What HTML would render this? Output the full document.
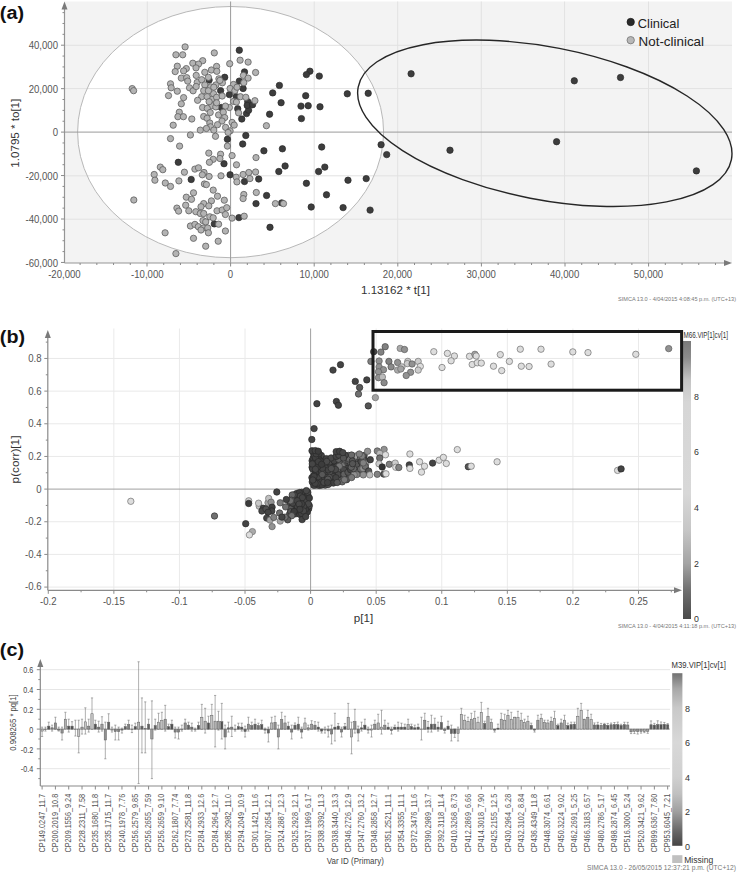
<!DOCTYPE html><html><head><meta charset="utf-8"><style>html,body{margin:0;padding:0;background:#fff;width:738px;height:874px;overflow:hidden}svg{display:block;font-family:"Liberation Sans",sans-serif}</style></head><body><svg width="738" height="874" viewBox="0 0 738 874" font-family='"Liberation Sans", sans-serif'>
<rect width="738" height="874" fill="#ffffff"/>
<rect x="64.5" y="1.5" width="667.5" height="261.5" fill="#f3f3f3"/>
<ellipse cx="230.6" cy="132.1" rx="153" ry="125.6" fill="#ffffff"/>
<line x1="147.3" y1="1.5" x2="147.3" y2="263" stroke="#e2e2e2" stroke-width="1"/>
<line x1="314.2" y1="1.5" x2="314.2" y2="263" stroke="#e2e2e2" stroke-width="1"/>
<line x1="397.7" y1="1.5" x2="397.7" y2="263" stroke="#e2e2e2" stroke-width="1"/>
<line x1="481.3" y1="1.5" x2="481.3" y2="263" stroke="#e2e2e2" stroke-width="1"/>
<line x1="564.6" y1="1.5" x2="564.6" y2="263" stroke="#e2e2e2" stroke-width="1"/>
<line x1="648.5" y1="1.5" x2="648.5" y2="263" stroke="#e2e2e2" stroke-width="1"/>
<line x1="64.5" y1="45.3" x2="732" y2="45.3" stroke="#e2e2e2" stroke-width="1"/>
<line x1="64.5" y1="88.6" x2="732" y2="88.6" stroke="#e2e2e2" stroke-width="1"/>
<line x1="64.5" y1="175.8" x2="732" y2="175.8" stroke="#e2e2e2" stroke-width="1"/>
<line x1="64.5" y1="219.2" x2="732" y2="219.2" stroke="#e2e2e2" stroke-width="1"/>
<ellipse cx="230.6" cy="132.1" rx="153" ry="125.6" fill="none" stroke="#b8b8b8" stroke-width="1"/>
<line x1="64.5" y1="132.1" x2="732" y2="132.1" stroke="#9a9a9a" stroke-width="1"/>
<line x1="230.6" y1="1.5" x2="230.6" y2="263" stroke="#9a9a9a" stroke-width="1"/>
<line x1="64.5" y1="8" x2="64.5" y2="263" stroke="#959595" stroke-width="1.2"/>
<path d="M64.5 1.5 L61.5 9.5 L67.5 9.5 Z" fill="#7a7a7a"/>
<line x1="64.5" y1="263" x2="724" y2="263" stroke="#959595" stroke-width="1.2"/>
<path d="M732 263 L724 260 L724 266 Z" fill="#7a7a7a"/>
<line x1="61" y1="262.44" x2="64.5" y2="262.44" stroke="#8a8a8a" stroke-width="1"/>
<line x1="62.5" y1="251.58" x2="64.5" y2="251.58" stroke="#8a8a8a" stroke-width="1"/>
<line x1="62.5" y1="240.72" x2="64.5" y2="240.72" stroke="#8a8a8a" stroke-width="1"/>
<line x1="62.5" y1="229.86" x2="64.5" y2="229.86" stroke="#8a8a8a" stroke-width="1"/>
<line x1="61" y1="219" x2="64.5" y2="219" stroke="#8a8a8a" stroke-width="1"/>
<line x1="62.5" y1="208.13" x2="64.5" y2="208.13" stroke="#8a8a8a" stroke-width="1"/>
<line x1="62.5" y1="197.27" x2="64.5" y2="197.27" stroke="#8a8a8a" stroke-width="1"/>
<line x1="62.5" y1="186.41" x2="64.5" y2="186.41" stroke="#8a8a8a" stroke-width="1"/>
<line x1="61" y1="175.55" x2="64.5" y2="175.55" stroke="#8a8a8a" stroke-width="1"/>
<line x1="62.5" y1="164.69" x2="64.5" y2="164.69" stroke="#8a8a8a" stroke-width="1"/>
<line x1="62.5" y1="153.82" x2="64.5" y2="153.82" stroke="#8a8a8a" stroke-width="1"/>
<line x1="62.5" y1="142.96" x2="64.5" y2="142.96" stroke="#8a8a8a" stroke-width="1"/>
<line x1="61" y1="132.1" x2="64.5" y2="132.1" stroke="#8a8a8a" stroke-width="1"/>
<line x1="62.5" y1="121.24" x2="64.5" y2="121.24" stroke="#8a8a8a" stroke-width="1"/>
<line x1="62.5" y1="110.38" x2="64.5" y2="110.38" stroke="#8a8a8a" stroke-width="1"/>
<line x1="62.5" y1="99.51" x2="64.5" y2="99.51" stroke="#8a8a8a" stroke-width="1"/>
<line x1="61" y1="88.65" x2="64.5" y2="88.65" stroke="#8a8a8a" stroke-width="1"/>
<line x1="62.5" y1="77.79" x2="64.5" y2="77.79" stroke="#8a8a8a" stroke-width="1"/>
<line x1="62.5" y1="66.93" x2="64.5" y2="66.93" stroke="#8a8a8a" stroke-width="1"/>
<line x1="62.5" y1="56.07" x2="64.5" y2="56.07" stroke="#8a8a8a" stroke-width="1"/>
<line x1="61" y1="45.2" x2="64.5" y2="45.2" stroke="#8a8a8a" stroke-width="1"/>
<line x1="62.5" y1="34.34" x2="64.5" y2="34.34" stroke="#8a8a8a" stroke-width="1"/>
<line x1="62.5" y1="23.48" x2="64.5" y2="23.48" stroke="#8a8a8a" stroke-width="1"/>
<line x1="62.5" y1="12.62" x2="64.5" y2="12.62" stroke="#8a8a8a" stroke-width="1"/>
<text transform="translate(58 49.3) scale(1.0 1.18)" font-size="9.6" text-anchor="end" fill="#555" >40,000</text>
<text transform="translate(58 92.6) scale(1.0 1.18)" font-size="9.6" text-anchor="end" fill="#555" >20,000</text>
<text transform="translate(58 136.1) scale(1.0 1.18)" font-size="9.6" text-anchor="end" fill="#555" >0</text>
<text transform="translate(58 179.8) scale(1.0 1.18)" font-size="9.6" text-anchor="end" fill="#555" >-20,000</text>
<text transform="translate(58 223.2) scale(1.0 1.18)" font-size="9.6" text-anchor="end" fill="#555" >-40,000</text>
<text transform="translate(58 266.6) scale(1.0 1.18)" font-size="9.6" text-anchor="end" fill="#555" >-60,000</text>
<line x1="80.12" y1="263" x2="80.12" y2="265" stroke="#8a8a8a" stroke-width="1"/>
<line x1="96.84" y1="263" x2="96.84" y2="265" stroke="#8a8a8a" stroke-width="1"/>
<line x1="113.56" y1="263" x2="113.56" y2="265" stroke="#8a8a8a" stroke-width="1"/>
<line x1="130.28" y1="263" x2="130.28" y2="265" stroke="#8a8a8a" stroke-width="1"/>
<line x1="147" y1="263" x2="147" y2="266.5" stroke="#8a8a8a" stroke-width="1"/>
<line x1="163.72" y1="263" x2="163.72" y2="265" stroke="#8a8a8a" stroke-width="1"/>
<line x1="180.44" y1="263" x2="180.44" y2="265" stroke="#8a8a8a" stroke-width="1"/>
<line x1="197.16" y1="263" x2="197.16" y2="265" stroke="#8a8a8a" stroke-width="1"/>
<line x1="213.88" y1="263" x2="213.88" y2="265" stroke="#8a8a8a" stroke-width="1"/>
<line x1="230.6" y1="263" x2="230.6" y2="266.5" stroke="#8a8a8a" stroke-width="1"/>
<line x1="247.32" y1="263" x2="247.32" y2="265" stroke="#8a8a8a" stroke-width="1"/>
<line x1="264.04" y1="263" x2="264.04" y2="265" stroke="#8a8a8a" stroke-width="1"/>
<line x1="280.76" y1="263" x2="280.76" y2="265" stroke="#8a8a8a" stroke-width="1"/>
<line x1="297.48" y1="263" x2="297.48" y2="265" stroke="#8a8a8a" stroke-width="1"/>
<line x1="314.2" y1="263" x2="314.2" y2="266.5" stroke="#8a8a8a" stroke-width="1"/>
<line x1="330.92" y1="263" x2="330.92" y2="265" stroke="#8a8a8a" stroke-width="1"/>
<line x1="347.64" y1="263" x2="347.64" y2="265" stroke="#8a8a8a" stroke-width="1"/>
<line x1="364.36" y1="263" x2="364.36" y2="265" stroke="#8a8a8a" stroke-width="1"/>
<line x1="381.08" y1="263" x2="381.08" y2="265" stroke="#8a8a8a" stroke-width="1"/>
<line x1="397.8" y1="263" x2="397.8" y2="266.5" stroke="#8a8a8a" stroke-width="1"/>
<line x1="414.52" y1="263" x2="414.52" y2="265" stroke="#8a8a8a" stroke-width="1"/>
<line x1="431.24" y1="263" x2="431.24" y2="265" stroke="#8a8a8a" stroke-width="1"/>
<line x1="447.96" y1="263" x2="447.96" y2="265" stroke="#8a8a8a" stroke-width="1"/>
<line x1="464.68" y1="263" x2="464.68" y2="265" stroke="#8a8a8a" stroke-width="1"/>
<line x1="481.4" y1="263" x2="481.4" y2="266.5" stroke="#8a8a8a" stroke-width="1"/>
<line x1="498.12" y1="263" x2="498.12" y2="265" stroke="#8a8a8a" stroke-width="1"/>
<line x1="514.84" y1="263" x2="514.84" y2="265" stroke="#8a8a8a" stroke-width="1"/>
<line x1="531.56" y1="263" x2="531.56" y2="265" stroke="#8a8a8a" stroke-width="1"/>
<line x1="548.28" y1="263" x2="548.28" y2="265" stroke="#8a8a8a" stroke-width="1"/>
<line x1="565" y1="263" x2="565" y2="266.5" stroke="#8a8a8a" stroke-width="1"/>
<line x1="581.72" y1="263" x2="581.72" y2="265" stroke="#8a8a8a" stroke-width="1"/>
<line x1="598.44" y1="263" x2="598.44" y2="265" stroke="#8a8a8a" stroke-width="1"/>
<line x1="615.16" y1="263" x2="615.16" y2="265" stroke="#8a8a8a" stroke-width="1"/>
<line x1="631.88" y1="263" x2="631.88" y2="265" stroke="#8a8a8a" stroke-width="1"/>
<line x1="648.6" y1="263" x2="648.6" y2="266.5" stroke="#8a8a8a" stroke-width="1"/>
<line x1="665.32" y1="263" x2="665.32" y2="265" stroke="#8a8a8a" stroke-width="1"/>
<line x1="682.04" y1="263" x2="682.04" y2="265" stroke="#8a8a8a" stroke-width="1"/>
<line x1="698.76" y1="263" x2="698.76" y2="265" stroke="#8a8a8a" stroke-width="1"/>
<line x1="715.48" y1="263" x2="715.48" y2="265" stroke="#8a8a8a" stroke-width="1"/>
<text transform="translate(64.4 277.7) scale(1.0 1.18)" font-size="9.6" text-anchor="middle" fill="#555" >-20,000</text>
<text transform="translate(147.3 277.7) scale(1.0 1.18)" font-size="9.6" text-anchor="middle" fill="#555" >-10,000</text>
<text transform="translate(230.4 277.7) scale(1.0 1.18)" font-size="9.6" text-anchor="middle" fill="#555" >0</text>
<text transform="translate(314.2 277.7) scale(1.0 1.18)" font-size="9.6" text-anchor="middle" fill="#555" >10,000</text>
<text transform="translate(397.5 277.7) scale(1.0 1.18)" font-size="9.6" text-anchor="middle" fill="#555" >20,000</text>
<text transform="translate(481.2 277.7) scale(1.0 1.18)" font-size="9.6" text-anchor="middle" fill="#555" >30,000</text>
<text transform="translate(564.6 277.7) scale(1.0 1.18)" font-size="9.6" text-anchor="middle" fill="#555" >40,000</text>
<text transform="translate(648.5 277.7) scale(1.0 1.18)" font-size="9.6" text-anchor="middle" fill="#555" >50,000</text>
<text x="395.5" y="293.8" font-size="11.6" text-anchor="middle" fill="#333" font-weight="normal" >1.13162 * t[1]</text>
<text transform="translate(19.3 133.2) rotate(-90)" font-size="11.6" text-anchor="middle" fill="#333">1.0795 * to[1]</text>
<circle cx="224.7" cy="77.3" r="3.2" fill="#3d3d3d" stroke="#2a2a2a" stroke-width="0.7"/>
<circle cx="209.1" cy="80.1" r="3.2" fill="#3d3d3d" stroke="#2a2a2a" stroke-width="0.7"/>
<circle cx="220.6" cy="90.6" r="3.2" fill="#3d3d3d" stroke="#2a2a2a" stroke-width="0.7"/>
<circle cx="239.3" cy="50.2" r="3.2" fill="#3d3d3d" stroke="#2a2a2a" stroke-width="0.7"/>
<circle cx="239.3" cy="81.1" r="3.2" fill="#3d3d3d" stroke="#2a2a2a" stroke-width="0.7"/>
<circle cx="229.4" cy="94.6" r="3.2" fill="#3d3d3d" stroke="#2a2a2a" stroke-width="0.7"/>
<circle cx="236.2" cy="96.7" r="3.2" fill="#3d3d3d" stroke="#2a2a2a" stroke-width="0.7"/>
<circle cx="244.5" cy="71.9" r="3.2" fill="#3d3d3d" stroke="#2a2a2a" stroke-width="0.7"/>
<circle cx="243.1" cy="88.5" r="3.2" fill="#3d3d3d" stroke="#2a2a2a" stroke-width="0.7"/>
<circle cx="279.4" cy="85.4" r="3.2" fill="#3d3d3d" stroke="#2a2a2a" stroke-width="0.7"/>
<circle cx="272.7" cy="92.9" r="3.2" fill="#3d3d3d" stroke="#2a2a2a" stroke-width="0.7"/>
<circle cx="309.9" cy="71.2" r="3.2" fill="#3d3d3d" stroke="#2a2a2a" stroke-width="0.7"/>
<circle cx="306.4" cy="74.6" r="3.2" fill="#3d3d3d" stroke="#2a2a2a" stroke-width="0.7"/>
<circle cx="319.3" cy="76.1" r="3.2" fill="#3d3d3d" stroke="#2a2a2a" stroke-width="0.7"/>
<circle cx="305.7" cy="95.7" r="3.2" fill="#3d3d3d" stroke="#2a2a2a" stroke-width="0.7"/>
<circle cx="247.7" cy="101.6" r="3.2" fill="#3d3d3d" stroke="#2a2a2a" stroke-width="0.7"/>
<circle cx="281.1" cy="102.7" r="3.2" fill="#3d3d3d" stroke="#2a2a2a" stroke-width="0.7"/>
<circle cx="301" cy="106.1" r="3.2" fill="#3d3d3d" stroke="#2a2a2a" stroke-width="0.7"/>
<circle cx="308.2" cy="105.7" r="3.2" fill="#3d3d3d" stroke="#2a2a2a" stroke-width="0.7"/>
<circle cx="320" cy="106.8" r="3.2" fill="#3d3d3d" stroke="#2a2a2a" stroke-width="0.7"/>
<circle cx="269.6" cy="114.2" r="3.2" fill="#3d3d3d" stroke="#2a2a2a" stroke-width="0.7"/>
<circle cx="301.4" cy="118.6" r="3.2" fill="#3d3d3d" stroke="#2a2a2a" stroke-width="0.7"/>
<circle cx="241.8" cy="119" r="3.2" fill="#3d3d3d" stroke="#2a2a2a" stroke-width="0.7"/>
<circle cx="246.5" cy="113.6" r="3.2" fill="#3d3d3d" stroke="#2a2a2a" stroke-width="0.7"/>
<circle cx="248.6" cy="110.2" r="3.2" fill="#3d3d3d" stroke="#2a2a2a" stroke-width="0.7"/>
<circle cx="247.2" cy="105.4" r="3.2" fill="#3d3d3d" stroke="#2a2a2a" stroke-width="0.7"/>
<circle cx="252.6" cy="104.7" r="3.2" fill="#3d3d3d" stroke="#2a2a2a" stroke-width="0.7"/>
<circle cx="237.7" cy="108.8" r="3.2" fill="#3d3d3d" stroke="#2a2a2a" stroke-width="0.7"/>
<circle cx="245.8" cy="135.5" r="3.2" fill="#3d3d3d" stroke="#2a2a2a" stroke-width="0.7"/>
<circle cx="242.7" cy="144" r="3.2" fill="#3d3d3d" stroke="#2a2a2a" stroke-width="0.7"/>
<circle cx="263.9" cy="150.8" r="3.2" fill="#3d3d3d" stroke="#2a2a2a" stroke-width="0.7"/>
<circle cx="282.4" cy="148.8" r="3.2" fill="#3d3d3d" stroke="#2a2a2a" stroke-width="0.7"/>
<circle cx="321.7" cy="147" r="3.2" fill="#3d3d3d" stroke="#2a2a2a" stroke-width="0.7"/>
<circle cx="285.1" cy="166" r="3.2" fill="#3d3d3d" stroke="#2a2a2a" stroke-width="0.7"/>
<circle cx="324.8" cy="167.1" r="3.2" fill="#3d3d3d" stroke="#2a2a2a" stroke-width="0.7"/>
<circle cx="278.8" cy="171.5" r="3.2" fill="#3d3d3d" stroke="#2a2a2a" stroke-width="0.7"/>
<circle cx="318.6" cy="171.5" r="3.2" fill="#3d3d3d" stroke="#2a2a2a" stroke-width="0.7"/>
<circle cx="227.4" cy="139.3" r="3.2" fill="#3d3d3d" stroke="#2a2a2a" stroke-width="0.7"/>
<circle cx="178.3" cy="162.3" r="3.2" fill="#3d3d3d" stroke="#2a2a2a" stroke-width="0.7"/>
<circle cx="224" cy="163.7" r="3.2" fill="#3d3d3d" stroke="#2a2a2a" stroke-width="0.7"/>
<circle cx="221.3" cy="107.5" r="3.2" fill="#3d3d3d" stroke="#2a2a2a" stroke-width="0.7"/>
<circle cx="191.2" cy="179.5" r="3.2" fill="#3d3d3d" stroke="#2a2a2a" stroke-width="0.7"/>
<circle cx="230.1" cy="174.8" r="3.2" fill="#3d3d3d" stroke="#2a2a2a" stroke-width="0.7"/>
<circle cx="214.3" cy="223.9" r="3.2" fill="#3d3d3d" stroke="#2a2a2a" stroke-width="0.7"/>
<circle cx="238.9" cy="217.6" r="3.2" fill="#3d3d3d" stroke="#2a2a2a" stroke-width="0.7"/>
<circle cx="258.7" cy="179" r="3.2" fill="#3d3d3d" stroke="#2a2a2a" stroke-width="0.7"/>
<circle cx="244.5" cy="181.5" r="3.2" fill="#3d3d3d" stroke="#2a2a2a" stroke-width="0.7"/>
<circle cx="306.4" cy="183.3" r="3.2" fill="#3d3d3d" stroke="#2a2a2a" stroke-width="0.7"/>
<circle cx="266.6" cy="195.5" r="3.2" fill="#3d3d3d" stroke="#2a2a2a" stroke-width="0.7"/>
<circle cx="326.5" cy="194.8" r="3.2" fill="#3d3d3d" stroke="#2a2a2a" stroke-width="0.7"/>
<circle cx="256" cy="203.6" r="3.2" fill="#3d3d3d" stroke="#2a2a2a" stroke-width="0.7"/>
<circle cx="281.7" cy="202.9" r="3.2" fill="#3d3d3d" stroke="#2a2a2a" stroke-width="0.7"/>
<circle cx="311.2" cy="207" r="3.2" fill="#3d3d3d" stroke="#2a2a2a" stroke-width="0.7"/>
<circle cx="270" cy="227.3" r="3.2" fill="#3d3d3d" stroke="#2a2a2a" stroke-width="0.7"/>
<circle cx="411.1" cy="73.8" r="3.2" fill="#3d3d3d" stroke="#2a2a2a" stroke-width="0.7"/>
<circle cx="347.3" cy="93.8" r="3.2" fill="#3d3d3d" stroke="#2a2a2a" stroke-width="0.7"/>
<circle cx="368.2" cy="93.3" r="3.2" fill="#3d3d3d" stroke="#2a2a2a" stroke-width="0.7"/>
<circle cx="381.1" cy="144.7" r="3.2" fill="#3d3d3d" stroke="#2a2a2a" stroke-width="0.7"/>
<circle cx="386.7" cy="154.6" r="3.2" fill="#3d3d3d" stroke="#2a2a2a" stroke-width="0.7"/>
<circle cx="450" cy="150.2" r="3.2" fill="#3d3d3d" stroke="#2a2a2a" stroke-width="0.7"/>
<circle cx="348" cy="180.2" r="3.2" fill="#3d3d3d" stroke="#2a2a2a" stroke-width="0.7"/>
<circle cx="366.2" cy="178.6" r="3.2" fill="#3d3d3d" stroke="#2a2a2a" stroke-width="0.7"/>
<circle cx="343.1" cy="207.6" r="3.2" fill="#3d3d3d" stroke="#2a2a2a" stroke-width="0.7"/>
<circle cx="370.1" cy="210.1" r="3.2" fill="#3d3d3d" stroke="#2a2a2a" stroke-width="0.7"/>
<circle cx="574.3" cy="80.8" r="3.2" fill="#3d3d3d" stroke="#2a2a2a" stroke-width="0.7"/>
<circle cx="620.5" cy="77.5" r="3.2" fill="#3d3d3d" stroke="#2a2a2a" stroke-width="0.7"/>
<circle cx="556.6" cy="141.7" r="3.2" fill="#3d3d3d" stroke="#2a2a2a" stroke-width="0.7"/>
<circle cx="696.4" cy="170.9" r="3.2" fill="#3d3d3d" stroke="#2a2a2a" stroke-width="0.7"/>
<circle cx="211.8" cy="99.1" r="3.15" fill="#b3b3b3" stroke="#5e5e5e" stroke-width="0.8"/>
<circle cx="211.8" cy="105.6" r="3.15" fill="#b3b3b3" stroke="#5e5e5e" stroke-width="0.8"/>
<circle cx="215.8" cy="106.9" r="3.15" fill="#b3b3b3" stroke="#5e5e5e" stroke-width="0.8"/>
<circle cx="213.5" cy="93.7" r="3.15" fill="#b3b3b3" stroke="#5e5e5e" stroke-width="0.8"/>
<circle cx="210.7" cy="86.9" r="3.15" fill="#b3b3b3" stroke="#5e5e5e" stroke-width="0.8"/>
<circle cx="218.9" cy="78.8" r="3.15" fill="#b3b3b3" stroke="#5e5e5e" stroke-width="0.8"/>
<circle cx="185.1" cy="46.9" r="3.15" fill="#b3b3b3" stroke="#5e5e5e" stroke-width="0.8"/>
<circle cx="175.9" cy="54.8" r="3.15" fill="#b3b3b3" stroke="#5e5e5e" stroke-width="0.8"/>
<circle cx="182.7" cy="54.8" r="3.15" fill="#b3b3b3" stroke="#5e5e5e" stroke-width="0.8"/>
<circle cx="214.3" cy="52.9" r="3.15" fill="#b3b3b3" stroke="#5e5e5e" stroke-width="0.8"/>
<circle cx="229.7" cy="63.7" r="3.15" fill="#b3b3b3" stroke="#5e5e5e" stroke-width="0.8"/>
<circle cx="202.7" cy="60.7" r="3.15" fill="#b3b3b3" stroke="#5e5e5e" stroke-width="0.8"/>
<circle cx="192.8" cy="63.2" r="3.15" fill="#b3b3b3" stroke="#5e5e5e" stroke-width="0.8"/>
<circle cx="198.5" cy="64.1" r="3.15" fill="#b3b3b3" stroke="#5e5e5e" stroke-width="0.8"/>
<circle cx="196" cy="67.9" r="3.15" fill="#b3b3b3" stroke="#5e5e5e" stroke-width="0.8"/>
<circle cx="177.3" cy="66.2" r="3.15" fill="#b3b3b3" stroke="#5e5e5e" stroke-width="0.8"/>
<circle cx="175.2" cy="71.6" r="3.15" fill="#b3b3b3" stroke="#5e5e5e" stroke-width="0.8"/>
<circle cx="186.3" cy="68.6" r="3.15" fill="#b3b3b3" stroke="#5e5e5e" stroke-width="0.8"/>
<circle cx="183.6" cy="70.9" r="3.15" fill="#b3b3b3" stroke="#5e5e5e" stroke-width="0.8"/>
<circle cx="204.8" cy="72.3" r="3.15" fill="#b3b3b3" stroke="#5e5e5e" stroke-width="0.8"/>
<circle cx="211.4" cy="70" r="3.15" fill="#b3b3b3" stroke="#5e5e5e" stroke-width="0.8"/>
<circle cx="216.6" cy="66.4" r="3.15" fill="#b3b3b3" stroke="#5e5e5e" stroke-width="0.8"/>
<circle cx="216.8" cy="71.3" r="3.15" fill="#b3b3b3" stroke="#5e5e5e" stroke-width="0.8"/>
<circle cx="196.2" cy="75.4" r="3.15" fill="#b3b3b3" stroke="#5e5e5e" stroke-width="0.8"/>
<circle cx="181.3" cy="78.1" r="3.15" fill="#b3b3b3" stroke="#5e5e5e" stroke-width="0.8"/>
<circle cx="186.7" cy="77.7" r="3.15" fill="#b3b3b3" stroke="#5e5e5e" stroke-width="0.8"/>
<circle cx="187.7" cy="81.1" r="3.15" fill="#b3b3b3" stroke="#5e5e5e" stroke-width="0.8"/>
<circle cx="208.4" cy="77.3" r="3.15" fill="#b3b3b3" stroke="#5e5e5e" stroke-width="0.8"/>
<circle cx="197.2" cy="82.4" r="3.15" fill="#b3b3b3" stroke="#5e5e5e" stroke-width="0.8"/>
<circle cx="201.7" cy="79.7" r="3.15" fill="#b3b3b3" stroke="#5e5e5e" stroke-width="0.8"/>
<circle cx="170.5" cy="83.8" r="3.15" fill="#b3b3b3" stroke="#5e5e5e" stroke-width="0.8"/>
<circle cx="171.2" cy="87.8" r="3.15" fill="#b3b3b3" stroke="#5e5e5e" stroke-width="0.8"/>
<circle cx="177.3" cy="91.2" r="3.15" fill="#b3b3b3" stroke="#5e5e5e" stroke-width="0.8"/>
<circle cx="168.5" cy="95.6" r="3.15" fill="#b3b3b3" stroke="#5e5e5e" stroke-width="0.8"/>
<circle cx="183.6" cy="97.6" r="3.15" fill="#b3b3b3" stroke="#5e5e5e" stroke-width="0.8"/>
<circle cx="189.5" cy="87.8" r="3.15" fill="#b3b3b3" stroke="#5e5e5e" stroke-width="0.8"/>
<circle cx="193.1" cy="90.8" r="3.15" fill="#b3b3b3" stroke="#5e5e5e" stroke-width="0.8"/>
<circle cx="196.2" cy="86.5" r="3.15" fill="#b3b3b3" stroke="#5e5e5e" stroke-width="0.8"/>
<circle cx="204.8" cy="84.9" r="3.15" fill="#b3b3b3" stroke="#5e5e5e" stroke-width="0.8"/>
<circle cx="215.9" cy="84.9" r="3.15" fill="#b3b3b3" stroke="#5e5e5e" stroke-width="0.8"/>
<circle cx="222.4" cy="82.8" r="3.15" fill="#b3b3b3" stroke="#5e5e5e" stroke-width="0.8"/>
<circle cx="219.9" cy="80.4" r="3.15" fill="#b3b3b3" stroke="#5e5e5e" stroke-width="0.8"/>
<circle cx="203.7" cy="90.6" r="3.15" fill="#b3b3b3" stroke="#5e5e5e" stroke-width="0.8"/>
<circle cx="208.4" cy="90.8" r="3.15" fill="#b3b3b3" stroke="#5e5e5e" stroke-width="0.8"/>
<circle cx="213.8" cy="87.2" r="3.15" fill="#b3b3b3" stroke="#5e5e5e" stroke-width="0.8"/>
<circle cx="201.7" cy="96.7" r="3.15" fill="#b3b3b3" stroke="#5e5e5e" stroke-width="0.8"/>
<circle cx="207.1" cy="96.7" r="3.15" fill="#b3b3b3" stroke="#5e5e5e" stroke-width="0.8"/>
<circle cx="216.6" cy="97.3" r="3.15" fill="#b3b3b3" stroke="#5e5e5e" stroke-width="0.8"/>
<circle cx="222.2" cy="96" r="3.15" fill="#b3b3b3" stroke="#5e5e5e" stroke-width="0.8"/>
<circle cx="197.6" cy="100.3" r="3.15" fill="#b3b3b3" stroke="#5e5e5e" stroke-width="0.8"/>
<circle cx="209.1" cy="101.7" r="3.15" fill="#b3b3b3" stroke="#5e5e5e" stroke-width="0.8"/>
<circle cx="216.6" cy="102.8" r="3.15" fill="#b3b3b3" stroke="#5e5e5e" stroke-width="0.8"/>
<circle cx="181.3" cy="103.8" r="3.15" fill="#b3b3b3" stroke="#5e5e5e" stroke-width="0.8"/>
<circle cx="233.5" cy="84.5" r="3.15" fill="#b3b3b3" stroke="#5e5e5e" stroke-width="0.8"/>
<circle cx="230.1" cy="88.5" r="3.15" fill="#b3b3b3" stroke="#5e5e5e" stroke-width="0.8"/>
<circle cx="234.9" cy="90.6" r="3.15" fill="#b3b3b3" stroke="#5e5e5e" stroke-width="0.8"/>
<circle cx="233.5" cy="101.4" r="3.15" fill="#b3b3b3" stroke="#5e5e5e" stroke-width="0.8"/>
<circle cx="240.1" cy="60.2" r="3.15" fill="#b3b3b3" stroke="#5e5e5e" stroke-width="0.8"/>
<circle cx="248.1" cy="62.1" r="3.15" fill="#b3b3b3" stroke="#5e5e5e" stroke-width="0.8"/>
<circle cx="255.6" cy="72.5" r="3.15" fill="#b3b3b3" stroke="#5e5e5e" stroke-width="0.8"/>
<circle cx="243.4" cy="75.4" r="3.15" fill="#b3b3b3" stroke="#5e5e5e" stroke-width="0.8"/>
<circle cx="248.1" cy="78.1" r="3.15" fill="#b3b3b3" stroke="#5e5e5e" stroke-width="0.8"/>
<circle cx="243.8" cy="82.7" r="3.15" fill="#b3b3b3" stroke="#5e5e5e" stroke-width="0.8"/>
<circle cx="237" cy="87.2" r="3.15" fill="#b3b3b3" stroke="#5e5e5e" stroke-width="0.8"/>
<circle cx="240.4" cy="96.7" r="3.15" fill="#b3b3b3" stroke="#5e5e5e" stroke-width="0.8"/>
<circle cx="245.8" cy="97.3" r="3.15" fill="#b3b3b3" stroke="#5e5e5e" stroke-width="0.8"/>
<circle cx="254.9" cy="100.7" r="3.15" fill="#b3b3b3" stroke="#5e5e5e" stroke-width="0.8"/>
<circle cx="236.4" cy="102.1" r="3.15" fill="#b3b3b3" stroke="#5e5e5e" stroke-width="0.8"/>
<circle cx="179.3" cy="112.2" r="3.15" fill="#b3b3b3" stroke="#5e5e5e" stroke-width="0.8"/>
<circle cx="177.9" cy="116.7" r="3.15" fill="#b3b3b3" stroke="#5e5e5e" stroke-width="0.8"/>
<circle cx="183.4" cy="116.7" r="3.15" fill="#b3b3b3" stroke="#5e5e5e" stroke-width="0.8"/>
<circle cx="191.8" cy="119" r="3.15" fill="#b3b3b3" stroke="#5e5e5e" stroke-width="0.8"/>
<circle cx="173.2" cy="125.2" r="3.15" fill="#b3b3b3" stroke="#5e5e5e" stroke-width="0.8"/>
<circle cx="202.6" cy="107.5" r="3.15" fill="#b3b3b3" stroke="#5e5e5e" stroke-width="0.8"/>
<circle cx="207.3" cy="108.4" r="3.15" fill="#b3b3b3" stroke="#5e5e5e" stroke-width="0.8"/>
<circle cx="210.2" cy="112.5" r="3.15" fill="#b3b3b3" stroke="#5e5e5e" stroke-width="0.8"/>
<circle cx="203.7" cy="116.5" r="3.15" fill="#b3b3b3" stroke="#5e5e5e" stroke-width="0.8"/>
<circle cx="207.1" cy="118.3" r="3.15" fill="#b3b3b3" stroke="#5e5e5e" stroke-width="0.8"/>
<circle cx="218.6" cy="114.9" r="3.15" fill="#b3b3b3" stroke="#5e5e5e" stroke-width="0.8"/>
<circle cx="223.3" cy="112.2" r="3.15" fill="#b3b3b3" stroke="#5e5e5e" stroke-width="0.8"/>
<circle cx="224.7" cy="117.6" r="3.15" fill="#b3b3b3" stroke="#5e5e5e" stroke-width="0.8"/>
<circle cx="222" cy="121" r="3.15" fill="#b3b3b3" stroke="#5e5e5e" stroke-width="0.8"/>
<circle cx="229.4" cy="107.5" r="3.15" fill="#b3b3b3" stroke="#5e5e5e" stroke-width="0.8"/>
<circle cx="225.4" cy="106.1" r="3.15" fill="#b3b3b3" stroke="#5e5e5e" stroke-width="0.8"/>
<circle cx="209.8" cy="123" r="3.15" fill="#b3b3b3" stroke="#5e5e5e" stroke-width="0.8"/>
<circle cx="217.5" cy="124.7" r="3.15" fill="#b3b3b3" stroke="#5e5e5e" stroke-width="0.8"/>
<circle cx="210.5" cy="126.8" r="3.15" fill="#b3b3b3" stroke="#5e5e5e" stroke-width="0.8"/>
<circle cx="206.4" cy="128.5" r="3.15" fill="#b3b3b3" stroke="#5e5e5e" stroke-width="0.8"/>
<circle cx="200.3" cy="130.1" r="3.15" fill="#b3b3b3" stroke="#5e5e5e" stroke-width="0.8"/>
<circle cx="213.8" cy="130.1" r="3.15" fill="#b3b3b3" stroke="#5e5e5e" stroke-width="0.8"/>
<circle cx="225.6" cy="127.4" r="3.15" fill="#b3b3b3" stroke="#5e5e5e" stroke-width="0.8"/>
<circle cx="232.1" cy="122.4" r="3.15" fill="#b3b3b3" stroke="#5e5e5e" stroke-width="0.8"/>
<circle cx="234.2" cy="125.1" r="3.15" fill="#b3b3b3" stroke="#5e5e5e" stroke-width="0.8"/>
<circle cx="230.1" cy="130.9" r="3.15" fill="#b3b3b3" stroke="#5e5e5e" stroke-width="0.8"/>
<circle cx="228.1" cy="132.5" r="3.15" fill="#b3b3b3" stroke="#5e5e5e" stroke-width="0.8"/>
<circle cx="215.5" cy="136.3" r="3.15" fill="#b3b3b3" stroke="#5e5e5e" stroke-width="0.8"/>
<circle cx="190.4" cy="135" r="3.15" fill="#b3b3b3" stroke="#5e5e5e" stroke-width="0.8"/>
<circle cx="170.5" cy="138.6" r="3.15" fill="#b3b3b3" stroke="#5e5e5e" stroke-width="0.8"/>
<circle cx="179.6" cy="146.1" r="3.15" fill="#b3b3b3" stroke="#5e5e5e" stroke-width="0.8"/>
<circle cx="227.4" cy="146.1" r="3.15" fill="#b3b3b3" stroke="#5e5e5e" stroke-width="0.8"/>
<circle cx="208.8" cy="153.1" r="3.15" fill="#b3b3b3" stroke="#5e5e5e" stroke-width="0.8"/>
<circle cx="220.6" cy="154.2" r="3.15" fill="#b3b3b3" stroke="#5e5e5e" stroke-width="0.8"/>
<circle cx="219.9" cy="158.5" r="3.15" fill="#b3b3b3" stroke="#5e5e5e" stroke-width="0.8"/>
<circle cx="213.2" cy="159.3" r="3.15" fill="#b3b3b3" stroke="#5e5e5e" stroke-width="0.8"/>
<circle cx="209.4" cy="162.3" r="3.15" fill="#b3b3b3" stroke="#5e5e5e" stroke-width="0.8"/>
<circle cx="232.1" cy="155.6" r="3.15" fill="#b3b3b3" stroke="#5e5e5e" stroke-width="0.8"/>
<circle cx="236.5" cy="164.8" r="3.15" fill="#b3b3b3" stroke="#5e5e5e" stroke-width="0.8"/>
<circle cx="160.3" cy="167.1" r="3.15" fill="#b3b3b3" stroke="#5e5e5e" stroke-width="0.8"/>
<circle cx="194.9" cy="169.1" r="3.15" fill="#b3b3b3" stroke="#5e5e5e" stroke-width="0.8"/>
<circle cx="198.5" cy="167.8" r="3.15" fill="#b3b3b3" stroke="#5e5e5e" stroke-width="0.8"/>
<circle cx="238.6" cy="112.9" r="3.15" fill="#b3b3b3" stroke="#5e5e5e" stroke-width="0.8"/>
<circle cx="266.4" cy="125.7" r="3.15" fill="#b3b3b3" stroke="#5e5e5e" stroke-width="0.8"/>
<circle cx="256" cy="157.6" r="3.15" fill="#b3b3b3" stroke="#5e5e5e" stroke-width="0.8"/>
<circle cx="162.8" cy="169.7" r="3.15" fill="#b3b3b3" stroke="#5e5e5e" stroke-width="0.8"/>
<circle cx="154.2" cy="174.5" r="3.15" fill="#b3b3b3" stroke="#5e5e5e" stroke-width="0.8"/>
<circle cx="154.9" cy="180.2" r="3.15" fill="#b3b3b3" stroke="#5e5e5e" stroke-width="0.8"/>
<circle cx="165.3" cy="183" r="3.15" fill="#b3b3b3" stroke="#5e5e5e" stroke-width="0.8"/>
<circle cx="170.5" cy="186.4" r="3.15" fill="#b3b3b3" stroke="#5e5e5e" stroke-width="0.8"/>
<circle cx="178.9" cy="180.9" r="3.15" fill="#b3b3b3" stroke="#5e5e5e" stroke-width="0.8"/>
<circle cx="184.4" cy="172.2" r="3.15" fill="#b3b3b3" stroke="#5e5e5e" stroke-width="0.8"/>
<circle cx="204" cy="172.5" r="3.15" fill="#b3b3b3" stroke="#5e5e5e" stroke-width="0.8"/>
<circle cx="202.3" cy="174.8" r="3.15" fill="#b3b3b3" stroke="#5e5e5e" stroke-width="0.8"/>
<circle cx="209.1" cy="176.5" r="3.15" fill="#b3b3b3" stroke="#5e5e5e" stroke-width="0.8"/>
<circle cx="204.4" cy="184" r="3.15" fill="#b3b3b3" stroke="#5e5e5e" stroke-width="0.8"/>
<circle cx="206.4" cy="184.6" r="3.15" fill="#b3b3b3" stroke="#5e5e5e" stroke-width="0.8"/>
<circle cx="221" cy="175.8" r="3.15" fill="#b3b3b3" stroke="#5e5e5e" stroke-width="0.8"/>
<circle cx="213.2" cy="190.1" r="3.15" fill="#b3b3b3" stroke="#5e5e5e" stroke-width="0.8"/>
<circle cx="193.5" cy="192.8" r="3.15" fill="#b3b3b3" stroke="#5e5e5e" stroke-width="0.8"/>
<circle cx="186.3" cy="197.2" r="3.15" fill="#b3b3b3" stroke="#5e5e5e" stroke-width="0.8"/>
<circle cx="191.5" cy="199.3" r="3.15" fill="#b3b3b3" stroke="#5e5e5e" stroke-width="0.8"/>
<circle cx="217.5" cy="196.2" r="3.15" fill="#b3b3b3" stroke="#5e5e5e" stroke-width="0.8"/>
<circle cx="211.4" cy="200.9" r="3.15" fill="#b3b3b3" stroke="#5e5e5e" stroke-width="0.8"/>
<circle cx="224.3" cy="200.2" r="3.15" fill="#b3b3b3" stroke="#5e5e5e" stroke-width="0.8"/>
<circle cx="203.7" cy="203.6" r="3.15" fill="#b3b3b3" stroke="#5e5e5e" stroke-width="0.8"/>
<circle cx="201" cy="206.7" r="3.15" fill="#b3b3b3" stroke="#5e5e5e" stroke-width="0.8"/>
<circle cx="208.8" cy="205.9" r="3.15" fill="#b3b3b3" stroke="#5e5e5e" stroke-width="0.8"/>
<circle cx="185.7" cy="205.2" r="3.15" fill="#b3b3b3" stroke="#5e5e5e" stroke-width="0.8"/>
<circle cx="176.9" cy="208.1" r="3.15" fill="#b3b3b3" stroke="#5e5e5e" stroke-width="0.8"/>
<circle cx="178.6" cy="211.1" r="3.15" fill="#b3b3b3" stroke="#5e5e5e" stroke-width="0.8"/>
<circle cx="188.8" cy="210.8" r="3.15" fill="#b3b3b3" stroke="#5e5e5e" stroke-width="0.8"/>
<circle cx="195.8" cy="211.7" r="3.15" fill="#b3b3b3" stroke="#5e5e5e" stroke-width="0.8"/>
<circle cx="200.3" cy="213.5" r="3.15" fill="#b3b3b3" stroke="#5e5e5e" stroke-width="0.8"/>
<circle cx="203.7" cy="213.5" r="3.15" fill="#b3b3b3" stroke="#5e5e5e" stroke-width="0.8"/>
<circle cx="217" cy="210.8" r="3.15" fill="#b3b3b3" stroke="#5e5e5e" stroke-width="0.8"/>
<circle cx="222.2" cy="210" r="3.15" fill="#b3b3b3" stroke="#5e5e5e" stroke-width="0.8"/>
<circle cx="226.7" cy="207.7" r="3.15" fill="#b3b3b3" stroke="#5e5e5e" stroke-width="0.8"/>
<circle cx="225.4" cy="214.5" r="3.15" fill="#b3b3b3" stroke="#5e5e5e" stroke-width="0.8"/>
<circle cx="209.8" cy="216.8" r="3.15" fill="#b3b3b3" stroke="#5e5e5e" stroke-width="0.8"/>
<circle cx="213.2" cy="217.8" r="3.15" fill="#b3b3b3" stroke="#5e5e5e" stroke-width="0.8"/>
<circle cx="203" cy="220.6" r="3.15" fill="#b3b3b3" stroke="#5e5e5e" stroke-width="0.8"/>
<circle cx="205.7" cy="221.9" r="3.15" fill="#b3b3b3" stroke="#5e5e5e" stroke-width="0.8"/>
<circle cx="218.6" cy="224.2" r="3.15" fill="#b3b3b3" stroke="#5e5e5e" stroke-width="0.8"/>
<circle cx="232.1" cy="218.1" r="3.15" fill="#b3b3b3" stroke="#5e5e5e" stroke-width="0.8"/>
<circle cx="190.4" cy="226" r="3.15" fill="#b3b3b3" stroke="#5e5e5e" stroke-width="0.8"/>
<circle cx="194.9" cy="224.4" r="3.15" fill="#b3b3b3" stroke="#5e5e5e" stroke-width="0.8"/>
<circle cx="198.3" cy="226.7" r="3.15" fill="#b3b3b3" stroke="#5e5e5e" stroke-width="0.8"/>
<circle cx="203.4" cy="228" r="3.15" fill="#b3b3b3" stroke="#5e5e5e" stroke-width="0.8"/>
<circle cx="207.7" cy="228" r="3.15" fill="#b3b3b3" stroke="#5e5e5e" stroke-width="0.8"/>
<circle cx="201" cy="230" r="3.15" fill="#b3b3b3" stroke="#5e5e5e" stroke-width="0.8"/>
<circle cx="208.4" cy="232.8" r="3.15" fill="#b3b3b3" stroke="#5e5e5e" stroke-width="0.8"/>
<circle cx="225.4" cy="231" r="3.15" fill="#b3b3b3" stroke="#5e5e5e" stroke-width="0.8"/>
<circle cx="165.1" cy="232.8" r="3.15" fill="#b3b3b3" stroke="#5e5e5e" stroke-width="0.8"/>
<circle cx="236.2" cy="177.2" r="3.15" fill="#b3b3b3" stroke="#5e5e5e" stroke-width="0.8"/>
<circle cx="236.9" cy="181.9" r="3.15" fill="#b3b3b3" stroke="#5e5e5e" stroke-width="0.8"/>
<circle cx="243.1" cy="174.5" r="3.15" fill="#b3b3b3" stroke="#5e5e5e" stroke-width="0.8"/>
<circle cx="248.8" cy="172.5" r="3.15" fill="#b3b3b3" stroke="#5e5e5e" stroke-width="0.8"/>
<circle cx="255.6" cy="172" r="3.15" fill="#b3b3b3" stroke="#5e5e5e" stroke-width="0.8"/>
<circle cx="249.9" cy="178.6" r="3.15" fill="#b3b3b3" stroke="#5e5e5e" stroke-width="0.8"/>
<circle cx="256.3" cy="192.5" r="3.15" fill="#b3b3b3" stroke="#5e5e5e" stroke-width="0.8"/>
<circle cx="243.8" cy="194.5" r="3.15" fill="#b3b3b3" stroke="#5e5e5e" stroke-width="0.8"/>
<circle cx="243.1" cy="198.6" r="3.15" fill="#b3b3b3" stroke="#5e5e5e" stroke-width="0.8"/>
<circle cx="275.4" cy="203.6" r="3.15" fill="#b3b3b3" stroke="#5e5e5e" stroke-width="0.8"/>
<circle cx="283.5" cy="203.6" r="3.15" fill="#b3b3b3" stroke="#5e5e5e" stroke-width="0.8"/>
<circle cx="244.2" cy="216.2" r="3.15" fill="#b3b3b3" stroke="#5e5e5e" stroke-width="0.8"/>
<circle cx="193.5" cy="238.3" r="3.15" fill="#b3b3b3" stroke="#5e5e5e" stroke-width="0.8"/>
<circle cx="205.7" cy="246.2" r="3.15" fill="#b3b3b3" stroke="#5e5e5e" stroke-width="0.8"/>
<circle cx="218.2" cy="241.2" r="3.15" fill="#b3b3b3" stroke="#5e5e5e" stroke-width="0.8"/>
<circle cx="175.9" cy="253.6" r="3.15" fill="#b3b3b3" stroke="#5e5e5e" stroke-width="0.8"/>
<circle cx="132.2" cy="88.6" r="3.15" fill="#b3b3b3" stroke="#5e5e5e" stroke-width="0.8"/>
<circle cx="133.6" cy="90.7" r="3.15" fill="#b3b3b3" stroke="#5e5e5e" stroke-width="0.8"/>
<circle cx="133.8" cy="200" r="3.15" fill="#b3b3b3" stroke="#5e5e5e" stroke-width="0.8"/>
<ellipse cx="544.8" cy="123.3" rx="190.1" ry="76.3" transform="rotate(11 544.8 123.3)" fill="none" stroke="#262626" stroke-width="1.4"/>
<circle cx="630.7" cy="22" r="3.7" fill="#2a2a2a" stroke="#1a1a1a" stroke-width="0.7"/>
<circle cx="630.7" cy="40.2" r="3.7" fill="#b8b8b8" stroke="#6a6a6a" stroke-width="0.7"/>
<text x="637.8" y="27.8" font-size="13" text-anchor="start" fill="#222" font-weight="normal" textLength="41.5" lengthAdjust="spacingAndGlyphs">Clinical</text>
<text x="638.6" y="45.9" font-size="13" text-anchor="start" fill="#222" font-weight="normal" textLength="65.4" lengthAdjust="spacingAndGlyphs">Not-clinical</text>
<text x="736" y="300.5" font-size="5.2" text-anchor="end" fill="#777" font-weight="normal" textLength="118" lengthAdjust="spacingAndGlyphs">SIMCA 13.0 - 4/04/2015 4:08:45 p.m. (UTC+13)</text>
<text x="-0.2" y="19.3" font-size="19.2" text-anchor="start" fill="#111" font-weight="bold" textLength="24.2" lengthAdjust="spacingAndGlyphs">(a)</text>
<rect x="47.8" y="334" width="633.7" height="256.29999999999995" fill="#ffffff"/>
<line x1="113.86" y1="328.5" x2="113.86" y2="590.3" stroke="#eaeaea" stroke-width="1"/>
<line x1="179.44" y1="328.5" x2="179.44" y2="590.3" stroke="#eaeaea" stroke-width="1"/>
<line x1="245.02" y1="328.5" x2="245.02" y2="590.3" stroke="#eaeaea" stroke-width="1"/>
<line x1="376.18" y1="328.5" x2="376.18" y2="590.3" stroke="#eaeaea" stroke-width="1"/>
<line x1="441.76" y1="328.5" x2="441.76" y2="590.3" stroke="#eaeaea" stroke-width="1"/>
<line x1="507.34" y1="328.5" x2="507.34" y2="590.3" stroke="#eaeaea" stroke-width="1"/>
<line x1="572.92" y1="328.5" x2="572.92" y2="590.3" stroke="#eaeaea" stroke-width="1"/>
<line x1="638.5" y1="328.5" x2="638.5" y2="590.3" stroke="#eaeaea" stroke-width="1"/>
<line x1="47.8" y1="358.46" x2="681.5" y2="358.46" stroke="#e9e9e9" stroke-width="1"/>
<line x1="47.8" y1="391.12" x2="681.5" y2="391.12" stroke="#e9e9e9" stroke-width="1"/>
<line x1="47.8" y1="423.78" x2="681.5" y2="423.78" stroke="#e9e9e9" stroke-width="1"/>
<line x1="47.8" y1="456.44" x2="681.5" y2="456.44" stroke="#e9e9e9" stroke-width="1"/>
<line x1="47.8" y1="521.76" x2="681.5" y2="521.76" stroke="#e9e9e9" stroke-width="1"/>
<line x1="47.8" y1="554.42" x2="681.5" y2="554.42" stroke="#e9e9e9" stroke-width="1"/>
<line x1="47.8" y1="587.08" x2="681.5" y2="587.08" stroke="#e9e9e9" stroke-width="1"/>
<line x1="47.8" y1="489.1" x2="681.5" y2="489.1" stroke="#a0a0a0" stroke-width="1"/>
<line x1="310.6" y1="328.5" x2="310.6" y2="590.3" stroke="#a0a0a0" stroke-width="1"/>
<line x1="47.8" y1="337" x2="47.8" y2="590.3" stroke="#8a8a8a" stroke-width="1.2"/>
<path d="M47.8 330 L44.8 338 L50.8 338 Z" fill="#7a7a7a"/>
<line x1="47.8" y1="590.3" x2="674" y2="590.3" stroke="#8a8a8a" stroke-width="1.2"/>
<path d="M682 590.3 L674 587.3 L674 593.3 Z" fill="#7a7a7a"/>
<line x1="44.3" y1="587.08" x2="47.8" y2="587.08" stroke="#8a8a8a" stroke-width="1"/>
<line x1="45.8" y1="570.75" x2="47.8" y2="570.75" stroke="#8a8a8a" stroke-width="1"/>
<line x1="44.3" y1="554.42" x2="47.8" y2="554.42" stroke="#8a8a8a" stroke-width="1"/>
<line x1="45.8" y1="538.09" x2="47.8" y2="538.09" stroke="#8a8a8a" stroke-width="1"/>
<line x1="44.3" y1="521.76" x2="47.8" y2="521.76" stroke="#8a8a8a" stroke-width="1"/>
<line x1="45.8" y1="505.43" x2="47.8" y2="505.43" stroke="#8a8a8a" stroke-width="1"/>
<line x1="44.3" y1="489.1" x2="47.8" y2="489.1" stroke="#8a8a8a" stroke-width="1"/>
<line x1="45.8" y1="472.77" x2="47.8" y2="472.77" stroke="#8a8a8a" stroke-width="1"/>
<line x1="44.3" y1="456.44" x2="47.8" y2="456.44" stroke="#8a8a8a" stroke-width="1"/>
<line x1="45.8" y1="440.11" x2="47.8" y2="440.11" stroke="#8a8a8a" stroke-width="1"/>
<line x1="44.3" y1="423.78" x2="47.8" y2="423.78" stroke="#8a8a8a" stroke-width="1"/>
<line x1="45.8" y1="407.45" x2="47.8" y2="407.45" stroke="#8a8a8a" stroke-width="1"/>
<line x1="44.3" y1="391.12" x2="47.8" y2="391.12" stroke="#8a8a8a" stroke-width="1"/>
<line x1="45.8" y1="374.79" x2="47.8" y2="374.79" stroke="#8a8a8a" stroke-width="1"/>
<line x1="44.3" y1="358.46" x2="47.8" y2="358.46" stroke="#8a8a8a" stroke-width="1"/>
<line x1="45.8" y1="342.13" x2="47.8" y2="342.13" stroke="#8a8a8a" stroke-width="1"/>
<text transform="translate(41.5 361.86) scale(1.0 1.18)" font-size="9.6" text-anchor="end" fill="#555" >0.8</text>
<text transform="translate(41.5 394.52) scale(1.0 1.18)" font-size="9.6" text-anchor="end" fill="#555" >0.6</text>
<text transform="translate(41.5 427.18) scale(1.0 1.18)" font-size="9.6" text-anchor="end" fill="#555" >0.4</text>
<text transform="translate(41.5 459.84) scale(1.0 1.18)" font-size="9.6" text-anchor="end" fill="#555" >0.2</text>
<text transform="translate(41.5 492.5) scale(1.0 1.18)" font-size="9.6" text-anchor="end" fill="#555" >0</text>
<text transform="translate(41.5 525.16) scale(1.0 1.18)" font-size="9.6" text-anchor="end" fill="#555" >-0.2</text>
<text transform="translate(41.5 557.82) scale(1.0 1.18)" font-size="9.6" text-anchor="end" fill="#555" >-0.4</text>
<text transform="translate(41.5 590.48) scale(1.0 1.18)" font-size="9.6" text-anchor="end" fill="#555" >-0.6</text>
<line x1="48.28" y1="590.3" x2="48.28" y2="593.8" stroke="#8a8a8a" stroke-width="1"/>
<line x1="81.07" y1="590.3" x2="81.07" y2="592.3" stroke="#8a8a8a" stroke-width="1"/>
<line x1="113.86" y1="590.3" x2="113.86" y2="593.8" stroke="#8a8a8a" stroke-width="1"/>
<line x1="146.65" y1="590.3" x2="146.65" y2="592.3" stroke="#8a8a8a" stroke-width="1"/>
<line x1="179.44" y1="590.3" x2="179.44" y2="593.8" stroke="#8a8a8a" stroke-width="1"/>
<line x1="212.23" y1="590.3" x2="212.23" y2="592.3" stroke="#8a8a8a" stroke-width="1"/>
<line x1="245.02" y1="590.3" x2="245.02" y2="593.8" stroke="#8a8a8a" stroke-width="1"/>
<line x1="277.81" y1="590.3" x2="277.81" y2="592.3" stroke="#8a8a8a" stroke-width="1"/>
<line x1="310.6" y1="590.3" x2="310.6" y2="593.8" stroke="#8a8a8a" stroke-width="1"/>
<line x1="343.39" y1="590.3" x2="343.39" y2="592.3" stroke="#8a8a8a" stroke-width="1"/>
<line x1="376.18" y1="590.3" x2="376.18" y2="593.8" stroke="#8a8a8a" stroke-width="1"/>
<line x1="408.97" y1="590.3" x2="408.97" y2="592.3" stroke="#8a8a8a" stroke-width="1"/>
<line x1="441.76" y1="590.3" x2="441.76" y2="593.8" stroke="#8a8a8a" stroke-width="1"/>
<line x1="474.55" y1="590.3" x2="474.55" y2="592.3" stroke="#8a8a8a" stroke-width="1"/>
<line x1="507.34" y1="590.3" x2="507.34" y2="593.8" stroke="#8a8a8a" stroke-width="1"/>
<line x1="540.13" y1="590.3" x2="540.13" y2="592.3" stroke="#8a8a8a" stroke-width="1"/>
<line x1="572.92" y1="590.3" x2="572.92" y2="593.8" stroke="#8a8a8a" stroke-width="1"/>
<line x1="605.71" y1="590.3" x2="605.71" y2="592.3" stroke="#8a8a8a" stroke-width="1"/>
<line x1="638.5" y1="590.3" x2="638.5" y2="593.8" stroke="#8a8a8a" stroke-width="1"/>
<line x1="671.29" y1="590.3" x2="671.29" y2="592.3" stroke="#8a8a8a" stroke-width="1"/>
<text transform="translate(48.28 604.6) scale(1.0 1.18)" font-size="9.6" text-anchor="middle" fill="#555" >-0.2</text>
<text transform="translate(113.86 604.6) scale(1.0 1.18)" font-size="9.6" text-anchor="middle" fill="#555" >-0.15</text>
<text transform="translate(179.44 604.6) scale(1.0 1.18)" font-size="9.6" text-anchor="middle" fill="#555" >-0.1</text>
<text transform="translate(245.02 604.6) scale(1.0 1.18)" font-size="9.6" text-anchor="middle" fill="#555" >-0.05</text>
<text transform="translate(310.6 604.6) scale(1.0 1.18)" font-size="9.6" text-anchor="middle" fill="#555" >0</text>
<text transform="translate(376.18 604.6) scale(1.0 1.18)" font-size="9.6" text-anchor="middle" fill="#555" >0.05</text>
<text transform="translate(441.76 604.6) scale(1.0 1.18)" font-size="9.6" text-anchor="middle" fill="#555" >0.1</text>
<text transform="translate(507.34 604.6) scale(1.0 1.18)" font-size="9.6" text-anchor="middle" fill="#555" >0.15</text>
<text transform="translate(572.92 604.6) scale(1.0 1.18)" font-size="9.6" text-anchor="middle" fill="#555" >0.2</text>
<text transform="translate(638.5 604.6) scale(1.0 1.18)" font-size="9.6" text-anchor="middle" fill="#555" >0.25</text>
<text x="363.5" y="621.5" font-size="11.6" text-anchor="middle" fill="#333" font-weight="normal" >p[1]</text>
<text transform="translate(18.5 459.5) rotate(-90)" font-size="11.6" text-anchor="middle" fill="#333" textLength="47.8" lengthAdjust="spacingAndGlyphs">p(corr)[1]</text>
<defs><linearGradient id="cb1" x1="0" y1="0" x2="0" y2="1"><stop offset="0" stop-color="#7a7a7a"/><stop offset="0.06" stop-color="#8c8c8c"/><stop offset="0.14" stop-color="#c4c4c4"/><stop offset="0.22" stop-color="#d6d6d6"/><stop offset="0.55" stop-color="#d8d8d8"/><stop offset="0.68" stop-color="#c6c6c6"/><stop offset="0.8" stop-color="#a4a4a4"/><stop offset="0.9" stop-color="#6e6e6e"/><stop offset="1" stop-color="#4a4a4a"/></linearGradient></defs>
<rect x="683" y="341" width="8" height="278" fill="url(#cb1)"/>
<text x="694" y="399.8" font-size="8.8" text-anchor="start" fill="#333" font-weight="normal" >8</text>
<text x="694" y="455.4" font-size="8.8" text-anchor="start" fill="#333" font-weight="normal" >6</text>
<text x="694" y="511" font-size="8.8" text-anchor="start" fill="#333" font-weight="normal" >4</text>
<text x="694" y="566.6" font-size="8.8" text-anchor="start" fill="#333" font-weight="normal" >2</text>
<text x="694" y="622.2" font-size="8.8" text-anchor="start" fill="#333" font-weight="normal" >0</text>
<text x="683.4" y="337.8" font-size="8.5" text-anchor="start" fill="#333" font-weight="normal" textLength="44.5" lengthAdjust="spacingAndGlyphs">M66.VIP[1]cv[1]</text>
<text x="736" y="628" font-size="5.2" text-anchor="end" fill="#777" font-weight="normal" textLength="118" lengthAdjust="spacingAndGlyphs">SIMCA 13.0 - 4/04/2015 4:11:18 p.m. (UTC+13)</text>
<path d="M311.6 452 L312 450.5 L318 450.3 L320 452 L323 456 L330 459.2 L334 454.2 L337.7 451.4 L342 452.2 L346 454 L346 481 L342.5 482 L334.4 483 L331 486 L322 485.6 L314 488 L311.6 488 Z" fill="#3e3e3e"/>
<path d="M306 490 L303.2 491 L297.5 492.4 L291 495.5 L291 516 L297.5 515 L301.3 518.7 L305.5 516 L308 511.5 L310.2 504.8 L310.4 492.5 Z" fill="#404040"/>
<circle cx="362.07" cy="463" r="3.2" fill="#909090" stroke="#585858" stroke-width="0.7"/>
<circle cx="363.31" cy="473.7" r="3.2" fill="#909090" stroke="#585858" stroke-width="0.7"/>
<circle cx="359.06" cy="463.74" r="3.2" fill="#909090" stroke="#585858" stroke-width="0.7"/>
<circle cx="312.1" cy="460.78" r="3.2" fill="#404040" stroke="#2a2a2a" stroke-width="0.7"/>
<circle cx="346.57" cy="472.48" r="3.2" fill="#444444" stroke="#2a2a2a" stroke-width="0.7"/>
<circle cx="363.88" cy="470.98" r="3.2" fill="#666666" stroke="#2e2e2e" stroke-width="0.7"/>
<circle cx="305.56" cy="513.79" r="3.2" fill="#3c3c3c" stroke="#2a2a2a" stroke-width="0.7"/>
<circle cx="324.88" cy="461.61" r="3.2" fill="#505050" stroke="#2a2a2a" stroke-width="0.7"/>
<circle cx="295.47" cy="498.08" r="3.2" fill="#404040" stroke="#2a2a2a" stroke-width="0.7"/>
<circle cx="340.86" cy="479.35" r="3.2" fill="#606060" stroke="#2a2a2a" stroke-width="0.7"/>
<circle cx="357.2" cy="469.1" r="3.2" fill="#666666" stroke="#2e2e2e" stroke-width="0.7"/>
<circle cx="298.17" cy="495.05" r="3.2" fill="#3c3c3c" stroke="#2a2a2a" stroke-width="0.7"/>
<circle cx="323.98" cy="476.38" r="3.2" fill="#404040" stroke="#2a2a2a" stroke-width="0.7"/>
<circle cx="327.91" cy="475.14" r="3.2" fill="#444444" stroke="#2a2a2a" stroke-width="0.7"/>
<circle cx="355.81" cy="455.97" r="3.2" fill="#909090" stroke="#585858" stroke-width="0.7"/>
<circle cx="313.12" cy="458.21" r="3.2" fill="#404040" stroke="#2a2a2a" stroke-width="0.7"/>
<circle cx="342.89" cy="454.82" r="3.2" fill="#6a6a6a" stroke="#323232" stroke-width="0.7"/>
<circle cx="349.06" cy="476.51" r="3.2" fill="#4a4a4a" stroke="#2a2a2a" stroke-width="0.7"/>
<circle cx="314.9" cy="461.61" r="3.2" fill="#404040" stroke="#2a2a2a" stroke-width="0.7"/>
<circle cx="341.18" cy="469.54" r="3.2" fill="#444444" stroke="#2a2a2a" stroke-width="0.7"/>
<circle cx="341.79" cy="463.52" r="3.2" fill="#606060" stroke="#2a2a2a" stroke-width="0.7"/>
<circle cx="325.83" cy="474.12" r="3.2" fill="#404040" stroke="#2a2a2a" stroke-width="0.7"/>
<circle cx="327.55" cy="477.28" r="3.2" fill="#585858" stroke="#2a2a2a" stroke-width="0.7"/>
<circle cx="321.55" cy="457.76" r="3.2" fill="#3c3c3c" stroke="#2a2a2a" stroke-width="0.7"/>
<circle cx="358.95" cy="472.05" r="3.2" fill="#909090" stroke="#585858" stroke-width="0.7"/>
<circle cx="341.01" cy="458.05" r="3.2" fill="#4a4a4a" stroke="#2a2a2a" stroke-width="0.7"/>
<circle cx="347.11" cy="464.54" r="3.2" fill="#6a6a6a" stroke="#323232" stroke-width="0.7"/>
<circle cx="293.67" cy="509.62" r="3.2" fill="#5a5a5a" stroke="#2a2a2a" stroke-width="0.7"/>
<circle cx="308.67" cy="508.68" r="3.2" fill="#404040" stroke="#2a2a2a" stroke-width="0.7"/>
<circle cx="346.62" cy="474.98" r="3.2" fill="#787878" stroke="#404040" stroke-width="0.7"/>
<circle cx="319.01" cy="479.22" r="3.2" fill="#464646" stroke="#2a2a2a" stroke-width="0.7"/>
<circle cx="348.65" cy="455.46" r="3.2" fill="#6a6a6a" stroke="#323232" stroke-width="0.7"/>
<circle cx="321.33" cy="455.51" r="3.2" fill="#464646" stroke="#2a2a2a" stroke-width="0.7"/>
<circle cx="294.48" cy="506.12" r="3.2" fill="#3c3c3c" stroke="#2a2a2a" stroke-width="0.7"/>
<circle cx="307.86" cy="505.82" r="3.2" fill="#3c3c3c" stroke="#2a2a2a" stroke-width="0.7"/>
<circle cx="311.93" cy="477.62" r="3.2" fill="#404040" stroke="#2a2a2a" stroke-width="0.7"/>
<circle cx="331.32" cy="479.71" r="3.2" fill="#585858" stroke="#2a2a2a" stroke-width="0.7"/>
<circle cx="343.21" cy="461.05" r="3.2" fill="#787878" stroke="#404040" stroke-width="0.7"/>
<circle cx="316.19" cy="480.45" r="3.2" fill="#404040" stroke="#2a2a2a" stroke-width="0.7"/>
<circle cx="333.58" cy="471.96" r="3.2" fill="#505050" stroke="#2a2a2a" stroke-width="0.7"/>
<circle cx="354.88" cy="461.33" r="3.2" fill="#4a4a4a" stroke="#2a2a2a" stroke-width="0.7"/>
<circle cx="345.32" cy="476.45" r="3.2" fill="#787878" stroke="#404040" stroke-width="0.7"/>
<circle cx="312.27" cy="481.9" r="3.2" fill="#464646" stroke="#2a2a2a" stroke-width="0.7"/>
<circle cx="298.68" cy="511.15" r="3.2" fill="#3c3c3c" stroke="#2a2a2a" stroke-width="0.7"/>
<circle cx="330.76" cy="482.9" r="3.2" fill="#585858" stroke="#2a2a2a" stroke-width="0.7"/>
<circle cx="348.12" cy="460.89" r="3.2" fill="#787878" stroke="#404040" stroke-width="0.7"/>
<circle cx="305.35" cy="492.2" r="3.2" fill="#3c3c3c" stroke="#2a2a2a" stroke-width="0.7"/>
<circle cx="335.68" cy="461.03" r="3.2" fill="#4a4a4a" stroke="#2a2a2a" stroke-width="0.7"/>
<circle cx="327.65" cy="466.5" r="3.2" fill="#444444" stroke="#2a2a2a" stroke-width="0.7"/>
<circle cx="341.33" cy="474.96" r="3.2" fill="#6a6a6a" stroke="#323232" stroke-width="0.7"/>
<circle cx="349.71" cy="475.16" r="3.2" fill="#787878" stroke="#404040" stroke-width="0.7"/>
<circle cx="296.36" cy="503.95" r="3.2" fill="#484848" stroke="#2a2a2a" stroke-width="0.7"/>
<circle cx="317.42" cy="471.88" r="3.2" fill="#404040" stroke="#2a2a2a" stroke-width="0.7"/>
<circle cx="360.83" cy="471.8" r="3.2" fill="#555555" stroke="#2a2a2a" stroke-width="0.7"/>
<circle cx="292.16" cy="506.66" r="3.2" fill="#444444" stroke="#2a2a2a" stroke-width="0.7"/>
<circle cx="303.69" cy="500.22" r="3.2" fill="#484848" stroke="#2a2a2a" stroke-width="0.7"/>
<circle cx="319.72" cy="468.97" r="3.2" fill="#424242" stroke="#2a2a2a" stroke-width="0.7"/>
<circle cx="317.01" cy="456.18" r="3.2" fill="#404040" stroke="#2a2a2a" stroke-width="0.7"/>
<circle cx="327.19" cy="471.32" r="3.2" fill="#505050" stroke="#2a2a2a" stroke-width="0.7"/>
<circle cx="295.59" cy="508.87" r="3.2" fill="#3c3c3c" stroke="#2a2a2a" stroke-width="0.7"/>
<circle cx="335.43" cy="479.98" r="3.2" fill="#404040" stroke="#2a2a2a" stroke-width="0.7"/>
<circle cx="301.32" cy="501.68" r="3.2" fill="#404040" stroke="#2a2a2a" stroke-width="0.7"/>
<circle cx="349.59" cy="466.74" r="3.2" fill="#555555" stroke="#2a2a2a" stroke-width="0.7"/>
<circle cx="354.5" cy="467.3" r="3.2" fill="#707070" stroke="#383838" stroke-width="0.7"/>
<circle cx="320.8" cy="466.68" r="3.2" fill="#404040" stroke="#2a2a2a" stroke-width="0.7"/>
<circle cx="353.2" cy="458.73" r="3.2" fill="#4a4a4a" stroke="#2a2a2a" stroke-width="0.7"/>
<circle cx="334.38" cy="463.94" r="3.2" fill="#4a4a4a" stroke="#2a2a2a" stroke-width="0.7"/>
<circle cx="344.44" cy="464.35" r="3.2" fill="#6a6a6a" stroke="#323232" stroke-width="0.7"/>
<circle cx="313.47" cy="452.87" r="3.2" fill="#424242" stroke="#2a2a2a" stroke-width="0.7"/>
<circle cx="297.36" cy="506.63" r="3.2" fill="#444444" stroke="#2a2a2a" stroke-width="0.7"/>
<circle cx="343.22" cy="476.51" r="3.2" fill="#787878" stroke="#404040" stroke-width="0.7"/>
<circle cx="325.6" cy="464.57" r="3.2" fill="#505050" stroke="#2a2a2a" stroke-width="0.7"/>
<circle cx="349.69" cy="463.16" r="3.2" fill="#6a6a6a" stroke="#323232" stroke-width="0.7"/>
<circle cx="329.53" cy="463.24" r="3.2" fill="#444444" stroke="#2a2a2a" stroke-width="0.7"/>
<circle cx="300.65" cy="505.88" r="3.2" fill="#3c3c3c" stroke="#2a2a2a" stroke-width="0.7"/>
<circle cx="315.79" cy="475.41" r="3.2" fill="#424242" stroke="#2a2a2a" stroke-width="0.7"/>
<circle cx="319.63" cy="463.52" r="3.2" fill="#404040" stroke="#2a2a2a" stroke-width="0.7"/>
<circle cx="337.78" cy="469.24" r="3.2" fill="#585858" stroke="#2a2a2a" stroke-width="0.7"/>
<circle cx="324.35" cy="466.4" r="3.2" fill="#585858" stroke="#2a2a2a" stroke-width="0.7"/>
<circle cx="351.78" cy="471.08" r="3.2" fill="#787878" stroke="#404040" stroke-width="0.7"/>
<circle cx="316.8" cy="463.15" r="3.2" fill="#464646" stroke="#2a2a2a" stroke-width="0.7"/>
<circle cx="292.26" cy="497.72" r="3.2" fill="#666666" stroke="#2e2e2e" stroke-width="0.7"/>
<circle cx="339.93" cy="478.13" r="3.2" fill="#606060" stroke="#2a2a2a" stroke-width="0.7"/>
<circle cx="312.1" cy="467.17" r="3.2" fill="#3c3c3c" stroke="#2a2a2a" stroke-width="0.7"/>
<circle cx="330.9" cy="463.27" r="3.2" fill="#585858" stroke="#2a2a2a" stroke-width="0.7"/>
<circle cx="330.56" cy="467.16" r="3.2" fill="#4a4a4a" stroke="#2a2a2a" stroke-width="0.7"/>
<circle cx="326.44" cy="479.76" r="3.2" fill="#444444" stroke="#2a2a2a" stroke-width="0.7"/>
<circle cx="303.25" cy="494.9" r="3.2" fill="#484848" stroke="#2a2a2a" stroke-width="0.7"/>
<circle cx="289.65" cy="513.85" r="3.2" fill="#555555" stroke="#2a2a2a" stroke-width="0.7"/>
<circle cx="358.79" cy="465.88" r="3.2" fill="#909090" stroke="#585858" stroke-width="0.7"/>
<circle cx="305.32" cy="504.24" r="3.2" fill="#404040" stroke="#2a2a2a" stroke-width="0.7"/>
<circle cx="361.8" cy="465.87" r="3.2" fill="#707070" stroke="#383838" stroke-width="0.7"/>
<circle cx="314.25" cy="466.08" r="3.2" fill="#3c3c3c" stroke="#2a2a2a" stroke-width="0.7"/>
<circle cx="301.73" cy="492.34" r="3.2" fill="#404040" stroke="#2a2a2a" stroke-width="0.7"/>
<circle cx="335.03" cy="458.34" r="3.2" fill="#404040" stroke="#2a2a2a" stroke-width="0.7"/>
<circle cx="326.4" cy="468.47" r="3.2" fill="#4a4a4a" stroke="#2a2a2a" stroke-width="0.7"/>
<circle cx="357.01" cy="458.03" r="3.2" fill="#909090" stroke="#585858" stroke-width="0.7"/>
<circle cx="289.95" cy="502.78" r="3.2" fill="#444444" stroke="#2a2a2a" stroke-width="0.7"/>
<circle cx="357.3" cy="456.41" r="3.2" fill="#a0a0a0" stroke="#686868" stroke-width="0.7"/>
<circle cx="345.42" cy="461.35" r="3.2" fill="#787878" stroke="#404040" stroke-width="0.7"/>
<circle cx="358.64" cy="461.94" r="3.2" fill="#707070" stroke="#383838" stroke-width="0.7"/>
<circle cx="355.61" cy="472.54" r="3.2" fill="#909090" stroke="#585858" stroke-width="0.7"/>
<circle cx="356.75" cy="464.28" r="3.2" fill="#555555" stroke="#2a2a2a" stroke-width="0.7"/>
<circle cx="337.25" cy="471.53" r="3.2" fill="#444444" stroke="#2a2a2a" stroke-width="0.7"/>
<circle cx="314.44" cy="455.89" r="3.2" fill="#464646" stroke="#2a2a2a" stroke-width="0.7"/>
<circle cx="356.91" cy="474.58" r="3.2" fill="#808080" stroke="#484848" stroke-width="0.7"/>
<circle cx="321.01" cy="477.5" r="3.2" fill="#404040" stroke="#2a2a2a" stroke-width="0.7"/>
<circle cx="338.32" cy="479.48" r="3.2" fill="#606060" stroke="#2a2a2a" stroke-width="0.7"/>
<circle cx="338.03" cy="464.39" r="3.2" fill="#444444" stroke="#2a2a2a" stroke-width="0.7"/>
<circle cx="342.22" cy="481.85" r="3.2" fill="#6a6a6a" stroke="#323232" stroke-width="0.7"/>
<circle cx="304.85" cy="498.31" r="3.2" fill="#404040" stroke="#2a2a2a" stroke-width="0.7"/>
<circle cx="307.87" cy="494.9" r="3.2" fill="#3c3c3c" stroke="#2a2a2a" stroke-width="0.7"/>
<circle cx="307.32" cy="511.89" r="3.2" fill="#3c3c3c" stroke="#2a2a2a" stroke-width="0.7"/>
<circle cx="364.7" cy="460.49" r="3.2" fill="#555555" stroke="#2a2a2a" stroke-width="0.7"/>
<circle cx="334.49" cy="474.81" r="3.2" fill="#404040" stroke="#2a2a2a" stroke-width="0.7"/>
<circle cx="347.21" cy="458.74" r="3.2" fill="#6a6a6a" stroke="#323232" stroke-width="0.7"/>
<circle cx="323.17" cy="471.01" r="3.2" fill="#585858" stroke="#2a2a2a" stroke-width="0.7"/>
<circle cx="299.01" cy="498.67" r="3.2" fill="#404040" stroke="#2a2a2a" stroke-width="0.7"/>
<circle cx="345.35" cy="465.8" r="3.2" fill="#4a4a4a" stroke="#2a2a2a" stroke-width="0.7"/>
<circle cx="318.65" cy="458.57" r="3.2" fill="#3c3c3c" stroke="#2a2a2a" stroke-width="0.7"/>
<circle cx="340.37" cy="471.59" r="3.2" fill="#787878" stroke="#404040" stroke-width="0.7"/>
<circle cx="365.38" cy="468.48" r="3.2" fill="#555555" stroke="#2a2a2a" stroke-width="0.7"/>
<circle cx="312.6" cy="468.85" r="3.2" fill="#424242" stroke="#2a2a2a" stroke-width="0.7"/>
<circle cx="307.77" cy="492.34" r="3.2" fill="#484848" stroke="#2a2a2a" stroke-width="0.7"/>
<circle cx="316.17" cy="485.06" r="3.2" fill="#464646" stroke="#2a2a2a" stroke-width="0.7"/>
<circle cx="343.01" cy="471.23" r="3.2" fill="#555555" stroke="#2a2a2a" stroke-width="0.7"/>
<circle cx="338.1" cy="474.63" r="3.2" fill="#4a4a4a" stroke="#2a2a2a" stroke-width="0.7"/>
<circle cx="347.12" cy="468.41" r="3.2" fill="#444444" stroke="#2a2a2a" stroke-width="0.7"/>
<circle cx="290.44" cy="508.82" r="3.2" fill="#5a5a5a" stroke="#2a2a2a" stroke-width="0.7"/>
<circle cx="342.13" cy="465.71" r="3.2" fill="#787878" stroke="#404040" stroke-width="0.7"/>
<circle cx="294.06" cy="499.98" r="3.2" fill="#3c3c3c" stroke="#2a2a2a" stroke-width="0.7"/>
<circle cx="302.64" cy="508.57" r="3.2" fill="#444444" stroke="#2a2a2a" stroke-width="0.7"/>
<circle cx="360.3" cy="458.74" r="3.2" fill="#666666" stroke="#2e2e2e" stroke-width="0.7"/>
<circle cx="334.06" cy="467.19" r="3.2" fill="#444444" stroke="#2a2a2a" stroke-width="0.7"/>
<circle cx="296.64" cy="493.53" r="3.2" fill="#444444" stroke="#2a2a2a" stroke-width="0.7"/>
<circle cx="318.84" cy="474" r="3.2" fill="#424242" stroke="#2a2a2a" stroke-width="0.7"/>
<circle cx="343.75" cy="469.72" r="3.2" fill="#4a4a4a" stroke="#2a2a2a" stroke-width="0.7"/>
<circle cx="295.68" cy="513.8" r="3.2" fill="#444444" stroke="#2a2a2a" stroke-width="0.7"/>
<circle cx="364.11" cy="455.51" r="3.2" fill="#4a4a4a" stroke="#2a2a2a" stroke-width="0.7"/>
<circle cx="319.22" cy="485.45" r="3.2" fill="#404040" stroke="#2a2a2a" stroke-width="0.7"/>
<circle cx="343.95" cy="474.26" r="3.2" fill="#606060" stroke="#2a2a2a" stroke-width="0.7"/>
<circle cx="321.58" cy="479.89" r="3.2" fill="#464646" stroke="#2a2a2a" stroke-width="0.7"/>
<circle cx="299.4" cy="492.58" r="3.2" fill="#3c3c3c" stroke="#2a2a2a" stroke-width="0.7"/>
<circle cx="300.38" cy="511.43" r="3.2" fill="#484848" stroke="#2a2a2a" stroke-width="0.7"/>
<circle cx="320.36" cy="461.08" r="3.2" fill="#3c3c3c" stroke="#2a2a2a" stroke-width="0.7"/>
<circle cx="338.97" cy="461.31" r="3.2" fill="#6a6a6a" stroke="#323232" stroke-width="0.7"/>
<circle cx="331.57" cy="473.75" r="3.2" fill="#404040" stroke="#2a2a2a" stroke-width="0.7"/>
<circle cx="290.76" cy="511.67" r="3.2" fill="#555555" stroke="#2a2a2a" stroke-width="0.7"/>
<circle cx="332.85" cy="476.5" r="3.2" fill="#4a4a4a" stroke="#2a2a2a" stroke-width="0.7"/>
<circle cx="326.36" cy="458.6" r="3.2" fill="#404040" stroke="#2a2a2a" stroke-width="0.7"/>
<circle cx="309.34" cy="505.7" r="3.2" fill="#484848" stroke="#2a2a2a" stroke-width="0.7"/>
<circle cx="305.48" cy="509.39" r="3.2" fill="#3c3c3c" stroke="#2a2a2a" stroke-width="0.7"/>
<circle cx="318.63" cy="477.05" r="3.2" fill="#464646" stroke="#2a2a2a" stroke-width="0.7"/>
<circle cx="325.22" cy="485.12" r="3.2" fill="#585858" stroke="#2a2a2a" stroke-width="0.7"/>
<circle cx="338.73" cy="452.86" r="3.2" fill="#787878" stroke="#404040" stroke-width="0.7"/>
<circle cx="362.78" cy="459.13" r="3.2" fill="#666666" stroke="#2e2e2e" stroke-width="0.7"/>
<circle cx="294.22" cy="494.94" r="3.2" fill="#484848" stroke="#2a2a2a" stroke-width="0.7"/>
<circle cx="348.03" cy="472.31" r="3.2" fill="#555555" stroke="#2a2a2a" stroke-width="0.7"/>
<circle cx="333.39" cy="483.06" r="3.2" fill="#404040" stroke="#2a2a2a" stroke-width="0.7"/>
<circle cx="335.92" cy="477.73" r="3.2" fill="#444444" stroke="#2a2a2a" stroke-width="0.7"/>
<circle cx="321.14" cy="482.03" r="3.2" fill="#424242" stroke="#2a2a2a" stroke-width="0.7"/>
<circle cx="300.35" cy="496.09" r="3.2" fill="#484848" stroke="#2a2a2a" stroke-width="0.7"/>
<circle cx="349.49" cy="459.2" r="3.2" fill="#6a6a6a" stroke="#323232" stroke-width="0.7"/>
<circle cx="320.49" cy="472.42" r="3.2" fill="#424242" stroke="#2a2a2a" stroke-width="0.7"/>
<circle cx="330.11" cy="461.87" r="3.2" fill="#4a4a4a" stroke="#2a2a2a" stroke-width="0.7"/>
<circle cx="329.74" cy="471.78" r="3.2" fill="#505050" stroke="#2a2a2a" stroke-width="0.7"/>
<circle cx="300.04" cy="514.41" r="3.2" fill="#444444" stroke="#2a2a2a" stroke-width="0.7"/>
<circle cx="306.26" cy="501.08" r="3.2" fill="#484848" stroke="#2a2a2a" stroke-width="0.7"/>
<circle cx="360.54" cy="469.03" r="3.2" fill="#666666" stroke="#2e2e2e" stroke-width="0.7"/>
<circle cx="350.59" cy="469.72" r="3.2" fill="#444444" stroke="#2a2a2a" stroke-width="0.7"/>
<circle cx="361.13" cy="461.53" r="3.2" fill="#4a4a4a" stroke="#2a2a2a" stroke-width="0.7"/>
<circle cx="346.6" cy="479.69" r="3.2" fill="#555555" stroke="#2a2a2a" stroke-width="0.7"/>
<circle cx="328.24" cy="469.91" r="3.2" fill="#444444" stroke="#2a2a2a" stroke-width="0.7"/>
<circle cx="340.29" cy="453.1" r="3.2" fill="#555555" stroke="#2a2a2a" stroke-width="0.7"/>
<circle cx="313.88" cy="485.36" r="3.2" fill="#404040" stroke="#2a2a2a" stroke-width="0.7"/>
<circle cx="328.11" cy="484.5" r="3.2" fill="#505050" stroke="#2a2a2a" stroke-width="0.7"/>
<circle cx="322.47" cy="468.39" r="3.2" fill="#444444" stroke="#2a2a2a" stroke-width="0.7"/>
<circle cx="329.47" cy="477.32" r="3.2" fill="#505050" stroke="#2a2a2a" stroke-width="0.7"/>
<circle cx="292.75" cy="503.22" r="3.2" fill="#444444" stroke="#2a2a2a" stroke-width="0.7"/>
<circle cx="351.57" cy="455.02" r="3.2" fill="#6a6a6a" stroke="#323232" stroke-width="0.7"/>
<circle cx="315.48" cy="472.11" r="3.2" fill="#404040" stroke="#2a2a2a" stroke-width="0.7"/>
<circle cx="337.01" cy="465.83" r="3.2" fill="#404040" stroke="#2a2a2a" stroke-width="0.7"/>
<circle cx="301.67" cy="513.83" r="3.2" fill="#404040" stroke="#2a2a2a" stroke-width="0.7"/>
<circle cx="317.81" cy="466.59" r="3.2" fill="#3c3c3c" stroke="#2a2a2a" stroke-width="0.7"/>
<circle cx="309.36" cy="498.06" r="3.2" fill="#3c3c3c" stroke="#2a2a2a" stroke-width="0.7"/>
<circle cx="365.88" cy="463.88" r="3.2" fill="#a0a0a0" stroke="#686868" stroke-width="0.7"/>
<circle cx="321.71" cy="485.08" r="3.2" fill="#3c3c3c" stroke="#2a2a2a" stroke-width="0.7"/>
<circle cx="302.39" cy="497.67" r="3.2" fill="#444444" stroke="#2a2a2a" stroke-width="0.7"/>
<circle cx="334.12" cy="460.84" r="3.2" fill="#444444" stroke="#2a2a2a" stroke-width="0.7"/>
<circle cx="317.08" cy="483.27" r="3.2" fill="#424242" stroke="#2a2a2a" stroke-width="0.7"/>
<circle cx="331.12" cy="457.95" r="3.2" fill="#4a4a4a" stroke="#2a2a2a" stroke-width="0.7"/>
<circle cx="354.16" cy="474.8" r="3.2" fill="#909090" stroke="#585858" stroke-width="0.7"/>
<circle cx="293.58" cy="513.73" r="3.2" fill="#4a4a4a" stroke="#2a2a2a" stroke-width="0.7"/>
<circle cx="326.67" cy="461.43" r="3.2" fill="#4a4a4a" stroke="#2a2a2a" stroke-width="0.7"/>
<circle cx="297.23" cy="500.7" r="3.2" fill="#444444" stroke="#2a2a2a" stroke-width="0.7"/>
<circle cx="323.89" cy="482.33" r="3.2" fill="#4a4a4a" stroke="#2a2a2a" stroke-width="0.7"/>
<circle cx="353.64" cy="468.68" r="3.2" fill="#666666" stroke="#2e2e2e" stroke-width="0.7"/>
<circle cx="338.58" cy="459.28" r="3.2" fill="#606060" stroke="#2a2a2a" stroke-width="0.7"/>
<circle cx="308.33" cy="503.91" r="3.2" fill="#484848" stroke="#2a2a2a" stroke-width="0.7"/>
<circle cx="362.01" cy="456.02" r="3.2" fill="#808080" stroke="#484848" stroke-width="0.7"/>
<circle cx="313.98" cy="475.42" r="3.2" fill="#424242" stroke="#2a2a2a" stroke-width="0.7"/>
<circle cx="313.95" cy="476.45" r="3.2" fill="#424242" stroke="#2a2a2a" stroke-width="0.7"/>
<circle cx="322.24" cy="474.53" r="3.2" fill="#585858" stroke="#2a2a2a" stroke-width="0.7"/>
<circle cx="336.15" cy="456.39" r="3.2" fill="#444444" stroke="#2a2a2a" stroke-width="0.7"/>
<circle cx="303.57" cy="506.57" r="3.2" fill="#444444" stroke="#2a2a2a" stroke-width="0.7"/>
<circle cx="315.47" cy="457.87" r="3.2" fill="#404040" stroke="#2a2a2a" stroke-width="0.7"/>
<circle cx="339.31" cy="466.15" r="3.2" fill="#787878" stroke="#404040" stroke-width="0.7"/>
<circle cx="303.41" cy="510.92" r="3.2" fill="#484848" stroke="#2a2a2a" stroke-width="0.7"/>
<circle cx="352.35" cy="461.05" r="3.2" fill="#555555" stroke="#2a2a2a" stroke-width="0.7"/>
<circle cx="335.48" cy="469.5" r="3.2" fill="#4a4a4a" stroke="#2a2a2a" stroke-width="0.7"/>
<circle cx="337.18" cy="482.5" r="3.2" fill="#585858" stroke="#2a2a2a" stroke-width="0.7"/>
<circle cx="362.97" cy="468.36" r="3.2" fill="#909090" stroke="#585858" stroke-width="0.7"/>
<circle cx="351.26" cy="467.17" r="3.2" fill="#606060" stroke="#2a2a2a" stroke-width="0.7"/>
<circle cx="301.71" cy="503.85" r="3.2" fill="#404040" stroke="#2a2a2a" stroke-width="0.7"/>
<circle cx="318.99" cy="453.53" r="3.2" fill="#404040" stroke="#2a2a2a" stroke-width="0.7"/>
<circle cx="299.09" cy="504.06" r="3.2" fill="#484848" stroke="#2a2a2a" stroke-width="0.7"/>
<circle cx="299.89" cy="509.31" r="3.2" fill="#404040" stroke="#2a2a2a" stroke-width="0.7"/>
<circle cx="315.16" cy="483.3" r="3.2" fill="#424242" stroke="#2a2a2a" stroke-width="0.7"/>
<circle cx="292.21" cy="494.93" r="3.2" fill="#666666" stroke="#2e2e2e" stroke-width="0.7"/>
<circle cx="312.77" cy="480" r="3.2" fill="#464646" stroke="#2a2a2a" stroke-width="0.7"/>
<circle cx="294.09" cy="511.44" r="3.2" fill="#3c3c3c" stroke="#2a2a2a" stroke-width="0.7"/>
<circle cx="352.58" cy="463.68" r="3.2" fill="#555555" stroke="#2a2a2a" stroke-width="0.7"/>
<circle cx="312.3" cy="463.95" r="3.2" fill="#464646" stroke="#2a2a2a" stroke-width="0.7"/>
<circle cx="345.13" cy="455.3" r="3.2" fill="#4a4a4a" stroke="#2a2a2a" stroke-width="0.7"/>
<circle cx="318.35" cy="461.66" r="3.2" fill="#404040" stroke="#2a2a2a" stroke-width="0.7"/>
<circle cx="365.19" cy="466.31" r="3.2" fill="#707070" stroke="#383838" stroke-width="0.7"/>
<circle cx="331.34" cy="468.51" r="3.2" fill="#505050" stroke="#2a2a2a" stroke-width="0.7"/>
<circle cx="338.87" cy="455.11" r="3.2" fill="#4a4a4a" stroke="#2a2a2a" stroke-width="0.7"/>
<circle cx="321.59" cy="464.32" r="3.2" fill="#3c3c3c" stroke="#2a2a2a" stroke-width="0.7"/>
<circle cx="315.39" cy="469.28" r="3.2" fill="#464646" stroke="#2a2a2a" stroke-width="0.7"/>
<circle cx="327.88" cy="479.23" r="3.2" fill="#585858" stroke="#2a2a2a" stroke-width="0.7"/>
<circle cx="306.4" cy="490.59" r="3.2" fill="#484848" stroke="#2a2a2a" stroke-width="0.7"/>
<circle cx="351.6" cy="477.54" r="3.2" fill="#787878" stroke="#404040" stroke-width="0.7"/>
<circle cx="344.48" cy="479.8" r="3.2" fill="#787878" stroke="#404040" stroke-width="0.7"/>
<circle cx="343.43" cy="458.11" r="3.2" fill="#555555" stroke="#2a2a2a" stroke-width="0.7"/>
<circle cx="316.19" cy="453.76" r="3.2" fill="#424242" stroke="#2a2a2a" stroke-width="0.7"/>
<circle cx="327.61" cy="482.53" r="3.2" fill="#404040" stroke="#2a2a2a" stroke-width="0.7"/>
<circle cx="291.41" cy="500.27" r="3.2" fill="#666666" stroke="#2e2e2e" stroke-width="0.7"/>
<circle cx="385.2" cy="346.7" r="3.2" fill="#818181" stroke="#494949" stroke-width="0.7"/>
<circle cx="380.9" cy="352.1" r="3.2" fill="#818181" stroke="#494949" stroke-width="0.7"/>
<circle cx="400.2" cy="348.4" r="3.2" fill="#aaaaaa" stroke="#707070" stroke-width="0.7"/>
<circle cx="404.5" cy="349.5" r="3.2" fill="#929292" stroke="#5a5a5a" stroke-width="0.7"/>
<circle cx="433.8" cy="351.7" r="3.2" fill="#dddddd" stroke="#707070" stroke-width="0.7"/>
<circle cx="447.4" cy="353.4" r="3.2" fill="#dddddd" stroke="#707070" stroke-width="0.7"/>
<circle cx="454.4" cy="356" r="3.2" fill="#dddddd" stroke="#707070" stroke-width="0.7"/>
<circle cx="451.1" cy="360.8" r="3.2" fill="#dddddd" stroke="#707070" stroke-width="0.7"/>
<circle cx="442" cy="367.5" r="3.2" fill="#dddddd" stroke="#707070" stroke-width="0.7"/>
<circle cx="379.1" cy="361" r="3.2" fill="#929292" stroke="#5a5a5a" stroke-width="0.7"/>
<circle cx="379.1" cy="366.9" r="3.2" fill="#929292" stroke="#5a5a5a" stroke-width="0.7"/>
<circle cx="383.5" cy="369.7" r="3.2" fill="#929292" stroke="#5a5a5a" stroke-width="0.7"/>
<circle cx="378.5" cy="371.8" r="3.2" fill="#929292" stroke="#5a5a5a" stroke-width="0.7"/>
<circle cx="378.5" cy="377.7" r="3.2" fill="#929292" stroke="#5a5a5a" stroke-width="0.7"/>
<circle cx="382.4" cy="377" r="3.2" fill="#bbbbbb" stroke="#707070" stroke-width="0.7"/>
<circle cx="384.1" cy="382.7" r="3.2" fill="#8a8a8a" stroke="#525252" stroke-width="0.7"/>
<circle cx="388.9" cy="361.4" r="3.2" fill="#818181" stroke="#494949" stroke-width="0.7"/>
<circle cx="391.1" cy="366.9" r="3.2" fill="#8a8a8a" stroke="#525252" stroke-width="0.7"/>
<circle cx="397.6" cy="362.5" r="3.2" fill="#929292" stroke="#5a5a5a" stroke-width="0.7"/>
<circle cx="397.6" cy="370.1" r="3.2" fill="#aaaaaa" stroke="#707070" stroke-width="0.7"/>
<circle cx="401.9" cy="366.9" r="3.2" fill="#cccccc" stroke="#707070" stroke-width="0.7"/>
<circle cx="407.8" cy="361.4" r="3.2" fill="#cccccc" stroke="#707070" stroke-width="0.7"/>
<circle cx="407.3" cy="363.6" r="3.2" fill="#cccccc" stroke="#707070" stroke-width="0.7"/>
<circle cx="412.1" cy="364" r="3.2" fill="#929292" stroke="#5a5a5a" stroke-width="0.7"/>
<circle cx="418.2" cy="361.4" r="3.2" fill="#cccccc" stroke="#707070" stroke-width="0.7"/>
<circle cx="420.3" cy="366.4" r="3.2" fill="#dddddd" stroke="#707070" stroke-width="0.7"/>
<circle cx="418.2" cy="370.1" r="3.2" fill="#cccccc" stroke="#707070" stroke-width="0.7"/>
<circle cx="410.6" cy="372.3" r="3.2" fill="#929292" stroke="#5a5a5a" stroke-width="0.7"/>
<circle cx="406.2" cy="375.5" r="3.2" fill="#929292" stroke="#5a5a5a" stroke-width="0.7"/>
<circle cx="400.8" cy="369" r="3.2" fill="#a3a3a3" stroke="#6b6b6b" stroke-width="0.7"/>
<circle cx="373.7" cy="351.7" r="3.2" fill="#444444" stroke="#2a2a2a" stroke-width="0.7"/>
<circle cx="370.9" cy="361.4" r="3.2" fill="#818181" stroke="#494949" stroke-width="0.7"/>
<circle cx="469.5" cy="356.3" r="3.2" fill="#dddddd" stroke="#707070" stroke-width="0.7"/>
<circle cx="474.9" cy="354.3" r="3.2" fill="#a3a3a3" stroke="#6b6b6b" stroke-width="0.7"/>
<circle cx="476.2" cy="356" r="3.2" fill="#dddddd" stroke="#707070" stroke-width="0.7"/>
<circle cx="472.2" cy="364.5" r="3.2" fill="#dddddd" stroke="#707070" stroke-width="0.7"/>
<circle cx="477.3" cy="362.8" r="3.2" fill="#dddddd" stroke="#707070" stroke-width="0.7"/>
<circle cx="481.3" cy="363.1" r="3.2" fill="#dddddd" stroke="#707070" stroke-width="0.7"/>
<circle cx="493.5" cy="366.2" r="3.2" fill="#dddddd" stroke="#707070" stroke-width="0.7"/>
<circle cx="501.7" cy="370.6" r="3.2" fill="#dddddd" stroke="#707070" stroke-width="0.7"/>
<circle cx="500.3" cy="354.6" r="3.2" fill="#dddddd" stroke="#707070" stroke-width="0.7"/>
<circle cx="509.4" cy="361.4" r="3.2" fill="#dddddd" stroke="#707070" stroke-width="0.7"/>
<circle cx="520.3" cy="349.2" r="3.2" fill="#dddddd" stroke="#707070" stroke-width="0.7"/>
<circle cx="521.3" cy="366.2" r="3.2" fill="#dddddd" stroke="#707070" stroke-width="0.7"/>
<circle cx="529.1" cy="366.5" r="3.2" fill="#dddddd" stroke="#707070" stroke-width="0.7"/>
<circle cx="541" cy="349.2" r="3.2" fill="#dddddd" stroke="#707070" stroke-width="0.7"/>
<circle cx="551.1" cy="364.1" r="3.2" fill="#dddddd" stroke="#707070" stroke-width="0.7"/>
<circle cx="572.8" cy="351.9" r="3.2" fill="#dddddd" stroke="#707070" stroke-width="0.7"/>
<circle cx="588" cy="352.6" r="3.2" fill="#dddddd" stroke="#707070" stroke-width="0.7"/>
<circle cx="635.8" cy="354.3" r="3.2" fill="#dddddd" stroke="#707070" stroke-width="0.7"/>
<circle cx="668.7" cy="348.6" r="3.2" fill="#929292" stroke="#5a5a5a" stroke-width="0.7"/>
<circle cx="312" cy="450.8" r="3.2" fill="#404040" stroke="#2a2a2a" stroke-width="0.7"/>
<circle cx="315.3" cy="450.6" r="3.2" fill="#444444" stroke="#2a2a2a" stroke-width="0.7"/>
<circle cx="318.2" cy="451.2" r="3.2" fill="#3c3c3c" stroke="#2a2a2a" stroke-width="0.7"/>
<circle cx="336.2" cy="451.6" r="3.2" fill="#444444" stroke="#2a2a2a" stroke-width="0.7"/>
<circle cx="339.6" cy="451.3" r="3.2" fill="#404040" stroke="#2a2a2a" stroke-width="0.7"/>
<circle cx="342.8" cy="452.6" r="3.2" fill="#484848" stroke="#2a2a2a" stroke-width="0.7"/>
<circle cx="340.5" cy="364.7" r="3.2" fill="#444444" stroke="#2a2a2a" stroke-width="0.7"/>
<circle cx="333" cy="370.1" r="3.2" fill="#444444" stroke="#2a2a2a" stroke-width="0.7"/>
<circle cx="355.3" cy="381.4" r="3.2" fill="#444444" stroke="#2a2a2a" stroke-width="0.7"/>
<circle cx="366.8" cy="379.9" r="3.2" fill="#444444" stroke="#2a2a2a" stroke-width="0.7"/>
<circle cx="359.6" cy="387.5" r="3.2" fill="#5a5a5a" stroke="#2a2a2a" stroke-width="0.7"/>
<circle cx="358.5" cy="394" r="3.2" fill="#707070" stroke="#383838" stroke-width="0.7"/>
<circle cx="375.4" cy="397.6" r="3.2" fill="#a3a3a3" stroke="#6b6b6b" stroke-width="0.7"/>
<circle cx="368.3" cy="405.9" r="3.2" fill="#555555" stroke="#2a2a2a" stroke-width="0.7"/>
<circle cx="316.9" cy="403.7" r="3.2" fill="#444444" stroke="#2a2a2a" stroke-width="0.7"/>
<circle cx="336.4" cy="401.5" r="3.2" fill="#444444" stroke="#2a2a2a" stroke-width="0.7"/>
<circle cx="338.4" cy="405.2" r="3.2" fill="#444444" stroke="#2a2a2a" stroke-width="0.7"/>
<circle cx="314.1" cy="428.6" r="3.2" fill="#444444" stroke="#2a2a2a" stroke-width="0.7"/>
<circle cx="311.8" cy="439.5" r="3.2" fill="#444444" stroke="#2a2a2a" stroke-width="0.7"/>
<circle cx="367.6" cy="451.3" r="3.2" fill="#929292" stroke="#5a5a5a" stroke-width="0.7"/>
<circle cx="377.3" cy="451" r="3.2" fill="#818181" stroke="#494949" stroke-width="0.7"/>
<circle cx="384.1" cy="449.4" r="3.2" fill="#929292" stroke="#5a5a5a" stroke-width="0.7"/>
<circle cx="379.8" cy="453.4" r="3.2" fill="#bbbbbb" stroke="#707070" stroke-width="0.7"/>
<circle cx="385.5" cy="454.8" r="3.2" fill="#dddddd" stroke="#707070" stroke-width="0.7"/>
<circle cx="379.7" cy="458" r="3.2" fill="#707070" stroke="#383838" stroke-width="0.7"/>
<circle cx="370.3" cy="459.7" r="3.2" fill="#444444" stroke="#2a2a2a" stroke-width="0.7"/>
<circle cx="363.3" cy="462.9" r="3.2" fill="#818181" stroke="#494949" stroke-width="0.7"/>
<circle cx="379" cy="463.8" r="3.2" fill="#cccccc" stroke="#707070" stroke-width="0.7"/>
<circle cx="382.2" cy="467" r="3.2" fill="#333333" stroke="#2a2a2a" stroke-width="0.7"/>
<circle cx="389.3" cy="464.3" r="3.2" fill="#818181" stroke="#494949" stroke-width="0.7"/>
<circle cx="395.2" cy="463.1" r="3.2" fill="#cccccc" stroke="#707070" stroke-width="0.7"/>
<circle cx="395.8" cy="467.3" r="3.2" fill="#dddddd" stroke="#707070" stroke-width="0.7"/>
<circle cx="398.8" cy="467.5" r="3.2" fill="#818181" stroke="#494949" stroke-width="0.7"/>
<circle cx="409.9" cy="454" r="3.2" fill="#dddddd" stroke="#707070" stroke-width="0.7"/>
<circle cx="409.3" cy="464.9" r="3.2" fill="#444444" stroke="#2a2a2a" stroke-width="0.7"/>
<circle cx="409.9" cy="468.4" r="3.2" fill="#dddddd" stroke="#707070" stroke-width="0.7"/>
<circle cx="419.6" cy="461.8" r="3.2" fill="#dddddd" stroke="#707070" stroke-width="0.7"/>
<circle cx="424.5" cy="466.2" r="3.2" fill="#dddddd" stroke="#707070" stroke-width="0.7"/>
<circle cx="421.5" cy="472.1" r="3.2" fill="#dddddd" stroke="#707070" stroke-width="0.7"/>
<circle cx="432.6" cy="463.1" r="3.2" fill="#444444" stroke="#2a2a2a" stroke-width="0.7"/>
<circle cx="439.1" cy="460.2" r="3.2" fill="#dddddd" stroke="#707070" stroke-width="0.7"/>
<circle cx="368.7" cy="471.1" r="3.2" fill="#555555" stroke="#2a2a2a" stroke-width="0.7"/>
<circle cx="369.8" cy="474.9" r="3.2" fill="#bbbbbb" stroke="#707070" stroke-width="0.7"/>
<circle cx="363.3" cy="474.9" r="3.2" fill="#929292" stroke="#5a5a5a" stroke-width="0.7"/>
<circle cx="377.3" cy="474.3" r="3.2" fill="#818181" stroke="#494949" stroke-width="0.7"/>
<circle cx="383.8" cy="474.1" r="3.2" fill="#555555" stroke="#2a2a2a" stroke-width="0.7"/>
<circle cx="386" cy="473.8" r="3.2" fill="#dddddd" stroke="#707070" stroke-width="0.7"/>
<circle cx="359.3" cy="454" r="3.2" fill="#818181" stroke="#494949" stroke-width="0.7"/>
<circle cx="443.4" cy="457.4" r="3.2" fill="#dddddd" stroke="#707070" stroke-width="0.7"/>
<circle cx="446.3" cy="463.5" r="3.2" fill="#dddddd" stroke="#707070" stroke-width="0.7"/>
<circle cx="457.3" cy="449.6" r="3.2" fill="#dddddd" stroke="#707070" stroke-width="0.7"/>
<circle cx="468.3" cy="466.7" r="3.2" fill="#555555" stroke="#2a2a2a" stroke-width="0.7"/>
<circle cx="471.2" cy="466.2" r="3.2" fill="#dddddd" stroke="#707070" stroke-width="0.7"/>
<circle cx="497.1" cy="461.8" r="3.2" fill="#dddddd" stroke="#707070" stroke-width="0.7"/>
<circle cx="617.6" cy="470.4" r="3.2" fill="#dddddd" stroke="#707070" stroke-width="0.7"/>
<circle cx="621.1" cy="468.9" r="3.2" fill="#444444" stroke="#2a2a2a" stroke-width="0.7"/>
<circle cx="276.8" cy="492" r="3.2" fill="#444444" stroke="#2a2a2a" stroke-width="0.7"/>
<circle cx="248.7" cy="500.8" r="3.2" fill="#cccccc" stroke="#707070" stroke-width="0.7"/>
<circle cx="248.7" cy="503.5" r="3.2" fill="#3c3c3c" stroke="#2a2a2a" stroke-width="0.7"/>
<circle cx="259.2" cy="506.2" r="3.2" fill="#bbbbbb" stroke="#707070" stroke-width="0.7"/>
<circle cx="258.6" cy="503.2" r="3.2" fill="#c8c8c8" stroke="#707070" stroke-width="0.7"/>
<circle cx="268" cy="502.8" r="3.2" fill="#a3a3a3" stroke="#6b6b6b" stroke-width="0.7"/>
<circle cx="268.7" cy="498.4" r="3.2" fill="#c0c0c0" stroke="#707070" stroke-width="0.7"/>
<circle cx="271.1" cy="502.2" r="3.2" fill="#929292" stroke="#5a5a5a" stroke-width="0.7"/>
<circle cx="263.3" cy="508.3" r="3.2" fill="#444444" stroke="#2a2a2a" stroke-width="0.7"/>
<circle cx="261.9" cy="511" r="3.2" fill="#484848" stroke="#2a2a2a" stroke-width="0.7"/>
<circle cx="266" cy="509" r="3.2" fill="#505050" stroke="#2a2a2a" stroke-width="0.7"/>
<circle cx="272.1" cy="507.2" r="3.2" fill="#404040" stroke="#2a2a2a" stroke-width="0.7"/>
<circle cx="271.8" cy="511" r="3.2" fill="#444444" stroke="#2a2a2a" stroke-width="0.7"/>
<circle cx="268" cy="512.3" r="3.2" fill="#444444" stroke="#2a2a2a" stroke-width="0.7"/>
<circle cx="266.7" cy="518.1" r="3.2" fill="#444444" stroke="#2a2a2a" stroke-width="0.7"/>
<circle cx="270.1" cy="520.1" r="3.2" fill="#a3a3a3" stroke="#6b6b6b" stroke-width="0.7"/>
<circle cx="273.8" cy="517.4" r="3.2" fill="#818181" stroke="#494949" stroke-width="0.7"/>
<circle cx="272.1" cy="526.6" r="3.2" fill="#929292" stroke="#5a5a5a" stroke-width="0.7"/>
<circle cx="280.2" cy="502.8" r="3.2" fill="#7a7a7a" stroke="#424242" stroke-width="0.7"/>
<circle cx="279.6" cy="513" r="3.2" fill="#707070" stroke="#383838" stroke-width="0.7"/>
<circle cx="280.2" cy="521.1" r="3.2" fill="#a3a3a3" stroke="#6b6b6b" stroke-width="0.7"/>
<circle cx="285.6" cy="506.9" r="3.2" fill="#707070" stroke="#383838" stroke-width="0.7"/>
<circle cx="290.4" cy="500.8" r="3.2" fill="#707070" stroke="#383838" stroke-width="0.7"/>
<circle cx="286.3" cy="499.5" r="3.2" fill="#404040" stroke="#2a2a2a" stroke-width="0.7"/>
<circle cx="291.7" cy="515.7" r="3.2" fill="#707070" stroke="#383838" stroke-width="0.7"/>
<circle cx="287.7" cy="519.8" r="3.2" fill="#5a5a5a" stroke="#2a2a2a" stroke-width="0.7"/>
<circle cx="285" cy="517.1" r="3.2" fill="#707070" stroke="#383838" stroke-width="0.7"/>
<circle cx="281.9" cy="517.1" r="3.2" fill="#444444" stroke="#2a2a2a" stroke-width="0.7"/>
<circle cx="245.7" cy="523.7" r="3.2" fill="#444444" stroke="#2a2a2a" stroke-width="0.7"/>
<circle cx="252.4" cy="531.6" r="3.2" fill="#aaaaaa" stroke="#707070" stroke-width="0.7"/>
<circle cx="249.4" cy="534.9" r="3.2" fill="#dddddd" stroke="#707070" stroke-width="0.7"/>
<circle cx="302.1" cy="519.6" r="3.2" fill="#444444" stroke="#2a2a2a" stroke-width="0.7"/>
<circle cx="305.7" cy="516.6" r="3.2" fill="#444444" stroke="#2a2a2a" stroke-width="0.7"/>
<circle cx="130.8" cy="501.3" r="3.2" fill="#dddddd" stroke="#707070" stroke-width="0.7"/>
<circle cx="214.5" cy="516" r="3.2" fill="#707070" stroke="#383838" stroke-width="0.7"/>
<rect x="373" y="331.5" width="308.6" height="58.7" fill="none" stroke="#1a1a1a" stroke-width="3"/>
<text x="-0.2" y="343.4" font-size="19.2" text-anchor="start" fill="#111" font-weight="bold" textLength="25.2" lengthAdjust="spacingAndGlyphs">(b)</text>
<line x1="40.3" y1="669.7" x2="670" y2="669.7" stroke="#e6e6e6" stroke-width="1"/>
<line x1="40.3" y1="689.5" x2="670" y2="689.5" stroke="#e6e6e6" stroke-width="1"/>
<line x1="40.3" y1="709.3" x2="670" y2="709.3" stroke="#e6e6e6" stroke-width="1"/>
<line x1="40.3" y1="748.9" x2="670" y2="748.9" stroke="#e6e6e6" stroke-width="1"/>
<line x1="40.3" y1="768.7" x2="670" y2="768.7" stroke="#e6e6e6" stroke-width="1"/>
<line x1="40.3" y1="729.1" x2="670" y2="729.1" stroke="#9a9a9a" stroke-width="0.8"/>
<line x1="42.1" y1="727.12" x2="42.1" y2="736.52" stroke="#7a7a7a" stroke-width="0.6"/>
<line x1="41" y1="727.12" x2="43.2" y2="727.12" stroke="#7a7a7a" stroke-width="0.6"/>
<line x1="41" y1="736.52" x2="43.2" y2="736.52" stroke="#7a7a7a" stroke-width="0.6"/>
<rect x="40.95" y="729.1" width="2.3" height="1.98" fill="#c0c0c0" stroke="#606060" stroke-width="0.5"/>
<line x1="45.43" y1="727.12" x2="45.43" y2="731.08" stroke="#7a7a7a" stroke-width="0.6"/>
<line x1="44.33" y1="727.12" x2="46.53" y2="727.12" stroke="#7a7a7a" stroke-width="0.6"/>
<line x1="44.33" y1="731.08" x2="46.53" y2="731.08" stroke="#7a7a7a" stroke-width="0.6"/>
<rect x="44.28" y="729.1" width="2.3" height="0.6" fill="#909090" stroke="#606060" stroke-width="0.5"/>
<line x1="48.76" y1="722.17" x2="48.76" y2="729.1" stroke="#7a7a7a" stroke-width="0.6"/>
<line x1="47.66" y1="722.17" x2="49.86" y2="722.17" stroke="#7a7a7a" stroke-width="0.6"/>
<line x1="47.66" y1="729.1" x2="49.86" y2="729.1" stroke="#7a7a7a" stroke-width="0.6"/>
<rect x="47.61" y="726.13" width="2.3" height="2.97" fill="#505050" stroke="#606060" stroke-width="0.5"/>
<line x1="52.08" y1="725.14" x2="52.08" y2="731.08" stroke="#7a7a7a" stroke-width="0.6"/>
<line x1="50.98" y1="725.14" x2="53.18" y2="725.14" stroke="#7a7a7a" stroke-width="0.6"/>
<line x1="50.98" y1="731.08" x2="53.18" y2="731.08" stroke="#7a7a7a" stroke-width="0.6"/>
<rect x="50.93" y="727.81" width="2.3" height="1.29" fill="#808080" stroke="#606060" stroke-width="0.5"/>
<line x1="55.41" y1="717.22" x2="55.41" y2="729.1" stroke="#7a7a7a" stroke-width="0.6"/>
<line x1="54.31" y1="717.22" x2="56.51" y2="717.22" stroke="#7a7a7a" stroke-width="0.6"/>
<line x1="54.31" y1="729.1" x2="56.51" y2="729.1" stroke="#7a7a7a" stroke-width="0.6"/>
<rect x="54.26" y="722.96" width="2.3" height="6.14" fill="#909090" stroke="#606060" stroke-width="0.5"/>
<line x1="58.74" y1="727.12" x2="58.74" y2="731.08" stroke="#7a7a7a" stroke-width="0.6"/>
<line x1="57.64" y1="727.12" x2="59.84" y2="727.12" stroke="#7a7a7a" stroke-width="0.6"/>
<line x1="57.64" y1="731.08" x2="59.84" y2="731.08" stroke="#7a7a7a" stroke-width="0.6"/>
<rect x="57.59" y="729.1" width="2.3" height="0.99" fill="#808080" stroke="#606060" stroke-width="0.5"/>
<line x1="62.06" y1="727.12" x2="62.06" y2="739.99" stroke="#7a7a7a" stroke-width="0.6"/>
<line x1="60.96" y1="727.12" x2="63.16" y2="727.12" stroke="#7a7a7a" stroke-width="0.6"/>
<line x1="60.96" y1="739.99" x2="63.16" y2="739.99" stroke="#7a7a7a" stroke-width="0.6"/>
<rect x="60.91" y="729.1" width="2.3" height="3.96" fill="#909090" stroke="#606060" stroke-width="0.5"/>
<line x1="65.39" y1="712.27" x2="65.39" y2="726.13" stroke="#7a7a7a" stroke-width="0.6"/>
<line x1="64.29" y1="712.27" x2="66.49" y2="712.27" stroke="#7a7a7a" stroke-width="0.6"/>
<line x1="64.29" y1="726.13" x2="66.49" y2="726.13" stroke="#7a7a7a" stroke-width="0.6"/>
<rect x="64.24" y="719.2" width="2.3" height="9.9" fill="#b0b0b0" stroke="#606060" stroke-width="0.5"/>
<line x1="68.72" y1="719.2" x2="68.72" y2="732.07" stroke="#7a7a7a" stroke-width="0.6"/>
<line x1="67.62" y1="719.2" x2="69.82" y2="719.2" stroke="#7a7a7a" stroke-width="0.6"/>
<line x1="67.62" y1="732.07" x2="69.82" y2="732.07" stroke="#7a7a7a" stroke-width="0.6"/>
<rect x="67.57" y="726.13" width="2.3" height="2.97" fill="#505050" stroke="#606060" stroke-width="0.5"/>
<line x1="72.05" y1="721.68" x2="72.05" y2="729.1" stroke="#7a7a7a" stroke-width="0.6"/>
<line x1="70.95" y1="721.68" x2="73.15" y2="721.68" stroke="#7a7a7a" stroke-width="0.6"/>
<line x1="70.95" y1="729.1" x2="73.15" y2="729.1" stroke="#7a7a7a" stroke-width="0.6"/>
<rect x="70.9" y="726.13" width="2.3" height="2.97" fill="#505050" stroke="#606060" stroke-width="0.5"/>
<line x1="75.38" y1="720.19" x2="75.38" y2="736.03" stroke="#7a7a7a" stroke-width="0.6"/>
<line x1="74.28" y1="720.19" x2="76.47" y2="720.19" stroke="#7a7a7a" stroke-width="0.6"/>
<line x1="74.28" y1="736.03" x2="76.47" y2="736.03" stroke="#7a7a7a" stroke-width="0.6"/>
<rect x="74.22" y="729.1" width="2.3" height="0.6" fill="#c0c0c0" stroke="#606060" stroke-width="0.5"/>
<line x1="78.7" y1="720.19" x2="78.7" y2="752.86" stroke="#7a7a7a" stroke-width="0.6"/>
<line x1="77.6" y1="720.19" x2="79.8" y2="720.19" stroke="#7a7a7a" stroke-width="0.6"/>
<line x1="77.6" y1="752.86" x2="79.8" y2="752.86" stroke="#7a7a7a" stroke-width="0.6"/>
<rect x="77.55" y="729.1" width="2.3" height="7.42" fill="#c8c8c8" stroke="#606060" stroke-width="0.5"/>
<line x1="82.03" y1="719.2" x2="82.03" y2="734.05" stroke="#7a7a7a" stroke-width="0.6"/>
<line x1="80.93" y1="719.2" x2="83.13" y2="719.2" stroke="#7a7a7a" stroke-width="0.6"/>
<line x1="80.93" y1="734.05" x2="83.13" y2="734.05" stroke="#7a7a7a" stroke-width="0.6"/>
<rect x="80.88" y="727.12" width="2.3" height="1.98" fill="#a0a0a0" stroke="#606060" stroke-width="0.5"/>
<line x1="85.36" y1="707.82" x2="85.36" y2="734.05" stroke="#7a7a7a" stroke-width="0.6"/>
<line x1="84.26" y1="707.82" x2="86.46" y2="707.82" stroke="#7a7a7a" stroke-width="0.6"/>
<line x1="84.26" y1="734.05" x2="86.46" y2="734.05" stroke="#7a7a7a" stroke-width="0.6"/>
<rect x="84.21" y="721.87" width="2.3" height="7.23" fill="#c8c8c8" stroke="#606060" stroke-width="0.5"/>
<line x1="88.69" y1="719.2" x2="88.69" y2="732.07" stroke="#7a7a7a" stroke-width="0.6"/>
<line x1="87.59" y1="719.2" x2="89.78" y2="719.2" stroke="#7a7a7a" stroke-width="0.6"/>
<line x1="87.59" y1="732.07" x2="89.78" y2="732.07" stroke="#7a7a7a" stroke-width="0.6"/>
<rect x="87.53" y="726.13" width="2.3" height="2.97" fill="#909090" stroke="#606060" stroke-width="0.5"/>
<line x1="92.01" y1="697.92" x2="92.01" y2="729.1" stroke="#7a7a7a" stroke-width="0.6"/>
<line x1="90.91" y1="697.92" x2="93.11" y2="697.92" stroke="#7a7a7a" stroke-width="0.6"/>
<line x1="90.91" y1="729.1" x2="93.11" y2="729.1" stroke="#7a7a7a" stroke-width="0.6"/>
<rect x="90.86" y="713.75" width="2.3" height="15.35" fill="#c8c8c8" stroke="#606060" stroke-width="0.5"/>
<line x1="95.34" y1="720.19" x2="95.34" y2="728.11" stroke="#7a7a7a" stroke-width="0.6"/>
<line x1="94.24" y1="720.19" x2="96.44" y2="720.19" stroke="#7a7a7a" stroke-width="0.6"/>
<line x1="94.24" y1="728.11" x2="96.44" y2="728.11" stroke="#7a7a7a" stroke-width="0.6"/>
<rect x="94.19" y="724.15" width="2.3" height="4.95" fill="#505050" stroke="#606060" stroke-width="0.5"/>
<line x1="98.67" y1="721.18" x2="98.67" y2="732.07" stroke="#7a7a7a" stroke-width="0.6"/>
<line x1="97.57" y1="721.18" x2="99.77" y2="721.18" stroke="#7a7a7a" stroke-width="0.6"/>
<line x1="97.57" y1="732.07" x2="99.77" y2="732.07" stroke="#7a7a7a" stroke-width="0.6"/>
<rect x="97.52" y="727.12" width="2.3" height="1.98" fill="#707070" stroke="#606060" stroke-width="0.5"/>
<line x1="102" y1="716.73" x2="102" y2="731.08" stroke="#7a7a7a" stroke-width="0.6"/>
<line x1="100.9" y1="716.73" x2="103.09" y2="716.73" stroke="#7a7a7a" stroke-width="0.6"/>
<line x1="100.9" y1="731.08" x2="103.09" y2="731.08" stroke="#7a7a7a" stroke-width="0.6"/>
<rect x="100.84" y="724.15" width="2.3" height="4.95" fill="#a0a0a0" stroke="#606060" stroke-width="0.5"/>
<line x1="105.32" y1="722.17" x2="105.32" y2="758.8" stroke="#7a7a7a" stroke-width="0.6"/>
<line x1="104.22" y1="722.17" x2="106.42" y2="722.17" stroke="#7a7a7a" stroke-width="0.6"/>
<line x1="104.22" y1="758.8" x2="106.42" y2="758.8" stroke="#7a7a7a" stroke-width="0.6"/>
<rect x="104.17" y="729.1" width="2.3" height="10.89" fill="#909090" stroke="#606060" stroke-width="0.5"/>
<line x1="108.65" y1="713.75" x2="108.65" y2="729.1" stroke="#7a7a7a" stroke-width="0.6"/>
<line x1="107.55" y1="713.75" x2="109.75" y2="713.75" stroke="#7a7a7a" stroke-width="0.6"/>
<line x1="107.55" y1="729.1" x2="109.75" y2="729.1" stroke="#7a7a7a" stroke-width="0.6"/>
<rect x="107.5" y="722.17" width="2.3" height="6.93" fill="#606060" stroke="#606060" stroke-width="0.5"/>
<line x1="111.98" y1="727.12" x2="111.98" y2="732.07" stroke="#7a7a7a" stroke-width="0.6"/>
<line x1="110.88" y1="727.12" x2="113.08" y2="727.12" stroke="#7a7a7a" stroke-width="0.6"/>
<line x1="110.88" y1="732.07" x2="113.08" y2="732.07" stroke="#7a7a7a" stroke-width="0.6"/>
<rect x="110.83" y="729.1" width="2.3" height="0.99" fill="#b0b0b0" stroke="#606060" stroke-width="0.5"/>
<line x1="115.31" y1="725.14" x2="115.31" y2="739.99" stroke="#7a7a7a" stroke-width="0.6"/>
<line x1="114.21" y1="725.14" x2="116.41" y2="725.14" stroke="#7a7a7a" stroke-width="0.6"/>
<line x1="114.21" y1="739.99" x2="116.41" y2="739.99" stroke="#7a7a7a" stroke-width="0.6"/>
<rect x="114.16" y="729.1" width="2.3" height="2.48" fill="#808080" stroke="#606060" stroke-width="0.5"/>
<line x1="118.63" y1="727.12" x2="118.63" y2="739.99" stroke="#7a7a7a" stroke-width="0.6"/>
<line x1="117.53" y1="727.12" x2="119.73" y2="727.12" stroke="#7a7a7a" stroke-width="0.6"/>
<line x1="117.53" y1="739.99" x2="119.73" y2="739.99" stroke="#7a7a7a" stroke-width="0.6"/>
<rect x="117.48" y="729.1" width="2.3" height="2.48" fill="#808080" stroke="#606060" stroke-width="0.5"/>
<line x1="121.96" y1="728.11" x2="121.96" y2="733.06" stroke="#7a7a7a" stroke-width="0.6"/>
<line x1="120.86" y1="728.11" x2="123.06" y2="728.11" stroke="#7a7a7a" stroke-width="0.6"/>
<line x1="120.86" y1="733.06" x2="123.06" y2="733.06" stroke="#7a7a7a" stroke-width="0.6"/>
<rect x="120.81" y="729.1" width="2.3" height="0.99" fill="#707070" stroke="#606060" stroke-width="0.5"/>
<line x1="125.29" y1="724.15" x2="125.29" y2="729.1" stroke="#7a7a7a" stroke-width="0.6"/>
<line x1="124.19" y1="724.15" x2="126.39" y2="724.15" stroke="#7a7a7a" stroke-width="0.6"/>
<line x1="124.19" y1="729.1" x2="126.39" y2="729.1" stroke="#7a7a7a" stroke-width="0.6"/>
<rect x="124.14" y="726.72" width="2.3" height="2.38" fill="#606060" stroke="#606060" stroke-width="0.5"/>
<line x1="128.62" y1="720.19" x2="128.62" y2="729.1" stroke="#7a7a7a" stroke-width="0.6"/>
<line x1="127.52" y1="720.19" x2="129.72" y2="720.19" stroke="#7a7a7a" stroke-width="0.6"/>
<line x1="127.52" y1="729.1" x2="129.72" y2="729.1" stroke="#7a7a7a" stroke-width="0.6"/>
<rect x="127.47" y="724.64" width="2.3" height="4.46" fill="#808080" stroke="#606060" stroke-width="0.5"/>
<line x1="131.94" y1="725.14" x2="131.94" y2="732.57" stroke="#7a7a7a" stroke-width="0.6"/>
<line x1="130.84" y1="725.14" x2="133.04" y2="725.14" stroke="#7a7a7a" stroke-width="0.6"/>
<line x1="130.84" y1="732.57" x2="133.04" y2="732.57" stroke="#7a7a7a" stroke-width="0.6"/>
<rect x="130.79" y="729.1" width="2.3" height="0.6" fill="#909090" stroke="#606060" stroke-width="0.5"/>
<line x1="135.27" y1="723.16" x2="135.27" y2="729.1" stroke="#7a7a7a" stroke-width="0.6"/>
<line x1="134.17" y1="723.16" x2="136.37" y2="723.16" stroke="#7a7a7a" stroke-width="0.6"/>
<line x1="134.17" y1="729.1" x2="136.37" y2="729.1" stroke="#7a7a7a" stroke-width="0.6"/>
<rect x="134.12" y="726.72" width="2.3" height="2.38" fill="#505050" stroke="#606060" stroke-width="0.5"/>
<line x1="138.6" y1="661.78" x2="138.6" y2="783.55" stroke="#7a7a7a" stroke-width="0.6"/>
<line x1="137.5" y1="661.78" x2="139.7" y2="661.78" stroke="#7a7a7a" stroke-width="0.6"/>
<line x1="137.5" y1="783.55" x2="139.7" y2="783.55" stroke="#7a7a7a" stroke-width="0.6"/>
<rect x="137.45" y="722.17" width="2.3" height="6.93" fill="#b8b8b8" stroke="#606060" stroke-width="0.5"/>
<line x1="141.93" y1="697.92" x2="141.93" y2="752.86" stroke="#7a7a7a" stroke-width="0.6"/>
<line x1="140.83" y1="697.92" x2="143.03" y2="697.92" stroke="#7a7a7a" stroke-width="0.6"/>
<line x1="140.83" y1="752.86" x2="143.03" y2="752.86" stroke="#7a7a7a" stroke-width="0.6"/>
<rect x="140.78" y="726.13" width="2.3" height="2.97" fill="#606060" stroke="#606060" stroke-width="0.5"/>
<line x1="145.25" y1="701.88" x2="145.25" y2="752.86" stroke="#7a7a7a" stroke-width="0.6"/>
<line x1="144.15" y1="701.88" x2="146.35" y2="701.88" stroke="#7a7a7a" stroke-width="0.6"/>
<line x1="144.15" y1="752.86" x2="146.35" y2="752.86" stroke="#7a7a7a" stroke-width="0.6"/>
<rect x="144.1" y="728.41" width="2.3" height="0.69" fill="#909090" stroke="#606060" stroke-width="0.5"/>
<line x1="148.58" y1="719.2" x2="148.58" y2="729.1" stroke="#7a7a7a" stroke-width="0.6"/>
<line x1="147.48" y1="719.2" x2="149.68" y2="719.2" stroke="#7a7a7a" stroke-width="0.6"/>
<line x1="147.48" y1="729.1" x2="149.68" y2="729.1" stroke="#7a7a7a" stroke-width="0.6"/>
<rect x="147.43" y="724.15" width="2.3" height="4.95" fill="#606060" stroke="#606060" stroke-width="0.5"/>
<line x1="151.91" y1="700.88" x2="151.91" y2="778.6" stroke="#7a7a7a" stroke-width="0.6"/>
<line x1="150.81" y1="700.88" x2="153.01" y2="700.88" stroke="#7a7a7a" stroke-width="0.6"/>
<line x1="150.81" y1="778.6" x2="153.01" y2="778.6" stroke="#7a7a7a" stroke-width="0.6"/>
<rect x="150.76" y="729.1" width="2.3" height="9.9" fill="#a0a0a0" stroke="#606060" stroke-width="0.5"/>
<line x1="155.24" y1="719.2" x2="155.24" y2="730.09" stroke="#7a7a7a" stroke-width="0.6"/>
<line x1="154.14" y1="719.2" x2="156.34" y2="719.2" stroke="#7a7a7a" stroke-width="0.6"/>
<line x1="154.14" y1="730.09" x2="156.34" y2="730.09" stroke="#7a7a7a" stroke-width="0.6"/>
<rect x="154.09" y="725.63" width="2.3" height="3.47" fill="#606060" stroke="#606060" stroke-width="0.5"/>
<line x1="158.56" y1="713.26" x2="158.56" y2="729.1" stroke="#7a7a7a" stroke-width="0.6"/>
<line x1="157.46" y1="713.26" x2="159.66" y2="713.26" stroke="#7a7a7a" stroke-width="0.6"/>
<line x1="157.46" y1="729.1" x2="159.66" y2="729.1" stroke="#7a7a7a" stroke-width="0.6"/>
<rect x="157.41" y="722.17" width="2.3" height="6.93" fill="#c0c0c0" stroke="#606060" stroke-width="0.5"/>
<line x1="161.89" y1="712.27" x2="161.89" y2="729.1" stroke="#7a7a7a" stroke-width="0.6"/>
<line x1="160.79" y1="712.27" x2="162.99" y2="712.27" stroke="#7a7a7a" stroke-width="0.6"/>
<line x1="160.79" y1="729.1" x2="162.99" y2="729.1" stroke="#7a7a7a" stroke-width="0.6"/>
<rect x="160.74" y="720.69" width="2.3" height="8.41" fill="#c0c0c0" stroke="#606060" stroke-width="0.5"/>
<line x1="165.22" y1="705.34" x2="165.22" y2="731.08" stroke="#7a7a7a" stroke-width="0.6"/>
<line x1="164.12" y1="705.34" x2="166.32" y2="705.34" stroke="#7a7a7a" stroke-width="0.6"/>
<line x1="164.12" y1="731.08" x2="166.32" y2="731.08" stroke="#7a7a7a" stroke-width="0.6"/>
<rect x="164.07" y="719.2" width="2.3" height="9.9" fill="#a0a0a0" stroke="#606060" stroke-width="0.5"/>
<line x1="168.55" y1="724.15" x2="168.55" y2="729.1" stroke="#7a7a7a" stroke-width="0.6"/>
<line x1="167.45" y1="724.15" x2="169.65" y2="724.15" stroke="#7a7a7a" stroke-width="0.6"/>
<line x1="167.45" y1="729.1" x2="169.65" y2="729.1" stroke="#7a7a7a" stroke-width="0.6"/>
<rect x="167.4" y="726.72" width="2.3" height="2.38" fill="#505050" stroke="#606060" stroke-width="0.5"/>
<line x1="171.87" y1="720.19" x2="171.87" y2="729.1" stroke="#7a7a7a" stroke-width="0.6"/>
<line x1="170.77" y1="720.19" x2="172.97" y2="720.19" stroke="#7a7a7a" stroke-width="0.6"/>
<line x1="170.77" y1="729.1" x2="172.97" y2="729.1" stroke="#7a7a7a" stroke-width="0.6"/>
<rect x="170.72" y="724.15" width="2.3" height="4.95" fill="#505050" stroke="#606060" stroke-width="0.5"/>
<line x1="175.2" y1="727.12" x2="175.2" y2="738.01" stroke="#7a7a7a" stroke-width="0.6"/>
<line x1="174.1" y1="727.12" x2="176.3" y2="727.12" stroke="#7a7a7a" stroke-width="0.6"/>
<line x1="174.1" y1="738.01" x2="176.3" y2="738.01" stroke="#7a7a7a" stroke-width="0.6"/>
<rect x="174.05" y="729.1" width="2.3" height="2.97" fill="#808080" stroke="#606060" stroke-width="0.5"/>
<line x1="178.53" y1="727.12" x2="178.53" y2="739" stroke="#7a7a7a" stroke-width="0.6"/>
<line x1="177.43" y1="727.12" x2="179.63" y2="727.12" stroke="#7a7a7a" stroke-width="0.6"/>
<line x1="177.43" y1="739" x2="179.63" y2="739" stroke="#7a7a7a" stroke-width="0.6"/>
<rect x="177.38" y="729.1" width="2.3" height="2.97" fill="#808080" stroke="#606060" stroke-width="0.5"/>
<line x1="181.85" y1="725.14" x2="181.85" y2="731.08" stroke="#7a7a7a" stroke-width="0.6"/>
<line x1="180.75" y1="725.14" x2="182.95" y2="725.14" stroke="#7a7a7a" stroke-width="0.6"/>
<line x1="180.75" y1="731.08" x2="182.95" y2="731.08" stroke="#7a7a7a" stroke-width="0.6"/>
<rect x="180.7" y="729.1" width="2.3" height="0.6" fill="#808080" stroke="#606060" stroke-width="0.5"/>
<line x1="185.18" y1="719.2" x2="185.18" y2="729.1" stroke="#7a7a7a" stroke-width="0.6"/>
<line x1="184.08" y1="719.2" x2="186.28" y2="719.2" stroke="#7a7a7a" stroke-width="0.6"/>
<line x1="184.08" y1="729.1" x2="186.28" y2="729.1" stroke="#7a7a7a" stroke-width="0.6"/>
<rect x="184.03" y="722.96" width="2.3" height="6.14" fill="#909090" stroke="#606060" stroke-width="0.5"/>
<line x1="188.51" y1="722.17" x2="188.51" y2="729.1" stroke="#7a7a7a" stroke-width="0.6"/>
<line x1="187.41" y1="722.17" x2="189.61" y2="722.17" stroke="#7a7a7a" stroke-width="0.6"/>
<line x1="187.41" y1="729.1" x2="189.61" y2="729.1" stroke="#7a7a7a" stroke-width="0.6"/>
<rect x="187.36" y="725.14" width="2.3" height="3.96" fill="#606060" stroke="#606060" stroke-width="0.5"/>
<line x1="191.84" y1="723.16" x2="191.84" y2="731.08" stroke="#7a7a7a" stroke-width="0.6"/>
<line x1="190.74" y1="723.16" x2="192.94" y2="723.16" stroke="#7a7a7a" stroke-width="0.6"/>
<line x1="190.74" y1="731.08" x2="192.94" y2="731.08" stroke="#7a7a7a" stroke-width="0.6"/>
<rect x="190.69" y="727.12" width="2.3" height="1.98" fill="#707070" stroke="#606060" stroke-width="0.5"/>
<line x1="195.16" y1="728.11" x2="195.16" y2="731.08" stroke="#7a7a7a" stroke-width="0.6"/>
<line x1="194.06" y1="728.11" x2="196.26" y2="728.11" stroke="#7a7a7a" stroke-width="0.6"/>
<line x1="194.06" y1="731.08" x2="196.26" y2="731.08" stroke="#7a7a7a" stroke-width="0.6"/>
<rect x="194.01" y="729.1" width="2.3" height="0.6" fill="#808080" stroke="#606060" stroke-width="0.5"/>
<line x1="198.49" y1="722.17" x2="198.49" y2="729.1" stroke="#7a7a7a" stroke-width="0.6"/>
<line x1="197.39" y1="722.17" x2="199.59" y2="722.17" stroke="#7a7a7a" stroke-width="0.6"/>
<line x1="197.39" y1="729.1" x2="199.59" y2="729.1" stroke="#7a7a7a" stroke-width="0.6"/>
<rect x="197.34" y="725.44" width="2.3" height="3.66" fill="#505050" stroke="#606060" stroke-width="0.5"/>
<line x1="201.82" y1="704.35" x2="201.82" y2="729.1" stroke="#7a7a7a" stroke-width="0.6"/>
<line x1="200.72" y1="704.35" x2="202.92" y2="704.35" stroke="#7a7a7a" stroke-width="0.6"/>
<line x1="200.72" y1="729.1" x2="202.92" y2="729.1" stroke="#7a7a7a" stroke-width="0.6"/>
<rect x="200.67" y="717.22" width="2.3" height="11.88" fill="#c0c0c0" stroke="#606060" stroke-width="0.5"/>
<line x1="205.15" y1="708.31" x2="205.15" y2="733.06" stroke="#7a7a7a" stroke-width="0.6"/>
<line x1="204.05" y1="708.31" x2="206.25" y2="708.31" stroke="#7a7a7a" stroke-width="0.6"/>
<line x1="204.05" y1="733.06" x2="206.25" y2="733.06" stroke="#7a7a7a" stroke-width="0.6"/>
<rect x="204" y="721.18" width="2.3" height="7.92" fill="#b0b0b0" stroke="#606060" stroke-width="0.5"/>
<line x1="208.47" y1="716.23" x2="208.47" y2="729.1" stroke="#7a7a7a" stroke-width="0.6"/>
<line x1="207.38" y1="716.23" x2="209.57" y2="716.23" stroke="#7a7a7a" stroke-width="0.6"/>
<line x1="207.38" y1="729.1" x2="209.57" y2="729.1" stroke="#7a7a7a" stroke-width="0.6"/>
<rect x="207.32" y="722.96" width="2.3" height="6.14" fill="#505050" stroke="#606060" stroke-width="0.5"/>
<line x1="211.8" y1="704.35" x2="211.8" y2="726.13" stroke="#7a7a7a" stroke-width="0.6"/>
<line x1="210.7" y1="704.35" x2="212.9" y2="704.35" stroke="#7a7a7a" stroke-width="0.6"/>
<line x1="210.7" y1="726.13" x2="212.9" y2="726.13" stroke="#7a7a7a" stroke-width="0.6"/>
<rect x="210.65" y="715.24" width="2.3" height="13.86" fill="#c0c0c0" stroke="#606060" stroke-width="0.5"/>
<line x1="215.13" y1="695.44" x2="215.13" y2="746.92" stroke="#7a7a7a" stroke-width="0.6"/>
<line x1="214.03" y1="695.44" x2="216.23" y2="695.44" stroke="#7a7a7a" stroke-width="0.6"/>
<line x1="214.03" y1="746.92" x2="216.23" y2="746.92" stroke="#7a7a7a" stroke-width="0.6"/>
<rect x="213.98" y="721.18" width="2.3" height="7.92" fill="#b0b0b0" stroke="#606060" stroke-width="0.5"/>
<line x1="218.46" y1="711.28" x2="218.46" y2="730.09" stroke="#7a7a7a" stroke-width="0.6"/>
<line x1="217.36" y1="711.28" x2="219.56" y2="711.28" stroke="#7a7a7a" stroke-width="0.6"/>
<line x1="217.36" y1="730.09" x2="219.56" y2="730.09" stroke="#7a7a7a" stroke-width="0.6"/>
<rect x="217.31" y="721.18" width="2.3" height="7.92" fill="#a0a0a0" stroke="#606060" stroke-width="0.5"/>
<line x1="221.78" y1="703.36" x2="221.78" y2="739" stroke="#7a7a7a" stroke-width="0.6"/>
<line x1="220.69" y1="703.36" x2="222.88" y2="703.36" stroke="#7a7a7a" stroke-width="0.6"/>
<line x1="220.69" y1="739" x2="222.88" y2="739" stroke="#7a7a7a" stroke-width="0.6"/>
<rect x="220.63" y="721.68" width="2.3" height="7.42" fill="#505050" stroke="#606060" stroke-width="0.5"/>
<line x1="225.11" y1="725.14" x2="225.11" y2="748.9" stroke="#7a7a7a" stroke-width="0.6"/>
<line x1="224.01" y1="725.14" x2="226.21" y2="725.14" stroke="#7a7a7a" stroke-width="0.6"/>
<line x1="224.01" y1="748.9" x2="226.21" y2="748.9" stroke="#7a7a7a" stroke-width="0.6"/>
<rect x="223.96" y="729.1" width="2.3" height="7.92" fill="#808080" stroke="#606060" stroke-width="0.5"/>
<line x1="228.44" y1="722.17" x2="228.44" y2="732.07" stroke="#7a7a7a" stroke-width="0.6"/>
<line x1="227.34" y1="722.17" x2="229.54" y2="722.17" stroke="#7a7a7a" stroke-width="0.6"/>
<line x1="227.34" y1="732.07" x2="229.54" y2="732.07" stroke="#7a7a7a" stroke-width="0.6"/>
<rect x="227.29" y="727.81" width="2.3" height="1.29" fill="#606060" stroke="#606060" stroke-width="0.5"/>
<line x1="231.77" y1="716.23" x2="231.77" y2="736.52" stroke="#7a7a7a" stroke-width="0.6"/>
<line x1="230.67" y1="716.23" x2="232.87" y2="716.23" stroke="#7a7a7a" stroke-width="0.6"/>
<line x1="230.67" y1="736.52" x2="232.87" y2="736.52" stroke="#7a7a7a" stroke-width="0.6"/>
<rect x="230.62" y="727.12" width="2.3" height="1.98" fill="#808080" stroke="#606060" stroke-width="0.5"/>
<line x1="235.09" y1="725.14" x2="235.09" y2="731.08" stroke="#7a7a7a" stroke-width="0.6"/>
<line x1="234" y1="725.14" x2="236.19" y2="725.14" stroke="#7a7a7a" stroke-width="0.6"/>
<line x1="234" y1="731.08" x2="236.19" y2="731.08" stroke="#7a7a7a" stroke-width="0.6"/>
<rect x="233.94" y="729.1" width="2.3" height="0.6" fill="#707070" stroke="#606060" stroke-width="0.5"/>
<line x1="238.42" y1="723.16" x2="238.42" y2="729.1" stroke="#7a7a7a" stroke-width="0.6"/>
<line x1="237.32" y1="723.16" x2="239.52" y2="723.16" stroke="#7a7a7a" stroke-width="0.6"/>
<line x1="237.32" y1="729.1" x2="239.52" y2="729.1" stroke="#7a7a7a" stroke-width="0.6"/>
<rect x="237.27" y="726.72" width="2.3" height="2.38" fill="#505050" stroke="#606060" stroke-width="0.5"/>
<line x1="241.75" y1="723.16" x2="241.75" y2="731.08" stroke="#7a7a7a" stroke-width="0.6"/>
<line x1="240.65" y1="723.16" x2="242.85" y2="723.16" stroke="#7a7a7a" stroke-width="0.6"/>
<line x1="240.65" y1="731.08" x2="242.85" y2="731.08" stroke="#7a7a7a" stroke-width="0.6"/>
<rect x="240.6" y="727.12" width="2.3" height="1.98" fill="#505050" stroke="#606060" stroke-width="0.5"/>
<line x1="245.08" y1="726.13" x2="245.08" y2="737.02" stroke="#7a7a7a" stroke-width="0.6"/>
<line x1="243.98" y1="726.13" x2="246.18" y2="726.13" stroke="#7a7a7a" stroke-width="0.6"/>
<line x1="243.98" y1="737.02" x2="246.18" y2="737.02" stroke="#7a7a7a" stroke-width="0.6"/>
<rect x="243.93" y="729.1" width="2.3" height="2.48" fill="#606060" stroke="#606060" stroke-width="0.5"/>
<line x1="248.41" y1="717.22" x2="248.41" y2="731.08" stroke="#7a7a7a" stroke-width="0.6"/>
<line x1="247.31" y1="717.22" x2="249.5" y2="717.22" stroke="#7a7a7a" stroke-width="0.6"/>
<line x1="247.31" y1="731.08" x2="249.5" y2="731.08" stroke="#7a7a7a" stroke-width="0.6"/>
<rect x="247.25" y="724.15" width="2.3" height="4.95" fill="#909090" stroke="#606060" stroke-width="0.5"/>
<line x1="251.73" y1="722.17" x2="251.73" y2="729.1" stroke="#7a7a7a" stroke-width="0.6"/>
<line x1="250.63" y1="722.17" x2="252.83" y2="722.17" stroke="#7a7a7a" stroke-width="0.6"/>
<line x1="250.63" y1="729.1" x2="252.83" y2="729.1" stroke="#7a7a7a" stroke-width="0.6"/>
<rect x="250.58" y="725.63" width="2.3" height="3.47" fill="#707070" stroke="#606060" stroke-width="0.5"/>
<line x1="255.06" y1="719.2" x2="255.06" y2="729.1" stroke="#7a7a7a" stroke-width="0.6"/>
<line x1="253.96" y1="719.2" x2="256.16" y2="719.2" stroke="#7a7a7a" stroke-width="0.6"/>
<line x1="253.96" y1="729.1" x2="256.16" y2="729.1" stroke="#7a7a7a" stroke-width="0.6"/>
<rect x="253.91" y="724.15" width="2.3" height="4.95" fill="#606060" stroke="#606060" stroke-width="0.5"/>
<line x1="258.39" y1="723.16" x2="258.39" y2="729.1" stroke="#7a7a7a" stroke-width="0.6"/>
<line x1="257.29" y1="723.16" x2="259.49" y2="723.16" stroke="#7a7a7a" stroke-width="0.6"/>
<line x1="257.29" y1="729.1" x2="259.49" y2="729.1" stroke="#7a7a7a" stroke-width="0.6"/>
<rect x="257.24" y="725.63" width="2.3" height="3.47" fill="#707070" stroke="#606060" stroke-width="0.5"/>
<line x1="261.72" y1="720.19" x2="261.72" y2="729.1" stroke="#7a7a7a" stroke-width="0.6"/>
<line x1="260.62" y1="720.19" x2="262.82" y2="720.19" stroke="#7a7a7a" stroke-width="0.6"/>
<line x1="260.62" y1="729.1" x2="262.82" y2="729.1" stroke="#7a7a7a" stroke-width="0.6"/>
<rect x="260.57" y="724.64" width="2.3" height="4.46" fill="#505050" stroke="#606060" stroke-width="0.5"/>
<line x1="265.04" y1="728.11" x2="265.04" y2="733.06" stroke="#7a7a7a" stroke-width="0.6"/>
<line x1="263.94" y1="728.11" x2="266.14" y2="728.11" stroke="#7a7a7a" stroke-width="0.6"/>
<line x1="263.94" y1="733.06" x2="266.14" y2="733.06" stroke="#7a7a7a" stroke-width="0.6"/>
<rect x="263.89" y="729.1" width="2.3" height="0.99" fill="#606060" stroke="#606060" stroke-width="0.5"/>
<line x1="268.37" y1="727.12" x2="268.37" y2="741.97" stroke="#7a7a7a" stroke-width="0.6"/>
<line x1="267.27" y1="727.12" x2="269.47" y2="727.12" stroke="#7a7a7a" stroke-width="0.6"/>
<line x1="267.27" y1="741.97" x2="269.47" y2="741.97" stroke="#7a7a7a" stroke-width="0.6"/>
<rect x="267.22" y="729.1" width="2.3" height="3.96" fill="#606060" stroke="#606060" stroke-width="0.5"/>
<line x1="271.7" y1="717.22" x2="271.7" y2="729.1" stroke="#7a7a7a" stroke-width="0.6"/>
<line x1="270.6" y1="717.22" x2="272.8" y2="717.22" stroke="#7a7a7a" stroke-width="0.6"/>
<line x1="270.6" y1="729.1" x2="272.8" y2="729.1" stroke="#7a7a7a" stroke-width="0.6"/>
<rect x="270.55" y="722.96" width="2.3" height="6.14" fill="#c0c0c0" stroke="#606060" stroke-width="0.5"/>
<line x1="275.03" y1="716.23" x2="275.03" y2="729.1" stroke="#7a7a7a" stroke-width="0.6"/>
<line x1="273.93" y1="716.23" x2="276.13" y2="716.23" stroke="#7a7a7a" stroke-width="0.6"/>
<line x1="273.93" y1="729.1" x2="276.13" y2="729.1" stroke="#7a7a7a" stroke-width="0.6"/>
<rect x="273.88" y="722.37" width="2.3" height="6.73" fill="#909090" stroke="#606060" stroke-width="0.5"/>
<line x1="278.35" y1="725.14" x2="278.35" y2="748.9" stroke="#7a7a7a" stroke-width="0.6"/>
<line x1="277.25" y1="725.14" x2="279.45" y2="725.14" stroke="#7a7a7a" stroke-width="0.6"/>
<line x1="277.25" y1="748.9" x2="279.45" y2="748.9" stroke="#7a7a7a" stroke-width="0.6"/>
<rect x="277.2" y="729.1" width="2.3" height="7.92" fill="#909090" stroke="#606060" stroke-width="0.5"/>
<line x1="281.68" y1="712.27" x2="281.68" y2="729.1" stroke="#7a7a7a" stroke-width="0.6"/>
<line x1="280.58" y1="712.27" x2="282.78" y2="712.27" stroke="#7a7a7a" stroke-width="0.6"/>
<line x1="280.58" y1="729.1" x2="282.78" y2="729.1" stroke="#7a7a7a" stroke-width="0.6"/>
<rect x="280.53" y="719.7" width="2.3" height="9.4" fill="#909090" stroke="#606060" stroke-width="0.5"/>
<line x1="285.01" y1="716.23" x2="285.01" y2="729.1" stroke="#7a7a7a" stroke-width="0.6"/>
<line x1="283.91" y1="716.23" x2="286.11" y2="716.23" stroke="#7a7a7a" stroke-width="0.6"/>
<line x1="283.91" y1="729.1" x2="286.11" y2="729.1" stroke="#7a7a7a" stroke-width="0.6"/>
<rect x="283.86" y="722.96" width="2.3" height="6.14" fill="#a0a0a0" stroke="#606060" stroke-width="0.5"/>
<line x1="288.34" y1="722.17" x2="288.34" y2="729.1" stroke="#7a7a7a" stroke-width="0.6"/>
<line x1="287.24" y1="722.17" x2="289.44" y2="722.17" stroke="#7a7a7a" stroke-width="0.6"/>
<line x1="287.24" y1="729.1" x2="289.44" y2="729.1" stroke="#7a7a7a" stroke-width="0.6"/>
<rect x="287.19" y="726.13" width="2.3" height="2.97" fill="#505050" stroke="#606060" stroke-width="0.5"/>
<line x1="291.66" y1="725.14" x2="291.66" y2="739" stroke="#7a7a7a" stroke-width="0.6"/>
<line x1="290.56" y1="725.14" x2="292.76" y2="725.14" stroke="#7a7a7a" stroke-width="0.6"/>
<line x1="290.56" y1="739" x2="292.76" y2="739" stroke="#7a7a7a" stroke-width="0.6"/>
<rect x="290.51" y="729.1" width="2.3" height="2.97" fill="#808080" stroke="#606060" stroke-width="0.5"/>
<line x1="294.99" y1="722.96" x2="294.99" y2="729.1" stroke="#7a7a7a" stroke-width="0.6"/>
<line x1="293.89" y1="722.96" x2="296.09" y2="722.96" stroke="#7a7a7a" stroke-width="0.6"/>
<line x1="293.89" y1="729.1" x2="296.09" y2="729.1" stroke="#7a7a7a" stroke-width="0.6"/>
<rect x="293.84" y="725.14" width="2.3" height="3.96" fill="#606060" stroke="#606060" stroke-width="0.5"/>
<line x1="298.32" y1="717.22" x2="298.32" y2="730.09" stroke="#7a7a7a" stroke-width="0.6"/>
<line x1="297.22" y1="717.22" x2="299.42" y2="717.22" stroke="#7a7a7a" stroke-width="0.6"/>
<line x1="297.22" y1="730.09" x2="299.42" y2="730.09" stroke="#7a7a7a" stroke-width="0.6"/>
<rect x="297.17" y="724.15" width="2.3" height="4.95" fill="#606060" stroke="#606060" stroke-width="0.5"/>
<line x1="301.65" y1="727.12" x2="301.65" y2="738.01" stroke="#7a7a7a" stroke-width="0.6"/>
<line x1="300.55" y1="727.12" x2="302.75" y2="727.12" stroke="#7a7a7a" stroke-width="0.6"/>
<line x1="300.55" y1="738.01" x2="302.75" y2="738.01" stroke="#7a7a7a" stroke-width="0.6"/>
<rect x="300.5" y="729.1" width="2.3" height="2.97" fill="#707070" stroke="#606060" stroke-width="0.5"/>
<line x1="304.97" y1="718.21" x2="304.97" y2="729.1" stroke="#7a7a7a" stroke-width="0.6"/>
<line x1="303.87" y1="718.21" x2="306.07" y2="718.21" stroke="#7a7a7a" stroke-width="0.6"/>
<line x1="303.87" y1="729.1" x2="306.07" y2="729.1" stroke="#7a7a7a" stroke-width="0.6"/>
<rect x="303.82" y="722.96" width="2.3" height="6.14" fill="#c0c0c0" stroke="#606060" stroke-width="0.5"/>
<line x1="308.3" y1="725.14" x2="308.3" y2="730.09" stroke="#7a7a7a" stroke-width="0.6"/>
<line x1="307.2" y1="725.14" x2="309.4" y2="725.14" stroke="#7a7a7a" stroke-width="0.6"/>
<line x1="307.2" y1="730.09" x2="309.4" y2="730.09" stroke="#7a7a7a" stroke-width="0.6"/>
<rect x="307.15" y="727.81" width="2.3" height="1.29" fill="#909090" stroke="#606060" stroke-width="0.5"/>
<line x1="311.63" y1="720.69" x2="311.63" y2="729.1" stroke="#7a7a7a" stroke-width="0.6"/>
<line x1="310.53" y1="720.69" x2="312.73" y2="720.69" stroke="#7a7a7a" stroke-width="0.6"/>
<line x1="310.53" y1="729.1" x2="312.73" y2="729.1" stroke="#7a7a7a" stroke-width="0.6"/>
<rect x="310.48" y="724.15" width="2.3" height="4.95" fill="#a0a0a0" stroke="#606060" stroke-width="0.5"/>
<line x1="314.96" y1="721.68" x2="314.96" y2="729.1" stroke="#7a7a7a" stroke-width="0.6"/>
<line x1="313.86" y1="721.68" x2="316.06" y2="721.68" stroke="#7a7a7a" stroke-width="0.6"/>
<line x1="313.86" y1="729.1" x2="316.06" y2="729.1" stroke="#7a7a7a" stroke-width="0.6"/>
<rect x="313.81" y="725.14" width="2.3" height="3.96" fill="#808080" stroke="#606060" stroke-width="0.5"/>
<line x1="318.28" y1="722.17" x2="318.28" y2="731.08" stroke="#7a7a7a" stroke-width="0.6"/>
<line x1="317.18" y1="722.17" x2="319.38" y2="722.17" stroke="#7a7a7a" stroke-width="0.6"/>
<line x1="317.18" y1="731.08" x2="319.38" y2="731.08" stroke="#7a7a7a" stroke-width="0.6"/>
<rect x="317.13" y="727.12" width="2.3" height="1.98" fill="#505050" stroke="#606060" stroke-width="0.5"/>
<line x1="321.61" y1="729.1" x2="321.61" y2="733.06" stroke="#7a7a7a" stroke-width="0.6"/>
<line x1="320.51" y1="729.1" x2="322.71" y2="729.1" stroke="#7a7a7a" stroke-width="0.6"/>
<line x1="320.51" y1="733.06" x2="322.71" y2="733.06" stroke="#7a7a7a" stroke-width="0.6"/>
<rect x="320.46" y="729.1" width="2.3" height="1.98" fill="#505050" stroke="#606060" stroke-width="0.5"/>
<line x1="324.94" y1="727.12" x2="324.94" y2="733.06" stroke="#7a7a7a" stroke-width="0.6"/>
<line x1="323.84" y1="727.12" x2="326.04" y2="727.12" stroke="#7a7a7a" stroke-width="0.6"/>
<line x1="323.84" y1="733.06" x2="326.04" y2="733.06" stroke="#7a7a7a" stroke-width="0.6"/>
<rect x="323.79" y="729.1" width="2.3" height="0.99" fill="#a0a0a0" stroke="#606060" stroke-width="0.5"/>
<line x1="328.27" y1="726.13" x2="328.27" y2="737.02" stroke="#7a7a7a" stroke-width="0.6"/>
<line x1="327.17" y1="726.13" x2="329.37" y2="726.13" stroke="#7a7a7a" stroke-width="0.6"/>
<line x1="327.17" y1="737.02" x2="329.37" y2="737.02" stroke="#7a7a7a" stroke-width="0.6"/>
<rect x="327.12" y="729.1" width="2.3" height="1.78" fill="#707070" stroke="#606060" stroke-width="0.5"/>
<line x1="331.59" y1="725.14" x2="331.59" y2="743.95" stroke="#7a7a7a" stroke-width="0.6"/>
<line x1="330.49" y1="725.14" x2="332.69" y2="725.14" stroke="#7a7a7a" stroke-width="0.6"/>
<line x1="330.49" y1="743.95" x2="332.69" y2="743.95" stroke="#7a7a7a" stroke-width="0.6"/>
<rect x="330.44" y="729.1" width="2.3" height="4.95" fill="#808080" stroke="#606060" stroke-width="0.5"/>
<line x1="334.92" y1="713.26" x2="334.92" y2="740.98" stroke="#7a7a7a" stroke-width="0.6"/>
<line x1="333.82" y1="713.26" x2="336.02" y2="713.26" stroke="#7a7a7a" stroke-width="0.6"/>
<line x1="333.82" y1="740.98" x2="336.02" y2="740.98" stroke="#7a7a7a" stroke-width="0.6"/>
<rect x="333.77" y="727.12" width="2.3" height="1.98" fill="#505050" stroke="#606060" stroke-width="0.5"/>
<line x1="338.25" y1="723.46" x2="338.25" y2="729.1" stroke="#7a7a7a" stroke-width="0.6"/>
<line x1="337.15" y1="723.46" x2="339.35" y2="723.46" stroke="#7a7a7a" stroke-width="0.6"/>
<line x1="337.15" y1="729.1" x2="339.35" y2="729.1" stroke="#7a7a7a" stroke-width="0.6"/>
<rect x="337.1" y="726.13" width="2.3" height="2.97" fill="#505050" stroke="#606060" stroke-width="0.5"/>
<line x1="341.58" y1="727.12" x2="341.58" y2="737.02" stroke="#7a7a7a" stroke-width="0.6"/>
<line x1="340.48" y1="727.12" x2="342.68" y2="727.12" stroke="#7a7a7a" stroke-width="0.6"/>
<line x1="340.48" y1="737.02" x2="342.68" y2="737.02" stroke="#7a7a7a" stroke-width="0.6"/>
<rect x="340.43" y="729.1" width="2.3" height="2.97" fill="#808080" stroke="#606060" stroke-width="0.5"/>
<line x1="344.9" y1="723.46" x2="344.9" y2="729.1" stroke="#7a7a7a" stroke-width="0.6"/>
<line x1="343.8" y1="723.46" x2="346" y2="723.46" stroke="#7a7a7a" stroke-width="0.6"/>
<line x1="343.8" y1="729.1" x2="346" y2="729.1" stroke="#7a7a7a" stroke-width="0.6"/>
<rect x="343.75" y="726.72" width="2.3" height="2.38" fill="#505050" stroke="#606060" stroke-width="0.5"/>
<line x1="348.23" y1="703.36" x2="348.23" y2="729.1" stroke="#7a7a7a" stroke-width="0.6"/>
<line x1="347.13" y1="703.36" x2="349.33" y2="703.36" stroke="#7a7a7a" stroke-width="0.6"/>
<line x1="347.13" y1="729.1" x2="349.33" y2="729.1" stroke="#7a7a7a" stroke-width="0.6"/>
<rect x="347.08" y="717.22" width="2.3" height="11.88" fill="#b0b0b0" stroke="#606060" stroke-width="0.5"/>
<line x1="351.56" y1="722.17" x2="351.56" y2="753.85" stroke="#7a7a7a" stroke-width="0.6"/>
<line x1="350.46" y1="722.17" x2="352.66" y2="722.17" stroke="#7a7a7a" stroke-width="0.6"/>
<line x1="350.46" y1="753.85" x2="352.66" y2="753.85" stroke="#7a7a7a" stroke-width="0.6"/>
<rect x="350.41" y="729.1" width="2.3" height="7.92" fill="#b0b0b0" stroke="#606060" stroke-width="0.5"/>
<line x1="354.89" y1="709.3" x2="354.89" y2="733.06" stroke="#7a7a7a" stroke-width="0.6"/>
<line x1="353.79" y1="709.3" x2="355.99" y2="709.3" stroke="#7a7a7a" stroke-width="0.6"/>
<line x1="353.79" y1="733.06" x2="355.99" y2="733.06" stroke="#7a7a7a" stroke-width="0.6"/>
<rect x="353.74" y="721.68" width="2.3" height="7.42" fill="#909090" stroke="#606060" stroke-width="0.5"/>
<line x1="358.21" y1="726.13" x2="358.21" y2="740.98" stroke="#7a7a7a" stroke-width="0.6"/>
<line x1="357.11" y1="726.13" x2="359.31" y2="726.13" stroke="#7a7a7a" stroke-width="0.6"/>
<line x1="357.11" y1="740.98" x2="359.31" y2="740.98" stroke="#7a7a7a" stroke-width="0.6"/>
<rect x="357.06" y="729.1" width="2.3" height="3.96" fill="#707070" stroke="#606060" stroke-width="0.5"/>
<line x1="361.54" y1="722.17" x2="361.54" y2="731.08" stroke="#7a7a7a" stroke-width="0.6"/>
<line x1="360.44" y1="722.17" x2="362.64" y2="722.17" stroke="#7a7a7a" stroke-width="0.6"/>
<line x1="360.44" y1="731.08" x2="362.64" y2="731.08" stroke="#7a7a7a" stroke-width="0.6"/>
<rect x="360.39" y="727.81" width="2.3" height="1.29" fill="#505050" stroke="#606060" stroke-width="0.5"/>
<line x1="364.87" y1="719.2" x2="364.87" y2="729.1" stroke="#7a7a7a" stroke-width="0.6"/>
<line x1="363.77" y1="719.2" x2="365.97" y2="719.2" stroke="#7a7a7a" stroke-width="0.6"/>
<line x1="363.77" y1="729.1" x2="365.97" y2="729.1" stroke="#7a7a7a" stroke-width="0.6"/>
<rect x="363.72" y="725.14" width="2.3" height="3.96" fill="#505050" stroke="#606060" stroke-width="0.5"/>
<line x1="368.2" y1="727.12" x2="368.2" y2="733.06" stroke="#7a7a7a" stroke-width="0.6"/>
<line x1="367.1" y1="727.12" x2="369.3" y2="727.12" stroke="#7a7a7a" stroke-width="0.6"/>
<line x1="367.1" y1="733.06" x2="369.3" y2="733.06" stroke="#7a7a7a" stroke-width="0.6"/>
<rect x="367.05" y="729.1" width="2.3" height="0.99" fill="#808080" stroke="#606060" stroke-width="0.5"/>
<line x1="371.52" y1="725.14" x2="371.52" y2="737.02" stroke="#7a7a7a" stroke-width="0.6"/>
<line x1="370.42" y1="725.14" x2="372.62" y2="725.14" stroke="#7a7a7a" stroke-width="0.6"/>
<line x1="370.42" y1="737.02" x2="372.62" y2="737.02" stroke="#7a7a7a" stroke-width="0.6"/>
<rect x="370.37" y="729.1" width="2.3" height="0.99" fill="#c0c0c0" stroke="#606060" stroke-width="0.5"/>
<line x1="374.85" y1="720.19" x2="374.85" y2="729.1" stroke="#7a7a7a" stroke-width="0.6"/>
<line x1="373.75" y1="720.19" x2="375.95" y2="720.19" stroke="#7a7a7a" stroke-width="0.6"/>
<line x1="373.75" y1="729.1" x2="375.95" y2="729.1" stroke="#7a7a7a" stroke-width="0.6"/>
<rect x="373.7" y="724.15" width="2.3" height="4.95" fill="#909090" stroke="#606060" stroke-width="0.5"/>
<line x1="378.18" y1="714.25" x2="378.18" y2="729.1" stroke="#7a7a7a" stroke-width="0.6"/>
<line x1="377.08" y1="714.25" x2="379.28" y2="714.25" stroke="#7a7a7a" stroke-width="0.6"/>
<line x1="377.08" y1="729.1" x2="379.28" y2="729.1" stroke="#7a7a7a" stroke-width="0.6"/>
<rect x="377.03" y="722.96" width="2.3" height="6.14" fill="#b0b0b0" stroke="#606060" stroke-width="0.5"/>
<line x1="381.51" y1="710.29" x2="381.51" y2="734.05" stroke="#7a7a7a" stroke-width="0.6"/>
<line x1="380.41" y1="710.29" x2="382.61" y2="710.29" stroke="#7a7a7a" stroke-width="0.6"/>
<line x1="380.41" y1="734.05" x2="382.61" y2="734.05" stroke="#7a7a7a" stroke-width="0.6"/>
<rect x="380.36" y="727.12" width="2.3" height="1.98" fill="#c0c0c0" stroke="#606060" stroke-width="0.5"/>
<line x1="384.83" y1="720.19" x2="384.83" y2="729.1" stroke="#7a7a7a" stroke-width="0.6"/>
<line x1="383.73" y1="720.19" x2="385.93" y2="720.19" stroke="#7a7a7a" stroke-width="0.6"/>
<line x1="383.73" y1="729.1" x2="385.93" y2="729.1" stroke="#7a7a7a" stroke-width="0.6"/>
<rect x="383.68" y="725.14" width="2.3" height="3.96" fill="#909090" stroke="#606060" stroke-width="0.5"/>
<line x1="388.16" y1="723.16" x2="388.16" y2="729.1" stroke="#7a7a7a" stroke-width="0.6"/>
<line x1="387.06" y1="723.16" x2="389.26" y2="723.16" stroke="#7a7a7a" stroke-width="0.6"/>
<line x1="387.06" y1="729.1" x2="389.26" y2="729.1" stroke="#7a7a7a" stroke-width="0.6"/>
<rect x="387.01" y="727.12" width="2.3" height="1.98" fill="#505050" stroke="#606060" stroke-width="0.5"/>
<line x1="391.49" y1="727.12" x2="391.49" y2="734.05" stroke="#7a7a7a" stroke-width="0.6"/>
<line x1="390.39" y1="727.12" x2="392.59" y2="727.12" stroke="#7a7a7a" stroke-width="0.6"/>
<line x1="390.39" y1="734.05" x2="392.59" y2="734.05" stroke="#7a7a7a" stroke-width="0.6"/>
<rect x="390.34" y="729.1" width="2.3" height="1.49" fill="#707070" stroke="#606060" stroke-width="0.5"/>
<line x1="394.82" y1="725.14" x2="394.82" y2="729.1" stroke="#7a7a7a" stroke-width="0.6"/>
<line x1="393.72" y1="725.14" x2="395.92" y2="725.14" stroke="#7a7a7a" stroke-width="0.6"/>
<line x1="393.72" y1="729.1" x2="395.92" y2="729.1" stroke="#7a7a7a" stroke-width="0.6"/>
<rect x="393.67" y="727.12" width="2.3" height="1.98" fill="#505050" stroke="#606060" stroke-width="0.5"/>
<line x1="398.14" y1="722.17" x2="398.14" y2="731.08" stroke="#7a7a7a" stroke-width="0.6"/>
<line x1="397.04" y1="722.17" x2="399.24" y2="722.17" stroke="#7a7a7a" stroke-width="0.6"/>
<line x1="397.04" y1="731.08" x2="399.24" y2="731.08" stroke="#7a7a7a" stroke-width="0.6"/>
<rect x="396.99" y="727.12" width="2.3" height="1.98" fill="#505050" stroke="#606060" stroke-width="0.5"/>
<line x1="401.47" y1="723.16" x2="401.47" y2="729.1" stroke="#7a7a7a" stroke-width="0.6"/>
<line x1="400.37" y1="723.16" x2="402.57" y2="723.16" stroke="#7a7a7a" stroke-width="0.6"/>
<line x1="400.37" y1="729.1" x2="402.57" y2="729.1" stroke="#7a7a7a" stroke-width="0.6"/>
<rect x="400.32" y="727.12" width="2.3" height="1.98" fill="#505050" stroke="#606060" stroke-width="0.5"/>
<line x1="404.8" y1="724.15" x2="404.8" y2="729.1" stroke="#7a7a7a" stroke-width="0.6"/>
<line x1="403.7" y1="724.15" x2="405.9" y2="724.15" stroke="#7a7a7a" stroke-width="0.6"/>
<line x1="403.7" y1="729.1" x2="405.9" y2="729.1" stroke="#7a7a7a" stroke-width="0.6"/>
<rect x="403.65" y="727.12" width="2.3" height="1.98" fill="#505050" stroke="#606060" stroke-width="0.5"/>
<line x1="408.13" y1="719.2" x2="408.13" y2="729.1" stroke="#7a7a7a" stroke-width="0.6"/>
<line x1="407.03" y1="719.2" x2="409.23" y2="719.2" stroke="#7a7a7a" stroke-width="0.6"/>
<line x1="407.03" y1="729.1" x2="409.23" y2="729.1" stroke="#7a7a7a" stroke-width="0.6"/>
<rect x="406.98" y="724.64" width="2.3" height="4.46" fill="#b0b0b0" stroke="#606060" stroke-width="0.5"/>
<line x1="411.45" y1="724.15" x2="411.45" y2="729.1" stroke="#7a7a7a" stroke-width="0.6"/>
<line x1="410.35" y1="724.15" x2="412.55" y2="724.15" stroke="#7a7a7a" stroke-width="0.6"/>
<line x1="410.35" y1="729.1" x2="412.55" y2="729.1" stroke="#7a7a7a" stroke-width="0.6"/>
<rect x="410.3" y="726.72" width="2.3" height="2.38" fill="#505050" stroke="#606060" stroke-width="0.5"/>
<line x1="414.78" y1="725.14" x2="414.78" y2="729.1" stroke="#7a7a7a" stroke-width="0.6"/>
<line x1="413.68" y1="725.14" x2="415.88" y2="725.14" stroke="#7a7a7a" stroke-width="0.6"/>
<line x1="413.68" y1="729.1" x2="415.88" y2="729.1" stroke="#7a7a7a" stroke-width="0.6"/>
<rect x="413.63" y="727.81" width="2.3" height="1.29" fill="#505050" stroke="#606060" stroke-width="0.5"/>
<line x1="418.11" y1="724.15" x2="418.11" y2="729.1" stroke="#7a7a7a" stroke-width="0.6"/>
<line x1="417.01" y1="724.15" x2="419.21" y2="724.15" stroke="#7a7a7a" stroke-width="0.6"/>
<line x1="417.01" y1="729.1" x2="419.21" y2="729.1" stroke="#7a7a7a" stroke-width="0.6"/>
<rect x="416.96" y="727.12" width="2.3" height="1.98" fill="#505050" stroke="#606060" stroke-width="0.5"/>
<line x1="421.44" y1="717.22" x2="421.44" y2="739.99" stroke="#7a7a7a" stroke-width="0.6"/>
<line x1="420.34" y1="717.22" x2="422.54" y2="717.22" stroke="#7a7a7a" stroke-width="0.6"/>
<line x1="420.34" y1="739.99" x2="422.54" y2="739.99" stroke="#7a7a7a" stroke-width="0.6"/>
<rect x="420.29" y="729.1" width="2.3" height="0.6" fill="#c8c8c8" stroke="#606060" stroke-width="0.5"/>
<line x1="424.76" y1="713.26" x2="424.76" y2="729.1" stroke="#7a7a7a" stroke-width="0.6"/>
<line x1="423.66" y1="713.26" x2="425.86" y2="713.26" stroke="#7a7a7a" stroke-width="0.6"/>
<line x1="423.66" y1="729.1" x2="425.86" y2="729.1" stroke="#7a7a7a" stroke-width="0.6"/>
<rect x="423.61" y="720.19" width="2.3" height="8.91" fill="#909090" stroke="#606060" stroke-width="0.5"/>
<line x1="428.09" y1="721.48" x2="428.09" y2="732.07" stroke="#7a7a7a" stroke-width="0.6"/>
<line x1="426.99" y1="721.48" x2="429.19" y2="721.48" stroke="#7a7a7a" stroke-width="0.6"/>
<line x1="426.99" y1="732.07" x2="429.19" y2="732.07" stroke="#7a7a7a" stroke-width="0.6"/>
<rect x="426.94" y="727.12" width="2.3" height="1.98" fill="#505050" stroke="#606060" stroke-width="0.5"/>
<line x1="431.42" y1="715.24" x2="431.42" y2="732.07" stroke="#7a7a7a" stroke-width="0.6"/>
<line x1="430.32" y1="715.24" x2="432.52" y2="715.24" stroke="#7a7a7a" stroke-width="0.6"/>
<line x1="430.32" y1="732.07" x2="432.52" y2="732.07" stroke="#7a7a7a" stroke-width="0.6"/>
<rect x="430.27" y="724.15" width="2.3" height="4.95" fill="#505050" stroke="#606060" stroke-width="0.5"/>
<line x1="434.75" y1="718.21" x2="434.75" y2="729.1" stroke="#7a7a7a" stroke-width="0.6"/>
<line x1="433.65" y1="718.21" x2="435.85" y2="718.21" stroke="#7a7a7a" stroke-width="0.6"/>
<line x1="433.65" y1="729.1" x2="435.85" y2="729.1" stroke="#7a7a7a" stroke-width="0.6"/>
<rect x="433.6" y="724.15" width="2.3" height="4.95" fill="#606060" stroke="#606060" stroke-width="0.5"/>
<line x1="438.07" y1="722.17" x2="438.07" y2="731.08" stroke="#7a7a7a" stroke-width="0.6"/>
<line x1="436.97" y1="722.17" x2="439.17" y2="722.17" stroke="#7a7a7a" stroke-width="0.6"/>
<line x1="436.97" y1="731.08" x2="439.17" y2="731.08" stroke="#7a7a7a" stroke-width="0.6"/>
<rect x="436.92" y="727.12" width="2.3" height="1.98" fill="#505050" stroke="#606060" stroke-width="0.5"/>
<line x1="441.4" y1="716.23" x2="441.4" y2="729.1" stroke="#7a7a7a" stroke-width="0.6"/>
<line x1="440.3" y1="716.23" x2="442.5" y2="716.23" stroke="#7a7a7a" stroke-width="0.6"/>
<line x1="440.3" y1="729.1" x2="442.5" y2="729.1" stroke="#7a7a7a" stroke-width="0.6"/>
<rect x="440.25" y="722.47" width="2.3" height="6.63" fill="#606060" stroke="#606060" stroke-width="0.5"/>
<line x1="444.73" y1="728.11" x2="444.73" y2="733.06" stroke="#7a7a7a" stroke-width="0.6"/>
<line x1="443.63" y1="728.11" x2="445.83" y2="728.11" stroke="#7a7a7a" stroke-width="0.6"/>
<line x1="443.63" y1="733.06" x2="445.83" y2="733.06" stroke="#7a7a7a" stroke-width="0.6"/>
<rect x="443.58" y="729.1" width="2.3" height="1.49" fill="#808080" stroke="#606060" stroke-width="0.5"/>
<line x1="448.06" y1="721.18" x2="448.06" y2="729.1" stroke="#7a7a7a" stroke-width="0.6"/>
<line x1="446.96" y1="721.18" x2="449.16" y2="721.18" stroke="#7a7a7a" stroke-width="0.6"/>
<line x1="446.96" y1="729.1" x2="449.16" y2="729.1" stroke="#7a7a7a" stroke-width="0.6"/>
<rect x="446.91" y="726.13" width="2.3" height="2.97" fill="#505050" stroke="#606060" stroke-width="0.5"/>
<line x1="451.38" y1="725.14" x2="451.38" y2="740.98" stroke="#7a7a7a" stroke-width="0.6"/>
<line x1="450.28" y1="725.14" x2="452.48" y2="725.14" stroke="#7a7a7a" stroke-width="0.6"/>
<line x1="450.28" y1="740.98" x2="452.48" y2="740.98" stroke="#7a7a7a" stroke-width="0.6"/>
<rect x="450.23" y="729.1" width="2.3" height="4.46" fill="#606060" stroke="#606060" stroke-width="0.5"/>
<line x1="454.71" y1="729.1" x2="454.71" y2="737.42" stroke="#7a7a7a" stroke-width="0.6"/>
<line x1="453.61" y1="729.1" x2="455.81" y2="729.1" stroke="#7a7a7a" stroke-width="0.6"/>
<line x1="453.61" y1="737.42" x2="455.81" y2="737.42" stroke="#7a7a7a" stroke-width="0.6"/>
<rect x="453.56" y="729.1" width="2.3" height="4.46" fill="#505050" stroke="#606060" stroke-width="0.5"/>
<line x1="458.04" y1="727.12" x2="458.04" y2="740.98" stroke="#7a7a7a" stroke-width="0.6"/>
<line x1="456.94" y1="727.12" x2="459.14" y2="727.12" stroke="#7a7a7a" stroke-width="0.6"/>
<line x1="456.94" y1="740.98" x2="459.14" y2="740.98" stroke="#7a7a7a" stroke-width="0.6"/>
<rect x="456.89" y="729.1" width="2.3" height="4.46" fill="#a0a0a0" stroke="#606060" stroke-width="0.5"/>
<line x1="461.37" y1="708.31" x2="461.37" y2="719.2" stroke="#7a7a7a" stroke-width="0.6"/>
<line x1="460.27" y1="708.31" x2="462.47" y2="708.31" stroke="#7a7a7a" stroke-width="0.6"/>
<line x1="460.27" y1="719.2" x2="462.47" y2="719.2" stroke="#7a7a7a" stroke-width="0.6"/>
<rect x="460.22" y="714.25" width="2.3" height="14.85" fill="#c0c0c0" stroke="#606060" stroke-width="0.5"/>
<line x1="464.69" y1="715.24" x2="464.69" y2="724.15" stroke="#7a7a7a" stroke-width="0.6"/>
<line x1="463.59" y1="715.24" x2="465.79" y2="715.24" stroke="#7a7a7a" stroke-width="0.6"/>
<line x1="463.59" y1="724.15" x2="465.79" y2="724.15" stroke="#7a7a7a" stroke-width="0.6"/>
<rect x="463.54" y="720.19" width="2.3" height="8.91" fill="#c0c0c0" stroke="#606060" stroke-width="0.5"/>
<line x1="468.02" y1="717.22" x2="468.02" y2="725.14" stroke="#7a7a7a" stroke-width="0.6"/>
<line x1="466.92" y1="717.22" x2="469.12" y2="717.22" stroke="#7a7a7a" stroke-width="0.6"/>
<line x1="466.92" y1="725.14" x2="469.12" y2="725.14" stroke="#7a7a7a" stroke-width="0.6"/>
<rect x="466.87" y="721.48" width="2.3" height="7.62" fill="#c0c0c0" stroke="#606060" stroke-width="0.5"/>
<line x1="471.35" y1="713.26" x2="471.35" y2="724.15" stroke="#7a7a7a" stroke-width="0.6"/>
<line x1="470.25" y1="713.26" x2="472.45" y2="713.26" stroke="#7a7a7a" stroke-width="0.6"/>
<line x1="470.25" y1="724.15" x2="472.45" y2="724.15" stroke="#7a7a7a" stroke-width="0.6"/>
<rect x="470.2" y="719.2" width="2.3" height="9.9" fill="#b0b0b0" stroke="#606060" stroke-width="0.5"/>
<line x1="474.68" y1="711.28" x2="474.68" y2="723.16" stroke="#7a7a7a" stroke-width="0.6"/>
<line x1="473.57" y1="711.28" x2="475.78" y2="711.28" stroke="#7a7a7a" stroke-width="0.6"/>
<line x1="473.57" y1="723.16" x2="475.78" y2="723.16" stroke="#7a7a7a" stroke-width="0.6"/>
<rect x="473.53" y="718.21" width="2.3" height="10.89" fill="#c0c0c0" stroke="#606060" stroke-width="0.5"/>
<line x1="478" y1="717.22" x2="478" y2="726.13" stroke="#7a7a7a" stroke-width="0.6"/>
<line x1="476.9" y1="717.22" x2="479.1" y2="717.22" stroke="#7a7a7a" stroke-width="0.6"/>
<line x1="476.9" y1="726.13" x2="479.1" y2="726.13" stroke="#7a7a7a" stroke-width="0.6"/>
<rect x="476.85" y="722.17" width="2.3" height="6.93" fill="#c0c0c0" stroke="#606060" stroke-width="0.5"/>
<line x1="481.33" y1="702.37" x2="481.33" y2="721.18" stroke="#7a7a7a" stroke-width="0.6"/>
<line x1="480.23" y1="702.37" x2="482.43" y2="702.37" stroke="#7a7a7a" stroke-width="0.6"/>
<line x1="480.23" y1="721.18" x2="482.43" y2="721.18" stroke="#7a7a7a" stroke-width="0.6"/>
<rect x="480.18" y="712.27" width="2.3" height="16.83" fill="#c8c8c8" stroke="#606060" stroke-width="0.5"/>
<line x1="484.66" y1="721.18" x2="484.66" y2="726.13" stroke="#7a7a7a" stroke-width="0.6"/>
<line x1="483.56" y1="721.18" x2="485.76" y2="721.18" stroke="#7a7a7a" stroke-width="0.6"/>
<line x1="483.56" y1="726.13" x2="485.76" y2="726.13" stroke="#7a7a7a" stroke-width="0.6"/>
<rect x="483.51" y="723.65" width="2.3" height="5.45" fill="#606060" stroke="#606060" stroke-width="0.5"/>
<line x1="487.99" y1="708.31" x2="487.99" y2="722.17" stroke="#7a7a7a" stroke-width="0.6"/>
<line x1="486.88" y1="708.31" x2="489.09" y2="708.31" stroke="#7a7a7a" stroke-width="0.6"/>
<line x1="486.88" y1="722.17" x2="489.09" y2="722.17" stroke="#7a7a7a" stroke-width="0.6"/>
<rect x="486.84" y="716.23" width="2.3" height="12.87" fill="#b0b0b0" stroke="#606060" stroke-width="0.5"/>
<line x1="491.31" y1="719.2" x2="491.31" y2="726.13" stroke="#7a7a7a" stroke-width="0.6"/>
<line x1="490.21" y1="719.2" x2="492.41" y2="719.2" stroke="#7a7a7a" stroke-width="0.6"/>
<line x1="490.21" y1="726.13" x2="492.41" y2="726.13" stroke="#7a7a7a" stroke-width="0.6"/>
<rect x="490.16" y="722.67" width="2.3" height="6.43" fill="#b0b0b0" stroke="#606060" stroke-width="0.5"/>
<line x1="494.64" y1="729.1" x2="494.64" y2="732.07" stroke="#7a7a7a" stroke-width="0.6"/>
<line x1="493.54" y1="729.1" x2="495.74" y2="729.1" stroke="#7a7a7a" stroke-width="0.6"/>
<line x1="493.54" y1="732.07" x2="495.74" y2="732.07" stroke="#7a7a7a" stroke-width="0.6"/>
<rect x="493.49" y="729.1" width="2.3" height="0.99" fill="#505050" stroke="#606060" stroke-width="0.5"/>
<line x1="497.97" y1="724.15" x2="497.97" y2="729.1" stroke="#7a7a7a" stroke-width="0.6"/>
<line x1="496.87" y1="724.15" x2="499.07" y2="724.15" stroke="#7a7a7a" stroke-width="0.6"/>
<line x1="496.87" y1="729.1" x2="499.07" y2="729.1" stroke="#7a7a7a" stroke-width="0.6"/>
<rect x="496.82" y="728.11" width="2.3" height="0.99" fill="#505050" stroke="#606060" stroke-width="0.5"/>
<line x1="501.3" y1="713.26" x2="501.3" y2="724.15" stroke="#7a7a7a" stroke-width="0.6"/>
<line x1="500.19" y1="713.26" x2="502.4" y2="713.26" stroke="#7a7a7a" stroke-width="0.6"/>
<line x1="500.19" y1="724.15" x2="502.4" y2="724.15" stroke="#7a7a7a" stroke-width="0.6"/>
<rect x="500.15" y="719.2" width="2.3" height="9.9" fill="#b0b0b0" stroke="#606060" stroke-width="0.5"/>
<line x1="504.62" y1="714.25" x2="504.62" y2="724.15" stroke="#7a7a7a" stroke-width="0.6"/>
<line x1="503.52" y1="714.25" x2="505.72" y2="714.25" stroke="#7a7a7a" stroke-width="0.6"/>
<line x1="503.52" y1="724.15" x2="505.72" y2="724.15" stroke="#7a7a7a" stroke-width="0.6"/>
<rect x="503.47" y="720.19" width="2.3" height="8.91" fill="#c0c0c0" stroke="#606060" stroke-width="0.5"/>
<line x1="507.95" y1="710.29" x2="507.95" y2="721.18" stroke="#7a7a7a" stroke-width="0.6"/>
<line x1="506.85" y1="710.29" x2="509.05" y2="710.29" stroke="#7a7a7a" stroke-width="0.6"/>
<line x1="506.85" y1="721.18" x2="509.05" y2="721.18" stroke="#7a7a7a" stroke-width="0.6"/>
<rect x="506.8" y="715.24" width="2.3" height="13.86" fill="#b8b8b8" stroke="#606060" stroke-width="0.5"/>
<line x1="511.28" y1="712.27" x2="511.28" y2="724.15" stroke="#7a7a7a" stroke-width="0.6"/>
<line x1="510.18" y1="712.27" x2="512.38" y2="712.27" stroke="#7a7a7a" stroke-width="0.6"/>
<line x1="510.18" y1="724.15" x2="512.38" y2="724.15" stroke="#7a7a7a" stroke-width="0.6"/>
<rect x="510.13" y="719.2" width="2.3" height="9.9" fill="#c0c0c0" stroke="#606060" stroke-width="0.5"/>
<line x1="514.61" y1="717.22" x2="514.61" y2="723.16" stroke="#7a7a7a" stroke-width="0.6"/>
<line x1="513.5" y1="717.22" x2="515.71" y2="717.22" stroke="#7a7a7a" stroke-width="0.6"/>
<line x1="513.5" y1="723.16" x2="515.71" y2="723.16" stroke="#7a7a7a" stroke-width="0.6"/>
<rect x="513.46" y="717.22" width="2.3" height="11.88" fill="#c0c0c0" stroke="#606060" stroke-width="0.5"/>
<line x1="517.93" y1="711.28" x2="517.93" y2="723.16" stroke="#7a7a7a" stroke-width="0.6"/>
<line x1="516.83" y1="711.28" x2="519.03" y2="711.28" stroke="#7a7a7a" stroke-width="0.6"/>
<line x1="516.83" y1="723.16" x2="519.03" y2="723.16" stroke="#7a7a7a" stroke-width="0.6"/>
<rect x="516.78" y="717.22" width="2.3" height="11.88" fill="#c0c0c0" stroke="#606060" stroke-width="0.5"/>
<line x1="521.26" y1="713.26" x2="521.26" y2="725.14" stroke="#7a7a7a" stroke-width="0.6"/>
<line x1="520.16" y1="713.26" x2="522.36" y2="713.26" stroke="#7a7a7a" stroke-width="0.6"/>
<line x1="520.16" y1="725.14" x2="522.36" y2="725.14" stroke="#7a7a7a" stroke-width="0.6"/>
<rect x="520.11" y="720.19" width="2.3" height="8.91" fill="#b8b8b8" stroke="#606060" stroke-width="0.5"/>
<line x1="524.59" y1="719.2" x2="524.59" y2="726.13" stroke="#7a7a7a" stroke-width="0.6"/>
<line x1="523.49" y1="719.2" x2="525.69" y2="719.2" stroke="#7a7a7a" stroke-width="0.6"/>
<line x1="523.49" y1="726.13" x2="525.69" y2="726.13" stroke="#7a7a7a" stroke-width="0.6"/>
<rect x="523.44" y="722.67" width="2.3" height="6.43" fill="#c0c0c0" stroke="#606060" stroke-width="0.5"/>
<line x1="527.91" y1="716.23" x2="527.91" y2="725.14" stroke="#7a7a7a" stroke-width="0.6"/>
<line x1="526.81" y1="716.23" x2="529.01" y2="716.23" stroke="#7a7a7a" stroke-width="0.6"/>
<line x1="526.81" y1="725.14" x2="529.01" y2="725.14" stroke="#7a7a7a" stroke-width="0.6"/>
<rect x="526.76" y="721.18" width="2.3" height="7.92" fill="#b0b0b0" stroke="#606060" stroke-width="0.5"/>
<line x1="531.24" y1="723.16" x2="531.24" y2="727.12" stroke="#7a7a7a" stroke-width="0.6"/>
<line x1="530.14" y1="723.16" x2="532.34" y2="723.16" stroke="#7a7a7a" stroke-width="0.6"/>
<line x1="530.14" y1="727.12" x2="532.34" y2="727.12" stroke="#7a7a7a" stroke-width="0.6"/>
<rect x="530.09" y="725.44" width="2.3" height="3.66" fill="#606060" stroke="#606060" stroke-width="0.5"/>
<line x1="534.57" y1="729.1" x2="534.57" y2="732.07" stroke="#7a7a7a" stroke-width="0.6"/>
<line x1="533.47" y1="729.1" x2="535.67" y2="729.1" stroke="#7a7a7a" stroke-width="0.6"/>
<line x1="533.47" y1="732.07" x2="535.67" y2="732.07" stroke="#7a7a7a" stroke-width="0.6"/>
<rect x="533.42" y="729.1" width="2.3" height="0.99" fill="#606060" stroke="#606060" stroke-width="0.5"/>
<line x1="537.9" y1="715.24" x2="537.9" y2="725.14" stroke="#7a7a7a" stroke-width="0.6"/>
<line x1="536.8" y1="715.24" x2="539" y2="715.24" stroke="#7a7a7a" stroke-width="0.6"/>
<line x1="536.8" y1="725.14" x2="539" y2="725.14" stroke="#7a7a7a" stroke-width="0.6"/>
<rect x="536.75" y="720.19" width="2.3" height="8.91" fill="#989898" stroke="#606060" stroke-width="0.5"/>
<line x1="541.23" y1="714.25" x2="541.23" y2="723.16" stroke="#7a7a7a" stroke-width="0.6"/>
<line x1="540.12" y1="714.25" x2="542.33" y2="714.25" stroke="#7a7a7a" stroke-width="0.6"/>
<line x1="540.12" y1="723.16" x2="542.33" y2="723.16" stroke="#7a7a7a" stroke-width="0.6"/>
<rect x="540.08" y="718.21" width="2.3" height="10.89" fill="#c0c0c0" stroke="#606060" stroke-width="0.5"/>
<line x1="544.55" y1="720.19" x2="544.55" y2="726.13" stroke="#7a7a7a" stroke-width="0.6"/>
<line x1="543.45" y1="720.19" x2="545.65" y2="720.19" stroke="#7a7a7a" stroke-width="0.6"/>
<line x1="543.45" y1="726.13" x2="545.65" y2="726.13" stroke="#7a7a7a" stroke-width="0.6"/>
<rect x="543.4" y="722.17" width="2.3" height="6.93" fill="#b0b0b0" stroke="#606060" stroke-width="0.5"/>
<line x1="547.88" y1="720.19" x2="547.88" y2="726.13" stroke="#7a7a7a" stroke-width="0.6"/>
<line x1="546.78" y1="720.19" x2="548.98" y2="720.19" stroke="#7a7a7a" stroke-width="0.6"/>
<line x1="546.78" y1="726.13" x2="548.98" y2="726.13" stroke="#7a7a7a" stroke-width="0.6"/>
<rect x="546.73" y="722.96" width="2.3" height="6.14" fill="#b0b0b0" stroke="#606060" stroke-width="0.5"/>
<line x1="551.21" y1="717.22" x2="551.21" y2="725.14" stroke="#7a7a7a" stroke-width="0.6"/>
<line x1="550.11" y1="717.22" x2="552.31" y2="717.22" stroke="#7a7a7a" stroke-width="0.6"/>
<line x1="550.11" y1="725.14" x2="552.31" y2="725.14" stroke="#7a7a7a" stroke-width="0.6"/>
<rect x="550.06" y="721.18" width="2.3" height="7.92" fill="#a0a0a0" stroke="#606060" stroke-width="0.5"/>
<line x1="554.54" y1="711.28" x2="554.54" y2="724.15" stroke="#7a7a7a" stroke-width="0.6"/>
<line x1="553.44" y1="711.28" x2="555.64" y2="711.28" stroke="#7a7a7a" stroke-width="0.6"/>
<line x1="553.44" y1="724.15" x2="555.64" y2="724.15" stroke="#7a7a7a" stroke-width="0.6"/>
<rect x="553.39" y="718.71" width="2.3" height="10.39" fill="#c8c8c8" stroke="#606060" stroke-width="0.5"/>
<line x1="557.86" y1="724.15" x2="557.86" y2="727.12" stroke="#7a7a7a" stroke-width="0.6"/>
<line x1="556.76" y1="724.15" x2="558.96" y2="724.15" stroke="#7a7a7a" stroke-width="0.6"/>
<line x1="556.76" y1="727.12" x2="558.96" y2="727.12" stroke="#7a7a7a" stroke-width="0.6"/>
<rect x="556.71" y="725.63" width="2.3" height="3.47" fill="#505050" stroke="#606060" stroke-width="0.5"/>
<line x1="561.19" y1="719.2" x2="561.19" y2="726.13" stroke="#7a7a7a" stroke-width="0.6"/>
<line x1="560.09" y1="719.2" x2="562.29" y2="719.2" stroke="#7a7a7a" stroke-width="0.6"/>
<line x1="560.09" y1="726.13" x2="562.29" y2="726.13" stroke="#7a7a7a" stroke-width="0.6"/>
<rect x="560.04" y="722.96" width="2.3" height="6.14" fill="#909090" stroke="#606060" stroke-width="0.5"/>
<line x1="564.52" y1="715.24" x2="564.52" y2="725.14" stroke="#7a7a7a" stroke-width="0.6"/>
<line x1="563.42" y1="715.24" x2="565.62" y2="715.24" stroke="#7a7a7a" stroke-width="0.6"/>
<line x1="563.42" y1="725.14" x2="565.62" y2="725.14" stroke="#7a7a7a" stroke-width="0.6"/>
<rect x="563.37" y="720.19" width="2.3" height="8.91" fill="#b0b0b0" stroke="#606060" stroke-width="0.5"/>
<line x1="567.85" y1="723.16" x2="567.85" y2="727.12" stroke="#7a7a7a" stroke-width="0.6"/>
<line x1="566.75" y1="723.16" x2="568.95" y2="723.16" stroke="#7a7a7a" stroke-width="0.6"/>
<line x1="566.75" y1="727.12" x2="568.95" y2="727.12" stroke="#7a7a7a" stroke-width="0.6"/>
<rect x="566.7" y="725.63" width="2.3" height="3.47" fill="#505050" stroke="#606060" stroke-width="0.5"/>
<line x1="571.17" y1="722.17" x2="571.17" y2="727.12" stroke="#7a7a7a" stroke-width="0.6"/>
<line x1="570.07" y1="722.17" x2="572.27" y2="722.17" stroke="#7a7a7a" stroke-width="0.6"/>
<line x1="570.07" y1="727.12" x2="572.27" y2="727.12" stroke="#7a7a7a" stroke-width="0.6"/>
<rect x="570.02" y="724.64" width="2.3" height="4.46" fill="#585858" stroke="#606060" stroke-width="0.5"/>
<line x1="574.5" y1="722.17" x2="574.5" y2="727.12" stroke="#7a7a7a" stroke-width="0.6"/>
<line x1="573.4" y1="722.17" x2="575.6" y2="722.17" stroke="#7a7a7a" stroke-width="0.6"/>
<line x1="573.4" y1="727.12" x2="575.6" y2="727.12" stroke="#7a7a7a" stroke-width="0.6"/>
<rect x="573.35" y="724.15" width="2.3" height="4.95" fill="#585858" stroke="#606060" stroke-width="0.5"/>
<line x1="577.83" y1="708.31" x2="577.83" y2="723.16" stroke="#7a7a7a" stroke-width="0.6"/>
<line x1="576.73" y1="708.31" x2="578.93" y2="708.31" stroke="#7a7a7a" stroke-width="0.6"/>
<line x1="576.73" y1="723.16" x2="578.93" y2="723.16" stroke="#7a7a7a" stroke-width="0.6"/>
<rect x="576.68" y="716.23" width="2.3" height="12.87" fill="#c8c8c8" stroke="#606060" stroke-width="0.5"/>
<line x1="581.16" y1="703.36" x2="581.16" y2="719.2" stroke="#7a7a7a" stroke-width="0.6"/>
<line x1="580.06" y1="703.36" x2="582.26" y2="703.36" stroke="#7a7a7a" stroke-width="0.6"/>
<line x1="580.06" y1="719.2" x2="582.26" y2="719.2" stroke="#7a7a7a" stroke-width="0.6"/>
<rect x="580.01" y="710.29" width="2.3" height="18.81" fill="#c8c8c8" stroke="#606060" stroke-width="0.5"/>
<line x1="584.48" y1="719.2" x2="584.48" y2="725.14" stroke="#7a7a7a" stroke-width="0.6"/>
<line x1="583.38" y1="719.2" x2="585.58" y2="719.2" stroke="#7a7a7a" stroke-width="0.6"/>
<line x1="583.38" y1="725.14" x2="585.58" y2="725.14" stroke="#7a7a7a" stroke-width="0.6"/>
<rect x="583.33" y="719.7" width="2.3" height="9.4" fill="#b0b0b0" stroke="#606060" stroke-width="0.5"/>
<line x1="587.81" y1="710.29" x2="587.81" y2="723.16" stroke="#7a7a7a" stroke-width="0.6"/>
<line x1="586.71" y1="710.29" x2="588.91" y2="710.29" stroke="#7a7a7a" stroke-width="0.6"/>
<line x1="586.71" y1="723.16" x2="588.91" y2="723.16" stroke="#7a7a7a" stroke-width="0.6"/>
<rect x="586.66" y="717.22" width="2.3" height="11.88" fill="#a0a0a0" stroke="#606060" stroke-width="0.5"/>
<line x1="591.14" y1="714.25" x2="591.14" y2="725.14" stroke="#7a7a7a" stroke-width="0.6"/>
<line x1="590.04" y1="714.25" x2="592.24" y2="714.25" stroke="#7a7a7a" stroke-width="0.6"/>
<line x1="590.04" y1="725.14" x2="592.24" y2="725.14" stroke="#7a7a7a" stroke-width="0.6"/>
<rect x="589.99" y="719.7" width="2.3" height="9.4" fill="#c0c0c0" stroke="#606060" stroke-width="0.5"/>
<line x1="594.47" y1="722.91" x2="594.47" y2="725.99" stroke="#7a7a7a" stroke-width="0.6"/>
<line x1="593.37" y1="722.91" x2="595.57" y2="722.91" stroke="#7a7a7a" stroke-width="0.6"/>
<line x1="593.37" y1="725.99" x2="595.57" y2="725.99" stroke="#7a7a7a" stroke-width="0.6"/>
<rect x="593.32" y="724.96" width="2.3" height="4.14" fill="#707070" stroke="#606060" stroke-width="0.5"/>
<line x1="597.79" y1="722.3" x2="597.79" y2="726.3" stroke="#7a7a7a" stroke-width="0.6"/>
<line x1="596.69" y1="722.3" x2="598.89" y2="722.3" stroke="#7a7a7a" stroke-width="0.6"/>
<line x1="596.69" y1="726.3" x2="598.89" y2="726.3" stroke="#7a7a7a" stroke-width="0.6"/>
<rect x="596.64" y="724.96" width="2.3" height="4.14" fill="#585858" stroke="#606060" stroke-width="0.5"/>
<line x1="601.12" y1="723.41" x2="601.12" y2="726.34" stroke="#7a7a7a" stroke-width="0.6"/>
<line x1="600.02" y1="723.41" x2="602.22" y2="723.41" stroke="#7a7a7a" stroke-width="0.6"/>
<line x1="600.02" y1="726.34" x2="602.22" y2="726.34" stroke="#7a7a7a" stroke-width="0.6"/>
<rect x="599.97" y="725.36" width="2.3" height="3.74" fill="#888888" stroke="#606060" stroke-width="0.5"/>
<line x1="604.45" y1="723.37" x2="604.45" y2="725" stroke="#7a7a7a" stroke-width="0.6"/>
<line x1="603.35" y1="723.37" x2="605.55" y2="723.37" stroke="#7a7a7a" stroke-width="0.6"/>
<line x1="603.35" y1="725" x2="605.55" y2="725" stroke="#7a7a7a" stroke-width="0.6"/>
<rect x="603.3" y="724.46" width="2.3" height="4.64" fill="#606060" stroke="#606060" stroke-width="0.5"/>
<line x1="607.78" y1="723.41" x2="607.78" y2="726.43" stroke="#7a7a7a" stroke-width="0.6"/>
<line x1="606.68" y1="723.41" x2="608.88" y2="723.41" stroke="#7a7a7a" stroke-width="0.6"/>
<line x1="606.68" y1="726.43" x2="608.88" y2="726.43" stroke="#7a7a7a" stroke-width="0.6"/>
<rect x="606.63" y="725.42" width="2.3" height="3.68" fill="#505050" stroke="#606060" stroke-width="0.5"/>
<line x1="611.1" y1="723.04" x2="611.1" y2="725.61" stroke="#7a7a7a" stroke-width="0.6"/>
<line x1="610" y1="723.04" x2="612.2" y2="723.04" stroke="#7a7a7a" stroke-width="0.6"/>
<line x1="610" y1="725.61" x2="612.2" y2="725.61" stroke="#7a7a7a" stroke-width="0.6"/>
<rect x="609.95" y="724.75" width="2.3" height="4.35" fill="#707070" stroke="#606060" stroke-width="0.5"/>
<line x1="614.43" y1="722.49" x2="614.43" y2="725.75" stroke="#7a7a7a" stroke-width="0.6"/>
<line x1="613.33" y1="722.49" x2="615.53" y2="722.49" stroke="#7a7a7a" stroke-width="0.6"/>
<line x1="613.33" y1="725.75" x2="615.53" y2="725.75" stroke="#7a7a7a" stroke-width="0.6"/>
<rect x="613.28" y="724.66" width="2.3" height="4.44" fill="#585858" stroke="#606060" stroke-width="0.5"/>
<line x1="617.76" y1="722.09" x2="617.76" y2="726.02" stroke="#7a7a7a" stroke-width="0.6"/>
<line x1="616.66" y1="722.09" x2="618.86" y2="722.09" stroke="#7a7a7a" stroke-width="0.6"/>
<line x1="616.66" y1="726.02" x2="618.86" y2="726.02" stroke="#7a7a7a" stroke-width="0.6"/>
<rect x="616.61" y="724.71" width="2.3" height="4.39" fill="#505050" stroke="#606060" stroke-width="0.5"/>
<line x1="621.09" y1="724.26" x2="621.09" y2="726.19" stroke="#7a7a7a" stroke-width="0.6"/>
<line x1="619.99" y1="724.26" x2="622.19" y2="724.26" stroke="#7a7a7a" stroke-width="0.6"/>
<line x1="619.99" y1="726.19" x2="622.19" y2="726.19" stroke="#7a7a7a" stroke-width="0.6"/>
<rect x="619.94" y="725.55" width="2.3" height="3.55" fill="#585858" stroke="#606060" stroke-width="0.5"/>
<line x1="624.41" y1="722.24" x2="624.41" y2="726" stroke="#7a7a7a" stroke-width="0.6"/>
<line x1="623.31" y1="722.24" x2="625.51" y2="722.24" stroke="#7a7a7a" stroke-width="0.6"/>
<line x1="623.31" y1="726" x2="625.51" y2="726" stroke="#7a7a7a" stroke-width="0.6"/>
<rect x="623.26" y="724.74" width="2.3" height="4.36" fill="#606060" stroke="#606060" stroke-width="0.5"/>
<line x1="627.74" y1="722.34" x2="627.74" y2="726.3" stroke="#7a7a7a" stroke-width="0.6"/>
<line x1="626.64" y1="722.34" x2="628.84" y2="722.34" stroke="#7a7a7a" stroke-width="0.6"/>
<line x1="626.64" y1="726.3" x2="628.84" y2="726.3" stroke="#7a7a7a" stroke-width="0.6"/>
<rect x="626.59" y="724.98" width="2.3" height="4.12" fill="#888888" stroke="#606060" stroke-width="0.5"/>
<line x1="631.07" y1="730.96" x2="631.07" y2="733.59" stroke="#7a7a7a" stroke-width="0.6"/>
<line x1="629.97" y1="730.96" x2="632.17" y2="730.96" stroke="#7a7a7a" stroke-width="0.6"/>
<line x1="629.97" y1="733.59" x2="632.17" y2="733.59" stroke="#7a7a7a" stroke-width="0.6"/>
<rect x="629.92" y="729.1" width="2.3" height="2.74" fill="#909090" stroke="#606060" stroke-width="0.5"/>
<line x1="634.4" y1="730.34" x2="634.4" y2="733.56" stroke="#7a7a7a" stroke-width="0.6"/>
<line x1="633.3" y1="730.34" x2="635.5" y2="730.34" stroke="#7a7a7a" stroke-width="0.6"/>
<line x1="633.3" y1="733.56" x2="635.5" y2="733.56" stroke="#7a7a7a" stroke-width="0.6"/>
<rect x="633.25" y="729.1" width="2.3" height="2.31" fill="#a0a0a0" stroke="#606060" stroke-width="0.5"/>
<line x1="637.72" y1="730.48" x2="637.72" y2="734.04" stroke="#7a7a7a" stroke-width="0.6"/>
<line x1="636.62" y1="730.48" x2="638.82" y2="730.48" stroke="#7a7a7a" stroke-width="0.6"/>
<line x1="636.62" y1="734.04" x2="638.82" y2="734.04" stroke="#7a7a7a" stroke-width="0.6"/>
<rect x="636.57" y="729.1" width="2.3" height="2.57" fill="#909090" stroke="#606060" stroke-width="0.5"/>
<line x1="641.05" y1="730.47" x2="641.05" y2="733.17" stroke="#7a7a7a" stroke-width="0.6"/>
<line x1="639.95" y1="730.47" x2="642.15" y2="730.47" stroke="#7a7a7a" stroke-width="0.6"/>
<line x1="639.95" y1="733.17" x2="642.15" y2="733.17" stroke="#7a7a7a" stroke-width="0.6"/>
<rect x="639.9" y="729.1" width="2.3" height="2.27" fill="#909090" stroke="#606060" stroke-width="0.5"/>
<line x1="644.38" y1="731.01" x2="644.38" y2="732.67" stroke="#7a7a7a" stroke-width="0.6"/>
<line x1="643.28" y1="731.01" x2="645.48" y2="731.01" stroke="#7a7a7a" stroke-width="0.6"/>
<line x1="643.28" y1="732.67" x2="645.48" y2="732.67" stroke="#7a7a7a" stroke-width="0.6"/>
<rect x="643.23" y="729.1" width="2.3" height="2.46" fill="#b0b0b0" stroke="#606060" stroke-width="0.5"/>
<line x1="647.71" y1="730.31" x2="647.71" y2="733.32" stroke="#7a7a7a" stroke-width="0.6"/>
<line x1="646.61" y1="730.31" x2="648.81" y2="730.31" stroke="#7a7a7a" stroke-width="0.6"/>
<line x1="646.61" y1="733.32" x2="648.81" y2="733.32" stroke="#7a7a7a" stroke-width="0.6"/>
<rect x="646.56" y="729.1" width="2.3" height="2.21" fill="#a0a0a0" stroke="#606060" stroke-width="0.5"/>
<line x1="651.03" y1="720.91" x2="651.03" y2="726.68" stroke="#7a7a7a" stroke-width="0.6"/>
<line x1="649.93" y1="720.91" x2="652.13" y2="720.91" stroke="#7a7a7a" stroke-width="0.6"/>
<line x1="649.93" y1="726.68" x2="652.13" y2="726.68" stroke="#7a7a7a" stroke-width="0.6"/>
<rect x="649.88" y="724.76" width="2.3" height="4.34" fill="#606060" stroke="#606060" stroke-width="0.5"/>
<line x1="654.36" y1="723.37" x2="654.36" y2="726.02" stroke="#7a7a7a" stroke-width="0.6"/>
<line x1="653.26" y1="723.37" x2="655.46" y2="723.37" stroke="#7a7a7a" stroke-width="0.6"/>
<line x1="653.26" y1="726.02" x2="655.46" y2="726.02" stroke="#7a7a7a" stroke-width="0.6"/>
<rect x="653.21" y="725.14" width="2.3" height="3.96" fill="#505050" stroke="#606060" stroke-width="0.5"/>
<line x1="657.69" y1="720.77" x2="657.69" y2="726.63" stroke="#7a7a7a" stroke-width="0.6"/>
<line x1="656.59" y1="720.77" x2="658.79" y2="720.77" stroke="#7a7a7a" stroke-width="0.6"/>
<line x1="656.59" y1="726.63" x2="658.79" y2="726.63" stroke="#7a7a7a" stroke-width="0.6"/>
<rect x="656.54" y="724.67" width="2.3" height="4.43" fill="#585858" stroke="#606060" stroke-width="0.5"/>
<line x1="661.02" y1="721.97" x2="661.02" y2="726.1" stroke="#7a7a7a" stroke-width="0.6"/>
<line x1="659.92" y1="721.97" x2="662.12" y2="721.97" stroke="#7a7a7a" stroke-width="0.6"/>
<line x1="659.92" y1="726.1" x2="662.12" y2="726.1" stroke="#7a7a7a" stroke-width="0.6"/>
<rect x="659.87" y="724.72" width="2.3" height="4.38" fill="#505050" stroke="#606060" stroke-width="0.5"/>
<line x1="664.34" y1="722.43" x2="664.34" y2="725.34" stroke="#7a7a7a" stroke-width="0.6"/>
<line x1="663.24" y1="722.43" x2="665.44" y2="722.43" stroke="#7a7a7a" stroke-width="0.6"/>
<line x1="663.24" y1="725.34" x2="665.44" y2="725.34" stroke="#7a7a7a" stroke-width="0.6"/>
<rect x="663.19" y="724.37" width="2.3" height="4.73" fill="#505050" stroke="#606060" stroke-width="0.5"/>
<line x1="667.67" y1="723.6" x2="667.67" y2="725.45" stroke="#7a7a7a" stroke-width="0.6"/>
<line x1="666.57" y1="723.6" x2="668.77" y2="723.6" stroke="#7a7a7a" stroke-width="0.6"/>
<line x1="666.57" y1="725.45" x2="668.77" y2="725.45" stroke="#7a7a7a" stroke-width="0.6"/>
<rect x="666.52" y="724.83" width="2.3" height="4.27" fill="#585858" stroke="#606060" stroke-width="0.5"/>
<line x1="40.3" y1="666" x2="40.3" y2="786" stroke="#8a8a8a" stroke-width="1.2"/>
<path d="M40.3 659 L37.3 667 L43.3 667 Z" fill="#7a7a7a"/>
<line x1="40.3" y1="786" x2="670" y2="786" stroke="#8a8a8a" stroke-width="1.2"/>
<line x1="38.3" y1="778.6" x2="40.3" y2="778.6" stroke="#8a8a8a" stroke-width="1"/>
<line x1="36.8" y1="768.7" x2="40.3" y2="768.7" stroke="#8a8a8a" stroke-width="1"/>
<line x1="38.3" y1="758.8" x2="40.3" y2="758.8" stroke="#8a8a8a" stroke-width="1"/>
<line x1="36.8" y1="748.9" x2="40.3" y2="748.9" stroke="#8a8a8a" stroke-width="1"/>
<line x1="38.3" y1="739" x2="40.3" y2="739" stroke="#8a8a8a" stroke-width="1"/>
<line x1="36.8" y1="729.1" x2="40.3" y2="729.1" stroke="#8a8a8a" stroke-width="1"/>
<line x1="38.3" y1="719.2" x2="40.3" y2="719.2" stroke="#8a8a8a" stroke-width="1"/>
<line x1="36.8" y1="709.3" x2="40.3" y2="709.3" stroke="#8a8a8a" stroke-width="1"/>
<line x1="38.3" y1="699.4" x2="40.3" y2="699.4" stroke="#8a8a8a" stroke-width="1"/>
<line x1="36.8" y1="689.5" x2="40.3" y2="689.5" stroke="#8a8a8a" stroke-width="1"/>
<line x1="38.3" y1="679.6" x2="40.3" y2="679.6" stroke="#8a8a8a" stroke-width="1"/>
<line x1="36.8" y1="669.7" x2="40.3" y2="669.7" stroke="#8a8a8a" stroke-width="1"/>
<text transform="translate(33.2 673.3) scale(0.92 1.05)" font-size="7.8" text-anchor="end" fill="#444" >0.6</text>
<text transform="translate(33.2 693.1) scale(0.92 1.05)" font-size="7.8" text-anchor="end" fill="#444" >0.4</text>
<text transform="translate(33.2 712.9) scale(0.92 1.05)" font-size="7.8" text-anchor="end" fill="#444" >0.2</text>
<text transform="translate(33.2 732.7) scale(0.92 1.05)" font-size="7.8" text-anchor="end" fill="#444" >0</text>
<text transform="translate(33.2 752.5) scale(0.92 1.05)" font-size="7.8" text-anchor="end" fill="#444" >-0.2</text>
<text transform="translate(33.2 772.3) scale(0.92 1.05)" font-size="7.8" text-anchor="end" fill="#444" >-0.4</text>
<text transform="translate(16.1 722.6) rotate(-90)" font-size="8.6" text-anchor="middle" fill="#444" textLength="56.3" lengthAdjust="spacingAndGlyphs">0.908265 * pq[1]</text>
<line x1="42.1" y1="786" x2="42.1" y2="789.5" stroke="#8a8a8a" stroke-width="1"/>
<text transform="translate(44.7 793.8) rotate(-90)" font-size="8.2" text-anchor="end" fill="#555" textLength="58.8" lengthAdjust="spacingAndGlyphs">CP149.0247_11.7</text>
<line x1="55.41" y1="786" x2="55.41" y2="789.5" stroke="#8a8a8a" stroke-width="1"/>
<text transform="translate(58.01 793.8) rotate(-90)" font-size="8.2" text-anchor="end" fill="#555" textLength="58.8" lengthAdjust="spacingAndGlyphs">CP200.2019_10.8</text>
<line x1="68.72" y1="786" x2="68.72" y2="789.5" stroke="#8a8a8a" stroke-width="1"/>
<text transform="translate(71.32 793.8) rotate(-90)" font-size="8.2" text-anchor="end" fill="#555" textLength="58.8" lengthAdjust="spacingAndGlyphs">CP209.1556_9.24</text>
<line x1="82.03" y1="786" x2="82.03" y2="789.5" stroke="#8a8a8a" stroke-width="1"/>
<text transform="translate(84.63 793.8) rotate(-90)" font-size="8.2" text-anchor="end" fill="#555" textLength="58.8" lengthAdjust="spacingAndGlyphs">CP228.2311_7.58</text>
<line x1="95.34" y1="786" x2="95.34" y2="789.5" stroke="#8a8a8a" stroke-width="1"/>
<text transform="translate(97.94 793.8) rotate(-90)" font-size="8.2" text-anchor="end" fill="#555" textLength="58.8" lengthAdjust="spacingAndGlyphs">CP235.1680_11.8</text>
<line x1="108.65" y1="786" x2="108.65" y2="789.5" stroke="#8a8a8a" stroke-width="1"/>
<text transform="translate(111.25 793.8) rotate(-90)" font-size="8.2" text-anchor="end" fill="#555" textLength="58.8" lengthAdjust="spacingAndGlyphs">CP235.1715_11.7</text>
<line x1="121.96" y1="786" x2="121.96" y2="789.5" stroke="#8a8a8a" stroke-width="1"/>
<text transform="translate(124.56 793.8) rotate(-90)" font-size="8.2" text-anchor="end" fill="#555" textLength="58.8" lengthAdjust="spacingAndGlyphs">CP240.1978_7.76</text>
<line x1="135.27" y1="786" x2="135.27" y2="789.5" stroke="#8a8a8a" stroke-width="1"/>
<text transform="translate(137.87 793.8) rotate(-90)" font-size="8.2" text-anchor="end" fill="#555" textLength="58.8" lengthAdjust="spacingAndGlyphs">CP256.2579_9.85</text>
<line x1="148.58" y1="786" x2="148.58" y2="789.5" stroke="#8a8a8a" stroke-width="1"/>
<text transform="translate(151.18 793.8) rotate(-90)" font-size="8.2" text-anchor="end" fill="#555" textLength="58.8" lengthAdjust="spacingAndGlyphs">CP256.2655_7.59</text>
<line x1="161.89" y1="786" x2="161.89" y2="789.5" stroke="#8a8a8a" stroke-width="1"/>
<text transform="translate(164.49 793.8) rotate(-90)" font-size="8.2" text-anchor="end" fill="#555" textLength="58.8" lengthAdjust="spacingAndGlyphs">CP256.2659_9.10</text>
<line x1="175.2" y1="786" x2="175.2" y2="789.5" stroke="#8a8a8a" stroke-width="1"/>
<text transform="translate(177.8 793.8) rotate(-90)" font-size="8.2" text-anchor="end" fill="#555" textLength="58.8" lengthAdjust="spacingAndGlyphs">CP262.1807_7.74</text>
<line x1="188.51" y1="786" x2="188.51" y2="789.5" stroke="#8a8a8a" stroke-width="1"/>
<text transform="translate(191.11 793.8) rotate(-90)" font-size="8.2" text-anchor="end" fill="#555" textLength="58.8" lengthAdjust="spacingAndGlyphs">CP273.2581_11.8</text>
<line x1="201.82" y1="786" x2="201.82" y2="789.5" stroke="#8a8a8a" stroke-width="1"/>
<text transform="translate(204.42 793.8) rotate(-90)" font-size="8.2" text-anchor="end" fill="#555" textLength="58.8" lengthAdjust="spacingAndGlyphs">CP284.2933_12.6</text>
<line x1="215.13" y1="786" x2="215.13" y2="789.5" stroke="#8a8a8a" stroke-width="1"/>
<text transform="translate(217.73 793.8) rotate(-90)" font-size="8.2" text-anchor="end" fill="#555" textLength="58.8" lengthAdjust="spacingAndGlyphs">CP284.2964_12.7</text>
<line x1="228.44" y1="786" x2="228.44" y2="789.5" stroke="#8a8a8a" stroke-width="1"/>
<text transform="translate(231.04 793.8) rotate(-90)" font-size="8.2" text-anchor="end" fill="#555" textLength="58.8" lengthAdjust="spacingAndGlyphs">CP285.2982_11.0</text>
<line x1="241.75" y1="786" x2="241.75" y2="789.5" stroke="#8a8a8a" stroke-width="1"/>
<text transform="translate(244.35 793.8) rotate(-90)" font-size="8.2" text-anchor="end" fill="#555" textLength="58.8" lengthAdjust="spacingAndGlyphs">CP294.2049_10.9</text>
<line x1="255.06" y1="786" x2="255.06" y2="789.5" stroke="#8a8a8a" stroke-width="1"/>
<text transform="translate(257.66 793.8) rotate(-90)" font-size="8.2" text-anchor="end" fill="#555" textLength="58.8" lengthAdjust="spacingAndGlyphs">CP301.1421_11.6</text>
<line x1="268.37" y1="786" x2="268.37" y2="789.5" stroke="#8a8a8a" stroke-width="1"/>
<text transform="translate(270.97 793.8) rotate(-90)" font-size="8.2" text-anchor="end" fill="#555" textLength="58.8" lengthAdjust="spacingAndGlyphs">CP307.2654_12.1</text>
<line x1="281.68" y1="786" x2="281.68" y2="789.5" stroke="#8a8a8a" stroke-width="1"/>
<text transform="translate(284.28 793.8) rotate(-90)" font-size="8.2" text-anchor="end" fill="#555" textLength="58.8" lengthAdjust="spacingAndGlyphs">CP324.2887_12.3</text>
<line x1="294.99" y1="786" x2="294.99" y2="789.5" stroke="#8a8a8a" stroke-width="1"/>
<text transform="translate(297.59 793.8) rotate(-90)" font-size="8.2" text-anchor="end" fill="#555" textLength="58.8" lengthAdjust="spacingAndGlyphs">CP325.2928_12.1</text>
<line x1="308.3" y1="786" x2="308.3" y2="789.5" stroke="#8a8a8a" stroke-width="1"/>
<text transform="translate(310.9 793.8) rotate(-90)" font-size="8.2" text-anchor="end" fill="#555" textLength="58.8" lengthAdjust="spacingAndGlyphs">CP337.1969_6.17</text>
<line x1="321.61" y1="786" x2="321.61" y2="789.5" stroke="#8a8a8a" stroke-width="1"/>
<text transform="translate(324.21 793.8) rotate(-90)" font-size="8.2" text-anchor="end" fill="#555" textLength="58.8" lengthAdjust="spacingAndGlyphs">CP338.3392_11.3</text>
<line x1="334.92" y1="786" x2="334.92" y2="789.5" stroke="#8a8a8a" stroke-width="1"/>
<text transform="translate(337.52 793.8) rotate(-90)" font-size="8.2" text-anchor="end" fill="#555" textLength="58.8" lengthAdjust="spacingAndGlyphs">CP338.3440_13.3</text>
<line x1="348.23" y1="786" x2="348.23" y2="789.5" stroke="#8a8a8a" stroke-width="1"/>
<text transform="translate(350.83 793.8) rotate(-90)" font-size="8.2" text-anchor="end" fill="#555" textLength="58.8" lengthAdjust="spacingAndGlyphs">CP346.2726_12.9</text>
<line x1="361.54" y1="786" x2="361.54" y2="789.5" stroke="#8a8a8a" stroke-width="1"/>
<text transform="translate(364.14 793.8) rotate(-90)" font-size="8.2" text-anchor="end" fill="#555" textLength="58.8" lengthAdjust="spacingAndGlyphs">CP347.2760_13.2</text>
<line x1="374.85" y1="786" x2="374.85" y2="789.5" stroke="#8a8a8a" stroke-width="1"/>
<text transform="translate(377.45 793.8) rotate(-90)" font-size="8.2" text-anchor="end" fill="#555" textLength="58.8" lengthAdjust="spacingAndGlyphs">CP348.2858_12.7</text>
<line x1="388.16" y1="786" x2="388.16" y2="789.5" stroke="#8a8a8a" stroke-width="1"/>
<text transform="translate(390.76 793.8) rotate(-90)" font-size="8.2" text-anchor="end" fill="#555" textLength="58.8" lengthAdjust="spacingAndGlyphs">CP351.2521_11.1</text>
<line x1="401.47" y1="786" x2="401.47" y2="789.5" stroke="#8a8a8a" stroke-width="1"/>
<text transform="translate(404.07 793.8) rotate(-90)" font-size="8.2" text-anchor="end" fill="#555" textLength="58.8" lengthAdjust="spacingAndGlyphs">CP354.3355_11.1</text>
<line x1="414.78" y1="786" x2="414.78" y2="789.5" stroke="#8a8a8a" stroke-width="1"/>
<text transform="translate(417.38 793.8) rotate(-90)" font-size="8.2" text-anchor="end" fill="#555" textLength="58.8" lengthAdjust="spacingAndGlyphs">CP372.3476_11.6</text>
<line x1="428.09" y1="786" x2="428.09" y2="789.5" stroke="#8a8a8a" stroke-width="1"/>
<text transform="translate(430.69 793.8) rotate(-90)" font-size="8.2" text-anchor="end" fill="#555" textLength="58.8" lengthAdjust="spacingAndGlyphs">CP390.2989_13.7</text>
<line x1="441.4" y1="786" x2="441.4" y2="789.5" stroke="#8a8a8a" stroke-width="1"/>
<text transform="translate(444 793.8) rotate(-90)" font-size="8.2" text-anchor="end" fill="#555" textLength="58.8" lengthAdjust="spacingAndGlyphs">CP392.3118_11.4</text>
<line x1="454.71" y1="786" x2="454.71" y2="789.5" stroke="#8a8a8a" stroke-width="1"/>
<text transform="translate(457.31 793.8) rotate(-90)" font-size="8.2" text-anchor="end" fill="#555" textLength="58.8" lengthAdjust="spacingAndGlyphs">CP410.3268_8.73</text>
<line x1="468.02" y1="786" x2="468.02" y2="789.5" stroke="#8a8a8a" stroke-width="1"/>
<text transform="translate(470.62 793.8) rotate(-90)" font-size="8.2" text-anchor="end" fill="#555" textLength="58.8" lengthAdjust="spacingAndGlyphs">CP412.2869_6.66</text>
<line x1="481.33" y1="786" x2="481.33" y2="789.5" stroke="#8a8a8a" stroke-width="1"/>
<text transform="translate(483.93 793.8) rotate(-90)" font-size="8.2" text-anchor="end" fill="#555" textLength="58.8" lengthAdjust="spacingAndGlyphs">CP414.3018_7.90</text>
<line x1="494.64" y1="786" x2="494.64" y2="789.5" stroke="#8a8a8a" stroke-width="1"/>
<text transform="translate(497.24 793.8) rotate(-90)" font-size="8.2" text-anchor="end" fill="#555" textLength="58.8" lengthAdjust="spacingAndGlyphs">CP425.2155_12.5</text>
<line x1="507.95" y1="786" x2="507.95" y2="789.5" stroke="#8a8a8a" stroke-width="1"/>
<text transform="translate(510.55 793.8) rotate(-90)" font-size="8.2" text-anchor="end" fill="#555" textLength="58.8" lengthAdjust="spacingAndGlyphs">CP430.2964_6.28</text>
<line x1="521.26" y1="786" x2="521.26" y2="789.5" stroke="#8a8a8a" stroke-width="1"/>
<text transform="translate(523.86 793.8) rotate(-90)" font-size="8.2" text-anchor="end" fill="#555" textLength="58.8" lengthAdjust="spacingAndGlyphs">CP432.3102_8.84</text>
<line x1="534.57" y1="786" x2="534.57" y2="789.5" stroke="#8a8a8a" stroke-width="1"/>
<text transform="translate(537.17 793.8) rotate(-90)" font-size="8.2" text-anchor="end" fill="#555" textLength="58.8" lengthAdjust="spacingAndGlyphs">CP436.4349_11.8</text>
<line x1="547.88" y1="786" x2="547.88" y2="789.5" stroke="#8a8a8a" stroke-width="1"/>
<text transform="translate(550.48 793.8) rotate(-90)" font-size="8.2" text-anchor="end" fill="#555" textLength="58.8" lengthAdjust="spacingAndGlyphs">CP448.3074_6.61</text>
<line x1="561.19" y1="786" x2="561.19" y2="789.5" stroke="#8a8a8a" stroke-width="1"/>
<text transform="translate(563.79 793.8) rotate(-90)" font-size="8.2" text-anchor="end" fill="#555" textLength="58.8" lengthAdjust="spacingAndGlyphs">CP450.3224_9.02</text>
<line x1="574.5" y1="786" x2="574.5" y2="789.5" stroke="#8a8a8a" stroke-width="1"/>
<text transform="translate(577.1 793.8) rotate(-90)" font-size="8.2" text-anchor="end" fill="#555" textLength="58.8" lengthAdjust="spacingAndGlyphs">CP462.2691_5.25</text>
<line x1="587.81" y1="786" x2="587.81" y2="789.5" stroke="#8a8a8a" stroke-width="1"/>
<text transform="translate(590.41 793.8) rotate(-90)" font-size="8.2" text-anchor="end" fill="#555" textLength="58.8" lengthAdjust="spacingAndGlyphs">CP466.3183_6.57</text>
<line x1="601.12" y1="786" x2="601.12" y2="789.5" stroke="#8a8a8a" stroke-width="1"/>
<text transform="translate(603.72 793.8) rotate(-90)" font-size="8.2" text-anchor="end" fill="#555" textLength="58.8" lengthAdjust="spacingAndGlyphs">CP480.2786_5.17</text>
<line x1="614.43" y1="786" x2="614.43" y2="789.5" stroke="#8a8a8a" stroke-width="1"/>
<text transform="translate(617.03 793.8) rotate(-90)" font-size="8.2" text-anchor="end" fill="#555" textLength="58.8" lengthAdjust="spacingAndGlyphs">CP498.2874_6.45</text>
<line x1="627.74" y1="786" x2="627.74" y2="789.5" stroke="#8a8a8a" stroke-width="1"/>
<text transform="translate(630.34 793.8) rotate(-90)" font-size="8.2" text-anchor="end" fill="#555" textLength="58.8" lengthAdjust="spacingAndGlyphs">CP516.3000_5.24</text>
<line x1="641.05" y1="786" x2="641.05" y2="789.5" stroke="#8a8a8a" stroke-width="1"/>
<text transform="translate(643.65 793.8) rotate(-90)" font-size="8.2" text-anchor="end" fill="#555" textLength="58.8" lengthAdjust="spacingAndGlyphs">CP520.3421_9.62</text>
<line x1="654.36" y1="786" x2="654.36" y2="789.5" stroke="#8a8a8a" stroke-width="1"/>
<text transform="translate(656.96 793.8) rotate(-90)" font-size="8.2" text-anchor="end" fill="#555" textLength="58.8" lengthAdjust="spacingAndGlyphs">CP899.6367_7.80</text>
<line x1="667.67" y1="786" x2="667.67" y2="789.5" stroke="#8a8a8a" stroke-width="1"/>
<text transform="translate(670.27 793.8) rotate(-90)" font-size="8.2" text-anchor="end" fill="#555" textLength="58.8" lengthAdjust="spacingAndGlyphs">CP953.6045_7.21</text>
<text x="355.3" y="863.6" font-size="8.2" text-anchor="middle" fill="#444" font-weight="normal" textLength="57" lengthAdjust="spacingAndGlyphs">Var ID (Primary)</text>
<defs><linearGradient id="cb2" x1="0" y1="0" x2="0" y2="1"><stop offset="0" stop-color="#727272"/><stop offset="0.09" stop-color="#a8a8a8"/><stop offset="0.2" stop-color="#c8c8c8"/><stop offset="0.4" stop-color="#d8d8d8"/><stop offset="0.6" stop-color="#d0d0d0"/><stop offset="0.7" stop-color="#c0c0c0"/><stop offset="0.8" stop-color="#a0a0a0"/><stop offset="0.91" stop-color="#6a6a6a"/><stop offset="1" stop-color="#454545"/></linearGradient></defs>
<rect x="672.2" y="673.2" width="10.2" height="172.6" fill="url(#cb2)"/>
<text x="685" y="711.9" font-size="9" text-anchor="start" fill="#333" font-weight="normal" >8</text>
<text x="685" y="746.3" font-size="9" text-anchor="start" fill="#333" font-weight="normal" >6</text>
<text x="685" y="780.7" font-size="9" text-anchor="start" fill="#333" font-weight="normal" >4</text>
<text x="685" y="815.1" font-size="9" text-anchor="start" fill="#333" font-weight="normal" >2</text>
<text x="685" y="849.5" font-size="9" text-anchor="start" fill="#333" font-weight="normal" >0</text>
<text x="671.5" y="667.8" font-size="9" text-anchor="start" fill="#333" font-weight="normal" textLength="54.5" lengthAdjust="spacingAndGlyphs">M39.VIP[1]cv[1]</text>
<rect x="672.2" y="855.2" width="10.2" height="7.8" fill="#c0c0c0"/>
<text x="684.2" y="863.3" font-size="9.4" text-anchor="start" fill="#333" font-weight="normal" textLength="29" lengthAdjust="spacingAndGlyphs">Missing</text>
<text x="736" y="870" font-size="7" text-anchor="end" fill="#777" font-weight="normal" textLength="149" lengthAdjust="spacingAndGlyphs">SIMCA 13.0 - 26/05/2015 12:37:21 p.m. (UTC+12)</text>
<text x="-0.2" y="656.2" font-size="19.2" text-anchor="start" fill="#111" font-weight="bold" textLength="24.2" lengthAdjust="spacingAndGlyphs">(c)</text>
</svg></body></html>
